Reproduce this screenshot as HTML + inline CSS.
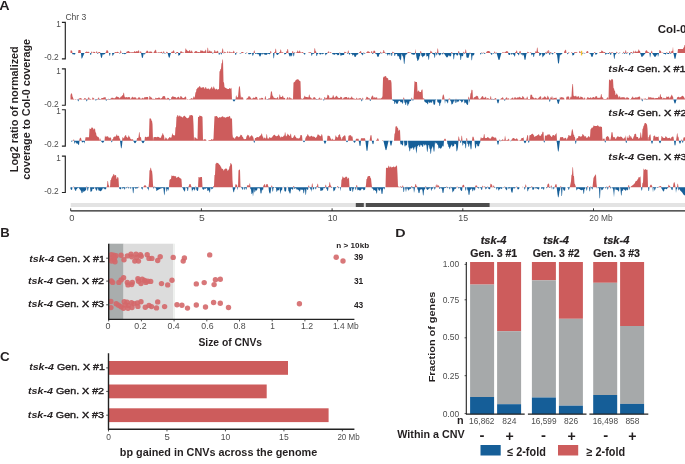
<!DOCTYPE html>
<html><head><meta charset="utf-8"><title>Figure</title>
<style>html,body{margin:0;padding:0;background:#fff;width:685px;height:464px;overflow:hidden;position:relative;font-family:"Liberation Sans",sans-serif}</style>
</head><body>
<svg width="685" height="464" viewBox="0 0 685 464" style="display:block;will-change:transform">
<g font-family='"Liberation Sans", sans-serif'>
<path d="M61.9,22.40 H65.3 V58.80 H61.9" fill="none" stroke="#222" stroke-width="1.15"/>
<path d="M70.5,53.00 L70.5,50.50 L71.0,50.50 L71.5,50.50 L72.0,50.50 L72.5,53.00 L73.0,53.00 L73.5,53.00 L74.0,53.00 L74.5,53.00 L75.0,53.00 L75.5,53.00 L76.0,53.00 L76.5,53.00 L77.0,53.00 L77.5,53.00 L78.0,53.00 L78.5,49.98 L79.0,49.97 L79.5,49.95 L80.0,49.93 L80.5,49.91 L81.0,53.00 L81.5,53.00 L82.0,53.00 L82.5,53.00 L83.0,53.00 L83.5,53.00 L84.0,53.00 L84.5,53.00 L85.0,53.00 L85.5,52.05 L86.0,52.05 L86.5,51.62 L87.0,51.62 L87.5,52.01 L88.0,52.01 L88.5,51.87 L89.0,51.87 L89.5,53.00 L90.0,53.00 L90.5,53.00 L91.0,53.00 L91.5,51.38 L92.0,51.38 L92.5,53.00 L93.0,53.00 L93.5,51.75 L94.0,51.75 L94.5,51.93 L95.0,51.93 L95.5,53.00 L96.0,53.00 L96.5,51.14 L97.0,51.14 L97.5,53.00 L98.0,53.00 L98.5,51.88 L99.0,51.88 L99.5,51.94 L100.0,51.94 L100.5,53.00 L101.0,53.00 L101.5,53.00 L102.0,53.00 L102.5,53.00 L103.0,53.00 L103.5,53.00 L104.0,53.00 L104.5,53.00 L105.0,53.00 L105.5,52.60 L106.0,52.60 L106.5,50.35 L107.0,50.35 L107.5,50.54 L108.0,50.54 L108.5,53.00 L109.0,53.00 L109.5,53.00 L110.0,53.00 L110.5,53.00 L111.0,53.00 L111.5,53.00 L112.0,53.00 L112.5,53.00 L113.0,53.00 L113.5,53.00 L114.0,53.00 L114.5,52.56 L115.0,52.56 L115.5,52.12 L116.0,52.12 L116.5,52.17 L117.0,52.17 L117.5,51.63 L118.0,51.63 L118.5,52.59 L119.0,52.59 L119.5,53.00 L120.0,53.00 L120.5,50.47 L121.0,50.47 L121.5,53.00 L122.0,53.00 L122.5,53.00 L123.0,53.00 L123.5,53.00 L124.0,53.00 L124.5,53.00 L125.0,53.00 L125.5,53.00 L126.0,53.00 L126.5,51.68 L127.0,51.68 L127.5,51.23 L128.0,51.23 L128.5,51.03 L129.0,51.03 L129.5,52.12 L130.0,52.12 L130.5,52.53 L131.0,52.53 L131.5,52.36 L132.0,52.36 L132.5,52.22 L133.0,52.22 L133.5,52.30 L134.0,52.30 L134.5,51.09 L135.0,51.09 L135.5,52.02 L136.0,52.02 L136.5,51.11 L137.0,51.11 L137.5,51.49 L138.0,51.49 L138.5,50.13 L139.0,50.13 L139.5,53.00 L140.0,53.00 L140.5,51.19 L141.0,51.19 L141.5,53.00 L142.0,53.00 L142.5,53.00 L143.0,53.00 L143.5,53.00 L144.0,53.00 L144.5,53.00 L145.0,53.00 L145.5,52.44 L146.0,52.44 L146.5,50.73 L147.0,50.73 L147.5,50.77 L148.0,50.77 L148.5,52.43 L149.0,52.43 L149.5,51.43 L150.0,51.43 L150.5,51.43 L151.0,51.43 L151.5,51.86 L152.0,51.86 L152.5,53.00 L153.0,53.00 L153.5,52.48 L154.0,52.48 L154.5,50.79 L155.0,50.79 L155.5,49.78 L156.0,49.78 L156.5,52.43 L157.0,52.43 L157.5,52.64 L158.0,52.64 L158.5,52.13 L159.0,52.13 L159.5,52.44 L160.0,52.44 L160.5,52.28 L161.0,52.28 L161.5,51.84 L162.0,51.84 L162.5,53.00 L163.0,53.00 L163.5,51.28 L164.0,51.28 L164.5,53.00 L165.0,53.00 L165.5,53.00 L166.0,53.00 L166.5,51.67 L167.0,51.67 L167.5,52.27 L168.0,53.00 L168.5,53.00 L169.0,53.00 L169.5,53.00 L170.0,53.00 L170.5,53.00 L171.0,53.00 L171.5,51.72 L172.0,51.72 L172.5,51.42 L173.0,51.42 L173.5,50.13 L174.0,50.13 L174.5,52.64 L175.0,52.64 L175.5,53.00 L176.0,53.00 L176.5,51.94 L177.0,51.94 L177.5,51.90 L178.0,51.90 L178.5,53.00 L179.0,53.00 L179.5,53.00 L180.0,53.00 L180.5,51.17 L181.0,51.17 L181.5,51.60 L182.0,51.60 L182.5,52.60 L183.0,52.60 L183.5,52.38 L184.0,52.38 L184.5,53.00 L185.0,53.00 L185.5,48.47 L186.0,48.47 L186.5,50.00 L187.0,50.00 L187.5,51.01 L188.0,51.01 L188.5,51.37 L189.0,51.37 L189.5,49.96 L190.0,49.96 L190.5,51.82 L191.0,51.82 L191.5,50.60 L192.0,50.60 L192.5,52.54 L193.0,52.54 L193.5,53.00 L194.0,53.00 L194.5,51.66 L195.0,51.66 L195.5,51.11 L196.0,51.11 L196.5,51.27 L197.0,51.27 L197.5,52.34 L198.0,52.34 L198.5,52.07 L199.0,52.07 L199.5,52.24 L200.0,52.24 L200.5,50.21 L201.0,50.21 L201.5,50.74 L202.0,50.74 L202.5,50.79 L203.0,50.79 L203.5,51.43 L204.0,51.43 L204.5,51.28 L205.0,51.28 L205.5,49.68 L206.0,49.68 L206.5,53.00 L207.0,53.00 L207.5,47.66 L208.0,47.66 L208.5,51.70 L209.0,51.70 L209.5,50.51 L210.0,50.51 L210.5,51.57 L211.0,51.57 L211.5,51.54 L212.0,51.54 L212.5,53.00 L213.0,53.00 L213.5,52.53 L214.0,52.53 L214.5,49.99 L215.0,49.99 L215.5,51.63 L216.0,51.63 L216.5,51.56 L217.0,51.56 L217.5,50.79 L218.0,50.79 L218.5,53.00 L219.0,53.00 L219.5,53.00 L220.0,52.61 L220.5,52.19 L221.0,53.00 L221.5,53.00 L222.0,51.04 L222.5,48.57 L223.0,48.57 L223.5,53.00 L224.0,53.00 L224.5,51.83 L225.0,51.83 L225.5,52.57 L226.0,52.57 L226.5,53.00 L227.0,53.00 L227.5,51.37 L228.0,51.37 L228.5,53.00 L229.0,53.00 L229.5,51.38 L230.0,51.38 L230.5,52.58 L231.0,52.58 L231.5,52.36 L232.0,52.36 L232.5,52.47 L233.0,52.47 L233.5,50.73 L234.0,50.73 L234.5,52.45 L235.0,53.00 L235.5,53.00 L236.0,53.00 L236.5,52.28 L237.0,52.28 L237.5,53.00 L238.0,53.00 L238.5,53.00 L239.0,53.00 L239.5,53.00 L240.0,53.00 L240.5,53.00 L241.0,53.00 L241.5,52.11 L242.0,52.11 L242.5,52.03 L243.0,52.03 L243.5,52.63 L244.0,52.63 L244.5,53.00 L245.0,53.00 L245.5,53.00 L246.0,53.00 L246.5,52.44 L247.0,52.44 L247.5,53.00 L248.0,53.00 L248.5,53.00 L249.0,53.00 L249.5,53.00 L250.0,53.00 L250.5,53.00 L251.0,53.00 L251.5,53.00 L252.0,53.00 L252.5,53.00 L253.0,53.00 L253.5,53.00 L254.0,50.50 L254.5,50.50 L255.0,53.00 L255.5,53.00 L256.0,53.00 L256.5,53.00 L257.0,53.00 L257.5,53.00 L258.0,53.00 L258.5,53.00 L259.0,53.00 L259.5,53.00 L260.0,53.00 L260.5,53.00 L261.0,53.00 L261.5,53.00 L262.0,53.00 L262.5,53.00 L263.0,53.00 L263.5,53.00 L264.0,53.00 L264.5,53.00 L265.0,53.00 L265.5,53.00 L266.0,53.00 L266.5,53.00 L267.0,53.00 L267.5,53.00 L268.0,53.00 L268.5,53.00 L269.0,53.00 L269.5,53.00 L270.0,53.00 L270.5,51.10 L271.0,51.10 L271.5,53.00 L272.0,53.00 L272.5,53.00 L273.0,53.00 L273.5,53.00 L274.0,53.00 L274.5,51.98 L275.0,51.98 L275.5,48.79 L276.0,48.79 L276.5,53.00 L277.0,53.00 L277.5,53.00 L278.0,53.00 L278.5,53.00 L279.0,53.00 L279.5,52.07 L280.0,52.07 L280.5,49.46 L281.0,49.46 L281.5,52.43 L282.0,52.43 L282.5,52.32 L283.0,52.32 L283.5,53.00 L284.0,53.00 L284.5,53.00 L285.0,53.00 L285.5,53.00 L286.0,53.00 L286.5,51.19 L287.0,51.19 L287.5,48.95 L288.0,48.95 L288.5,53.00 L289.0,53.00 L289.5,53.00 L290.0,53.00 L290.5,53.00 L291.0,53.00 L291.5,53.00 L292.0,53.00 L292.5,51.09 L293.0,51.09 L293.5,53.00 L294.0,53.00 L294.5,52.35 L295.0,52.35 L295.5,53.00 L296.0,53.00 L296.5,52.22 L297.0,52.22 L297.5,50.54 L298.0,50.54 L298.5,52.04 L299.0,52.04 L299.5,50.42 L300.0,50.42 L300.5,52.44 L301.0,52.44 L301.5,52.38 L302.0,52.38 L302.5,51.89 L303.0,51.89 L303.5,53.00 L304.0,53.00 L304.5,53.00 L305.0,53.00 L305.5,53.00 L306.0,53.00 L306.5,53.00 L307.0,53.00 L307.5,53.00 L308.0,53.00 L308.5,52.43 L309.0,52.43 L309.5,52.35 L310.0,52.35 L310.5,52.30 L311.0,52.30 L311.5,53.00 L312.0,53.00 L312.5,53.00 L313.0,53.00 L313.5,53.00 L314.0,53.00 L314.5,48.16 L315.0,48.16 L315.5,51.24 L316.0,51.24 L316.5,53.00 L317.0,53.00 L317.5,53.00 L318.0,53.00 L318.5,53.00 L319.0,53.00 L319.5,53.00 L320.0,53.00 L320.5,53.00 L321.0,53.00 L321.5,53.00 L322.0,53.00 L322.5,53.00 L323.0,53.00 L323.5,53.00 L324.0,53.00 L324.5,53.00 L325.0,53.00 L325.5,53.00 L326.0,53.00 L326.5,53.00 L327.0,53.00 L327.5,52.55 L328.0,52.55 L328.5,51.16 L329.0,51.16 L329.5,53.00 L330.0,53.00 L330.5,52.10 L331.0,52.10 L331.5,53.00 L332.0,53.00 L332.5,53.00 L333.0,53.00 L333.5,53.00 L334.0,53.00 L334.5,53.00 L335.0,53.00 L335.5,53.00 L336.0,53.00 L336.5,53.00 L337.0,53.00 L337.5,53.00 L338.0,53.00 L338.5,53.00 L339.0,53.00 L339.5,52.47 L340.0,52.47 L340.5,53.00 L341.0,53.00 L341.5,53.00 L342.0,53.00 L342.5,53.00 L343.0,53.00 L343.5,53.00 L344.0,53.00 L344.5,51.82 L345.0,51.82 L345.5,52.35 L346.0,52.35 L346.5,53.00 L347.0,53.00 L347.5,53.00 L348.0,50.46 L348.5,50.46 L349.0,53.00 L349.5,53.00 L350.0,53.00 L350.5,53.00 L351.0,53.00 L351.5,53.00 L352.0,53.00 L352.5,53.00 L353.0,53.00 L353.5,53.00 L354.0,53.00 L354.5,53.00 L355.0,53.00 L355.5,53.00 L356.0,53.00 L356.5,53.00 L357.0,53.00 L357.5,53.00 L358.0,53.00 L358.5,53.00 L359.0,53.00 L359.5,52.10 L360.0,52.10 L360.5,50.99 L361.0,50.99 L361.5,53.00 L362.0,53.00 L362.5,53.00 L363.0,53.00 L363.5,52.53 L364.0,52.53 L364.5,53.00 L365.0,53.00 L365.5,53.00 L366.0,53.00 L366.5,52.19 L367.0,52.19 L367.5,51.17 L368.0,51.17 L368.5,51.61 L369.0,51.61 L369.5,52.13 L370.0,52.13 L370.5,53.00 L371.0,53.00 L371.5,50.97 L372.0,50.97 L372.5,53.00 L373.0,53.00 L373.5,50.67 L374.0,50.67 L374.5,50.85 L375.0,50.85 L375.5,53.00 L376.0,53.00 L376.5,53.00 L377.0,53.00 L377.5,53.00 L378.0,53.00 L378.5,53.00 L379.0,53.00 L379.5,53.00 L380.0,53.00 L380.5,51.81 L381.0,51.81 L381.5,53.00 L382.0,53.00 L382.5,52.48 L383.0,52.48 L383.5,49.88 L384.0,49.88 L384.5,52.23 L385.0,52.23 L385.5,53.00 L386.0,53.00 L386.5,53.00 L387.0,53.00 L387.5,53.00 L388.0,53.00 L388.5,53.00 L389.0,53.00 L389.5,53.00 L390.0,53.00 L390.5,53.00 L391.0,53.00 L391.5,53.00 L392.0,53.00 L392.5,51.72 L393.0,51.72 L393.5,52.39 L394.0,52.39 L394.5,53.00 L395.0,53.00 L395.5,53.00 L396.0,53.00 L396.5,53.00 L397.0,53.00 L397.5,53.00 L398.0,53.00 L398.5,53.00 L399.0,53.00 L399.5,53.00 L400.0,53.00 L400.5,53.00 L401.0,53.00 L401.5,53.00 L402.0,53.00 L402.5,53.00 L403.0,53.00 L403.5,53.00 L404.0,53.00 L404.5,53.00 L405.0,53.00 L405.5,53.00 L406.0,53.00 L406.5,53.00 L407.0,53.00 L407.5,52.42 L408.0,52.42 L408.5,52.05 L409.0,52.05 L409.5,52.51 L410.0,52.51 L410.5,52.48 L411.0,52.48 L411.5,53.00 L412.0,53.00 L412.5,53.00 L413.0,53.00 L413.5,53.00 L414.0,53.00 L414.5,53.00 L415.0,53.00 L415.5,48.67 L416.0,53.00 L416.5,53.00 L417.0,53.00 L417.5,53.00 L418.0,53.00 L418.5,53.00 L419.0,53.00 L419.5,53.00 L420.0,53.00 L420.5,50.89 L421.0,50.89 L421.5,53.00 L422.0,53.00 L422.5,53.00 L423.0,53.00 L423.5,53.00 L424.0,53.00 L424.5,53.00 L425.0,53.00 L425.5,53.00 L426.0,53.00 L426.5,53.00 L427.0,53.00 L427.5,53.00 L428.0,53.00 L428.5,53.00 L429.0,53.00 L429.5,53.00 L430.0,53.00 L430.5,50.87 L431.0,50.87 L431.5,51.66 L432.0,51.66 L432.5,53.00 L433.0,53.00 L433.5,53.00 L434.0,53.00 L434.5,53.00 L435.0,53.00 L435.5,52.24 L436.0,52.24 L436.5,53.00 L437.0,53.00 L437.5,48.44 L438.0,48.44 L438.5,53.00 L439.0,53.00 L439.5,53.00 L440.0,53.00 L440.5,53.00 L441.0,53.00 L441.5,53.00 L442.0,53.00 L442.5,53.00 L443.0,53.00 L443.5,52.24 L444.0,53.00 L444.5,53.00 L445.0,53.00 L445.5,53.00 L446.0,53.00 L446.5,53.00 L447.0,53.00 L447.5,53.00 L448.0,53.00 L448.5,53.00 L449.0,53.00 L449.5,53.00 L450.0,53.00 L450.5,53.00 L451.0,53.00 L451.5,52.04 L452.0,52.04 L452.5,53.00 L453.0,53.00 L453.5,53.00 L454.0,53.00 L454.5,53.00 L455.0,53.00 L455.5,53.00 L456.0,53.00 L456.5,53.00 L457.0,53.00 L457.5,53.00 L458.0,53.00 L458.5,51.11 L459.0,51.11 L459.5,53.00 L460.0,53.00 L460.5,53.00 L461.0,53.00 L461.5,53.00 L462.0,53.00 L462.5,53.00 L463.0,53.00 L463.5,51.70 L464.0,51.70 L464.5,53.00 L465.0,53.00 L465.5,49.50 L466.0,49.50 L466.5,53.00 L467.0,53.00 L467.5,53.00 L468.0,53.00 L468.5,53.00 L469.0,53.00 L469.5,53.00 L470.0,52.18 L470.5,53.00 L471.0,53.00 L471.5,53.00 L472.0,53.00 L472.5,53.00 L473.0,53.00 L473.5,53.00 L474.0,53.00 L474.5,53.00 L475.0,53.00 L475.5,53.00 L476.0,53.00 L476.5,53.00 L477.0,53.00 L477.5,53.00 L478.0,53.00 L478.5,53.00 L479.0,53.00 L479.5,53.00 L480.0,53.00 L480.5,53.00 L481.0,53.00 L481.5,52.49 L482.0,52.49 L482.5,53.00 L483.0,53.00 L483.5,52.38 L484.0,52.38 L484.5,53.00 L485.0,53.00 L485.5,53.00 L486.0,53.00 L486.5,51.71 L487.0,51.71 L487.5,51.09 L488.0,51.09 L488.5,50.94 L489.0,50.94 L489.5,51.54 L490.0,51.54 L490.5,53.00 L491.0,53.00 L491.5,53.00 L492.0,53.00 L492.5,53.00 L493.0,53.00 L493.5,53.00 L494.0,53.00 L494.5,51.54 L495.0,51.54 L495.5,53.00 L496.0,53.00 L496.5,52.26 L497.0,53.00 L497.5,53.00 L498.0,53.00 L498.5,53.00 L499.0,53.00 L499.5,53.00 L500.0,53.00 L500.5,53.00 L501.0,53.00 L501.5,53.00 L502.0,53.00 L502.5,52.34 L503.0,52.34 L503.5,52.41 L504.0,52.41 L504.5,52.60 L505.0,52.60 L505.5,51.71 L506.0,51.71 L506.5,51.01 L507.0,51.01 L507.5,51.59 L508.0,51.59 L508.5,53.00 L509.0,53.00 L509.5,53.00 L510.0,53.00 L510.5,53.00 L511.0,53.00 L511.5,53.00 L512.0,53.00 L512.5,53.00 L513.0,53.00 L513.5,53.00 L514.0,53.00 L514.5,53.00 L515.0,53.00 L515.5,51.99 L516.0,51.99 L516.5,50.50 L517.0,50.50 L517.5,53.00 L518.0,53.00 L518.5,53.00 L519.0,53.00 L519.5,51.36 L520.0,51.36 L520.5,50.69 L521.0,53.00 L521.5,53.00 L522.0,53.00 L522.5,53.00 L523.0,53.00 L523.5,53.00 L524.0,53.00 L524.5,53.00 L525.0,53.00 L525.5,53.00 L526.0,53.00 L526.5,53.00 L527.0,53.00 L527.5,51.75 L528.0,51.75 L528.5,52.45 L529.0,52.45 L529.5,53.00 L530.0,53.00 L530.5,52.27 L531.0,52.27 L531.5,53.00 L532.0,53.00 L532.5,53.00 L533.0,53.00 L533.5,53.00 L534.0,53.00 L534.5,53.00 L535.0,53.00 L535.5,51.25 L536.0,51.25 L536.5,51.98 L537.0,47.70 L537.5,47.40 L538.0,51.69 L538.5,52.17 L539.0,52.17 L539.5,53.00 L540.0,53.00 L540.5,53.00 L541.0,53.00 L541.5,53.00 L542.0,53.00 L542.5,53.00 L543.0,53.00 L543.5,53.00 L544.0,53.00 L544.5,53.00 L545.0,53.00 L545.5,52.26 L546.0,52.26 L546.5,53.00 L547.0,50.84 L547.5,50.84 L548.0,53.00 L548.5,49.98 L549.0,49.98 L549.5,53.00 L550.0,53.00 L550.5,52.09 L551.0,52.09 L551.5,53.00 L552.0,53.00 L552.5,53.00 L553.0,53.00 L553.5,53.00 L554.0,53.00 L554.5,52.04 L555.0,52.04 L555.5,53.00 L556.0,53.00 L556.5,53.00 L557.0,53.00 L557.5,53.00 L558.0,53.00 L558.5,53.00 L559.0,53.00 L559.5,53.00 L560.0,53.00 L560.5,53.00 L561.0,53.00 L561.5,53.00 L562.0,53.00 L562.5,53.00 L563.0,53.00 L563.5,53.00 L564.0,53.00 L564.5,50.66 L565.0,50.66 L565.5,49.72 L566.0,49.72 L566.5,53.00 L567.0,53.00 L567.5,53.00 L568.0,53.00 L568.5,52.27 L569.0,52.27 L569.5,53.00 L570.0,53.00 L570.5,53.00 L571.0,53.00 L571.5,52.20 L572.0,52.20 L572.5,53.00 L573.0,53.00 L573.5,53.00 L574.0,53.00 L574.5,52.07 L575.0,52.07 L575.5,52.28 L576.0,52.28 L576.5,52.23 L577.0,52.23 L577.5,53.00 L578.0,53.00 L578.5,53.00 L579.0,53.00 L579.5,51.01 L580.0,51.01 L580.5,52.60 L581.0,52.60 L581.5,52.01 L582.0,52.01 L582.5,53.00 L583.0,53.00 L583.5,52.65 L584.0,52.65 L584.5,53.00 L585.0,53.00 L585.5,53.00 L586.0,53.00 L586.5,51.48 L587.0,51.48 L587.5,51.06 L588.0,51.06 L588.5,53.00 L589.0,53.00 L589.5,53.00 L590.0,53.00 L590.5,53.00 L591.0,53.00 L591.5,53.00 L592.0,53.00 L592.5,53.00 L593.0,53.00 L593.5,53.00 L594.0,53.00 L594.5,52.01 L595.0,52.01 L595.5,53.00 L596.0,53.00 L596.5,53.00 L597.0,53.00 L597.5,53.00 L598.0,53.00 L598.5,53.00 L599.0,53.00 L599.5,52.20 L600.0,52.20 L600.5,52.08 L601.0,52.08 L601.5,50.45 L602.0,50.45 L602.5,51.21 L603.0,51.21 L603.5,52.21 L604.0,52.21 L604.5,52.08 L605.0,52.08 L605.5,53.00 L606.0,53.00 L606.5,53.00 L607.0,53.00 L607.5,53.00 L608.0,53.00 L608.5,53.00 L609.0,53.00 L609.5,51.95 L610.0,51.95 L610.5,53.00 L611.0,53.00 L611.5,52.31 L612.0,52.31 L612.5,52.54 L613.0,52.54 L613.5,53.00 L614.0,53.00 L614.5,53.00 L615.0,53.00 L615.5,53.00 L616.0,53.00 L616.5,51.82 L617.0,51.82 L617.5,53.00 L618.0,53.00 L618.5,53.00 L619.0,53.00 L619.5,52.40 L620.0,52.40 L620.5,53.00 L621.0,53.00 L621.5,53.00 L622.0,53.00 L622.5,53.00 L623.0,53.00 L623.5,51.81 L624.0,51.81 L624.5,53.00 L625.0,53.00 L625.5,50.20 L626.0,50.20 L626.5,53.00 L627.0,53.00 L627.5,52.19 L628.0,52.19 L628.5,53.00 L629.0,53.00 L629.5,53.00 L630.0,53.00 L630.5,52.19 L631.0,52.19 L631.5,51.91 L632.0,51.91 L632.5,53.00 L633.0,53.00 L633.5,50.85 L634.0,50.85 L634.5,52.43 L635.0,52.43 L635.5,50.87 L636.0,50.87 L636.5,52.07 L637.0,52.07 L637.5,51.61 L638.0,51.61 L638.5,49.52 L639.0,49.52 L639.5,51.02 L640.0,51.02 L640.5,53.00 L641.0,53.00 L641.5,53.00 L642.0,53.00 L642.5,53.00 L643.0,53.00 L643.5,53.00 L644.0,53.00 L644.5,53.00 L645.0,53.00 L645.5,50.84 L646.0,50.84 L646.5,50.26 L647.0,50.26 L647.5,51.81 L648.0,51.81 L648.5,52.16 L649.0,52.16 L649.5,53.00 L650.0,53.00 L650.5,53.00 L651.0,52.39 L651.5,50.70 L652.0,50.70 L652.5,53.00 L653.0,53.00 L653.5,53.00 L654.0,53.00 L654.5,53.00 L655.0,53.00 L655.5,53.00 L656.0,53.00 L656.5,53.00 L657.0,53.00 L657.5,53.00 L658.0,53.00 L658.5,53.00 L659.0,53.00 L659.5,49.96 L660.0,49.96 L660.5,50.97 L661.0,50.97 L661.5,53.00 L662.0,53.00 L662.5,52.54 L663.0,52.54 L663.5,53.00 L664.0,53.00 L664.5,53.00 L665.0,53.00 L665.5,53.00 L666.0,53.00 L666.5,52.36 L667.0,52.36 L667.5,53.00 L668.0,53.00 L668.5,53.00 L669.0,53.00 L669.5,50.93 L670.0,50.93 L670.5,53.00 L671.0,53.00 L671.5,51.09 L672.0,51.09 L672.5,50.75 L673.0,46.53 L673.5,53.00 L674.0,53.00 L674.5,53.00 L675.0,53.00 L675.5,53.00 L676.0,53.00 L676.5,53.00 L677.0,53.00 L677.5,53.00 L678.0,49.00 L678.5,49.00 L679.0,49.00 L679.5,49.00 L680.0,49.00 L680.5,49.00 L681.0,49.00 L681.5,49.00 L682.0,49.00 L682.5,49.00 L683.0,49.00 L683.5,47.58 L684.0,47.58 L684.5,45.12 L685.0,45.12 L685.0,53.00 Z" fill="#cd5c5c"/>
<path d="M70.5,53.00 L70.5,53.00 L71.0,53.00 L71.5,53.00 L72.0,53.00 L72.5,54.23 L73.0,54.29 L73.5,54.34 L74.0,54.39 L74.5,54.45 L75.0,54.50 L75.5,53.00 L76.0,53.00 L76.5,53.00 L77.0,53.00 L77.5,53.00 L78.0,53.00 L78.5,53.00 L79.0,53.00 L79.5,53.00 L80.0,53.00 L80.5,53.00 L81.0,53.00 L81.5,58.40 L82.0,58.61 L82.5,57.50 L83.0,56.33 L83.5,55.17 L84.0,54.00 L84.5,53.00 L85.0,53.00 L85.5,53.00 L86.0,53.00 L86.5,53.00 L87.0,53.00 L87.5,53.00 L88.0,53.00 L88.5,53.00 L89.0,53.00 L89.5,53.00 L90.0,53.00 L90.5,54.93 L91.0,54.93 L91.5,53.00 L92.0,53.00 L92.5,53.00 L93.0,53.00 L93.5,53.00 L94.0,53.00 L94.5,53.00 L95.0,53.00 L95.5,53.00 L96.0,53.00 L96.5,53.00 L97.0,53.00 L97.5,53.83 L98.0,53.83 L98.5,53.00 L99.0,53.00 L99.5,53.00 L100.0,53.00 L100.5,55.00 L101.0,57.50 L101.5,58.00 L102.0,57.50 L102.5,55.00 L103.0,53.76 L103.5,54.71 L104.0,54.71 L104.5,53.90 L105.0,53.90 L105.5,53.00 L106.0,53.00 L106.5,53.00 L107.0,53.00 L107.5,53.00 L108.0,53.00 L108.5,53.00 L109.0,53.00 L109.5,55.84 L110.0,55.84 L110.5,53.00 L111.0,53.00 L111.5,53.00 L112.0,53.00 L112.5,55.75 L113.0,55.75 L113.5,54.14 L114.0,54.14 L114.5,53.00 L115.0,53.00 L115.5,53.00 L116.0,53.00 L116.5,53.00 L117.0,53.00 L117.5,53.00 L118.0,53.00 L118.5,53.00 L119.0,53.00 L119.5,53.58 L120.0,53.58 L120.5,53.00 L121.0,53.00 L121.5,53.00 L122.0,53.00 L122.5,53.92 L123.0,53.92 L123.5,53.38 L124.0,53.38 L124.5,54.21 L125.0,54.21 L125.5,53.71 L126.0,53.71 L126.5,53.00 L127.0,53.00 L127.5,53.00 L128.0,53.00 L128.5,53.00 L129.0,53.00 L129.5,53.00 L130.0,53.00 L130.5,53.00 L131.0,53.00 L131.5,53.00 L132.0,53.00 L132.5,53.00 L133.0,53.00 L133.5,53.00 L134.0,53.00 L134.5,53.00 L135.0,53.00 L135.5,53.00 L136.0,53.00 L136.5,53.00 L137.0,53.00 L137.5,53.00 L138.0,53.00 L138.5,53.00 L139.0,53.00 L139.5,53.00 L140.0,53.00 L140.5,53.00 L141.0,53.00 L141.5,55.50 L142.0,58.00 L142.5,58.00 L143.0,57.00 L143.5,54.50 L144.0,53.00 L144.5,54.39 L145.0,54.39 L145.5,53.00 L146.0,53.00 L146.5,53.00 L147.0,53.00 L147.5,53.00 L148.0,53.00 L148.5,53.00 L149.0,53.00 L149.5,53.00 L150.0,53.00 L150.5,53.00 L151.0,53.00 L151.5,53.00 L152.0,53.00 L152.5,53.00 L153.0,53.00 L153.5,53.00 L154.0,53.00 L154.5,53.00 L155.0,53.00 L155.5,53.00 L156.0,53.00 L156.5,53.00 L157.0,53.00 L157.5,53.00 L158.0,53.00 L158.5,53.00 L159.0,53.00 L159.5,53.00 L160.0,53.00 L160.5,53.00 L161.0,53.00 L161.5,53.00 L162.0,53.00 L162.5,53.41 L163.0,53.41 L163.5,53.00 L164.0,53.00 L164.5,53.38 L165.0,53.38 L165.5,53.35 L166.0,53.35 L166.5,53.00 L167.0,53.00 L167.5,53.00 L168.0,54.57 L168.5,56.53 L169.0,57.70 L169.5,57.70 L170.0,56.13 L170.5,54.17 L171.0,53.00 L171.5,53.00 L172.0,53.00 L172.5,53.00 L173.0,53.00 L173.5,53.00 L174.0,53.00 L174.5,53.00 L175.0,53.00 L175.5,53.68 L176.0,53.68 L176.5,53.00 L177.0,53.00 L177.5,53.00 L178.0,53.00 L178.5,55.69 L179.0,55.69 L179.5,54.96 L180.0,54.96 L180.5,53.00 L181.0,53.00 L181.5,53.00 L182.0,53.00 L182.5,53.00 L183.0,53.00 L183.5,53.00 L184.0,53.00 L184.5,53.00 L185.0,53.00 L185.5,53.00 L186.0,53.00 L186.5,53.00 L187.0,53.00 L187.5,53.00 L188.0,53.00 L188.5,53.00 L189.0,53.00 L189.5,53.00 L190.0,53.00 L190.5,53.00 L191.0,53.00 L191.5,53.00 L192.0,53.00 L192.5,53.00 L193.0,53.00 L193.5,53.00 L194.0,53.00 L194.5,53.00 L195.0,53.00 L195.5,53.00 L196.0,53.00 L196.5,53.00 L197.0,53.00 L197.5,53.00 L198.0,53.00 L198.5,53.00 L199.0,53.00 L199.5,53.00 L200.0,53.00 L200.5,53.00 L201.0,53.00 L201.5,53.00 L202.0,53.00 L202.5,53.00 L203.0,53.00 L203.5,53.00 L204.0,53.00 L204.5,53.00 L205.0,53.00 L205.5,53.00 L206.0,53.00 L206.5,53.00 L207.0,53.00 L207.5,53.00 L208.0,53.00 L208.5,53.00 L209.0,53.00 L209.5,53.00 L210.0,53.00 L210.5,53.00 L211.0,53.00 L211.5,53.00 L212.0,53.00 L212.5,53.50 L213.0,53.50 L213.5,53.00 L214.0,53.00 L214.5,53.00 L215.0,53.00 L215.5,53.00 L216.0,53.00 L216.5,53.00 L217.0,53.00 L217.5,53.00 L218.0,53.00 L218.5,53.00 L219.0,55.19 L219.5,54.52 L220.0,53.00 L220.5,53.00 L221.0,54.59 L221.5,54.59 L222.0,53.00 L222.5,53.00 L223.0,53.00 L223.5,53.36 L224.0,53.36 L224.5,53.00 L225.0,53.00 L225.5,53.00 L226.0,53.00 L226.5,53.00 L227.0,53.00 L227.5,53.00 L228.0,53.00 L228.5,53.00 L229.0,53.00 L229.5,53.00 L230.0,53.00 L230.5,53.00 L231.0,53.00 L231.5,53.00 L232.0,53.00 L232.5,53.00 L233.0,53.00 L233.5,53.00 L234.0,53.00 L234.5,53.00 L235.0,53.00 L235.5,55.04 L236.0,55.04 L236.5,53.00 L237.0,53.00 L237.5,53.00 L238.0,53.00 L238.5,53.00 L239.0,53.00 L239.5,53.37 L240.0,53.37 L240.5,53.41 L241.0,53.41 L241.5,53.00 L242.0,53.00 L242.5,53.00 L243.0,53.00 L243.5,53.00 L244.0,53.00 L244.5,53.00 L245.0,53.00 L245.5,53.84 L246.0,53.84 L246.5,53.00 L247.0,53.00 L247.5,53.00 L248.0,53.00 L248.5,54.14 L249.0,54.14 L249.5,54.34 L250.0,54.34 L250.5,54.06 L251.0,54.06 L251.5,53.00 L252.0,53.00 L252.5,55.74 L253.0,55.74 L253.5,54.53 L254.0,53.00 L254.5,53.00 L255.0,53.00 L255.5,54.10 L256.0,54.10 L256.5,53.41 L257.0,53.41 L257.5,54.19 L258.0,54.19 L258.5,54.00 L259.0,55.10 L259.5,56.27 L260.0,56.50 L260.5,56.27 L261.0,55.10 L261.5,53.93 L262.0,53.00 L262.5,54.49 L263.0,54.49 L263.5,53.45 L264.0,53.45 L264.5,54.82 L265.0,54.82 L265.5,54.76 L266.0,54.76 L266.5,54.66 L267.0,54.66 L267.5,53.50 L268.0,53.50 L268.5,54.01 L269.0,54.01 L269.5,54.17 L270.0,54.17 L270.5,53.00 L271.0,53.00 L271.5,53.00 L272.0,53.00 L272.5,53.00 L273.0,53.00 L273.5,58.24 L274.0,58.24 L274.5,53.00 L275.0,53.00 L275.5,53.00 L276.0,53.00 L276.5,54.58 L277.0,54.58 L277.5,55.08 L278.0,55.08 L278.5,53.68 L279.0,53.68 L279.5,53.00 L280.0,53.00 L280.5,53.00 L281.0,53.00 L281.5,53.00 L282.0,53.00 L282.5,53.00 L283.0,53.00 L283.5,53.00 L284.0,53.00 L284.5,54.45 L285.0,54.45 L285.5,54.08 L286.0,54.08 L286.5,53.00 L287.0,53.00 L287.5,53.00 L288.0,53.00 L288.5,53.29 L289.0,54.75 L289.5,56.21 L290.0,56.50 L290.5,56.21 L291.0,54.75 L291.5,56.34 L292.0,56.34 L292.5,53.00 L293.0,53.00 L293.5,56.23 L294.0,56.23 L294.5,53.00 L295.0,53.00 L295.5,53.00 L296.0,53.00 L296.5,53.00 L297.0,53.00 L297.5,53.00 L298.0,53.00 L298.5,53.00 L299.0,53.00 L299.5,53.00 L300.0,53.00 L300.5,53.00 L301.0,53.00 L301.5,53.00 L302.0,53.00 L302.5,53.00 L303.0,53.00 L303.5,53.41 L304.0,53.41 L304.5,54.68 L305.0,54.68 L305.5,53.00 L306.0,53.00 L306.5,53.00 L307.0,53.00 L307.5,53.00 L308.0,53.00 L308.5,53.00 L309.0,53.00 L309.5,53.00 L310.0,53.00 L310.5,53.00 L311.0,53.00 L311.5,55.74 L312.0,55.74 L312.5,53.77 L313.0,53.77 L313.5,53.77 L314.0,53.77 L314.5,53.00 L315.0,53.00 L315.5,53.00 L316.0,53.00 L316.5,56.12 L317.0,56.12 L317.5,54.03 L318.0,54.03 L318.5,53.00 L319.0,53.00 L319.5,54.32 L320.0,54.32 L320.5,54.57 L321.0,54.57 L321.5,53.62 L322.0,53.62 L322.5,54.37 L323.0,54.37 L323.5,53.53 L324.0,53.53 L324.5,53.00 L325.0,53.00 L325.5,55.32 L326.0,55.32 L326.5,53.92 L327.0,53.92 L327.5,53.00 L328.0,53.00 L328.5,53.00 L329.0,53.00 L329.5,53.00 L330.0,53.00 L330.5,53.00 L331.0,53.00 L331.5,53.00 L332.0,53.00 L332.5,54.29 L333.0,54.29 L333.5,54.46 L334.0,54.46 L334.5,54.73 L335.0,54.73 L335.5,53.68 L336.0,53.68 L336.5,54.31 L337.0,54.31 L337.5,55.27 L338.0,55.27 L338.5,54.99 L339.0,54.99 L339.5,53.00 L340.0,53.00 L340.5,55.65 L341.0,55.65 L341.5,55.25 L342.0,55.25 L342.5,55.04 L343.0,55.04 L343.5,54.92 L344.0,54.92 L344.5,53.00 L345.0,53.00 L345.5,53.00 L346.0,53.00 L346.5,53.00 L347.0,53.00 L347.5,54.26 L348.0,53.00 L348.5,53.00 L349.0,54.55 L349.5,54.51 L350.0,54.51 L350.5,53.00 L351.0,53.00 L351.5,54.06 L352.0,54.06 L352.5,55.56 L353.0,55.56 L353.5,54.49 L354.0,55.00 L354.5,56.67 L355.0,57.00 L355.5,56.67 L356.0,56.47 L356.5,54.63 L357.0,54.63 L357.5,54.44 L358.0,54.44 L358.5,53.00 L359.0,53.00 L359.5,53.00 L360.0,53.00 L360.5,53.00 L361.0,53.00 L361.5,54.25 L362.0,54.25 L362.5,55.18 L363.0,55.18 L363.5,53.00 L364.0,53.00 L364.5,53.66 L365.0,53.66 L365.5,53.00 L366.0,53.00 L366.5,53.00 L367.0,53.00 L367.5,53.00 L368.0,53.00 L368.5,53.00 L369.0,53.00 L369.5,53.00 L370.0,53.00 L370.5,53.00 L371.0,53.00 L371.5,53.00 L372.0,53.00 L372.5,54.05 L373.0,54.05 L373.5,53.00 L374.0,53.00 L374.5,53.00 L375.0,53.00 L375.5,53.76 L376.0,53.76 L376.5,54.07 L377.0,55.40 L377.5,56.73 L378.0,57.00 L378.5,56.73 L379.0,55.40 L379.5,54.07 L380.0,53.93 L380.5,53.00 L381.0,53.00 L381.5,53.53 L382.0,53.53 L382.5,53.00 L383.0,53.00 L383.5,53.00 L384.0,53.00 L384.5,53.00 L385.0,53.00 L385.5,53.48 L386.0,53.48 L386.5,53.40 L387.0,53.40 L387.5,55.56 L388.0,55.56 L388.5,53.94 L389.0,53.94 L389.5,54.16 L390.0,56.04 L390.5,53.00 L391.0,53.00 L391.5,55.92 L392.0,55.92 L392.5,53.00 L393.0,53.00 L393.5,53.00 L394.0,53.00 L394.5,56.00 L395.0,56.00 L395.5,53.95 L396.0,53.95 L396.5,53.97 L397.0,53.97 L397.5,56.25 L398.0,56.25 L398.5,56.16 L399.0,56.16 L399.5,58.89 L400.0,58.89 L400.5,60.19 L401.0,60.19 L401.5,54.20 L402.0,54.20 L402.5,56.20 L403.0,56.20 L403.5,59.06 L404.0,64.22 L404.5,63.41 L405.0,58.26 L405.5,54.87 L406.0,54.87 L406.5,54.18 L407.0,54.18 L407.5,53.00 L408.0,53.00 L408.5,53.00 L409.0,53.00 L409.5,53.00 L410.0,53.00 L410.5,53.00 L411.0,53.00 L411.5,54.24 L412.0,54.24 L412.5,54.52 L413.0,54.52 L413.5,54.68 L414.0,54.68 L414.5,54.51 L415.0,54.51 L415.5,53.00 L416.0,53.53 L416.5,57.47 L417.0,58.87 L417.5,61.00 L418.0,61.00 L418.5,59.48 L419.0,59.48 L419.5,56.30 L420.0,56.30 L420.5,53.00 L421.0,53.00 L421.5,56.01 L422.0,56.01 L422.5,57.20 L423.0,57.20 L423.5,55.93 L424.0,55.93 L424.5,55.50 L425.0,55.50 L425.5,53.00 L426.0,53.00 L426.5,56.47 L427.0,56.47 L427.5,56.00 L428.0,56.00 L428.5,59.70 L429.0,59.70 L429.5,54.20 L430.0,54.20 L430.5,53.00 L431.0,53.00 L431.5,53.00 L432.0,53.00 L432.5,53.91 L433.0,53.91 L433.5,54.39 L434.0,54.39 L434.5,57.86 L435.0,57.86 L435.5,53.00 L436.0,53.00 L436.5,55.21 L437.0,55.21 L437.5,53.00 L438.0,53.00 L438.5,54.46 L439.0,54.46 L439.5,55.49 L440.0,55.49 L440.5,54.47 L441.0,54.47 L441.5,53.00 L442.0,53.00 L442.5,54.55 L443.0,54.55 L443.5,53.00 L444.0,53.60 L444.5,54.35 L445.0,55.10 L445.5,55.85 L446.0,56.60 L446.5,57.35 L447.0,57.50 L447.5,57.35 L448.0,56.60 L448.5,55.85 L449.0,55.10 L449.5,56.33 L450.0,56.33 L450.5,56.28 L451.0,56.28 L451.5,53.00 L452.0,53.00 L452.5,53.84 L453.0,53.84 L453.5,59.13 L454.0,59.13 L454.5,54.64 L455.0,54.64 L455.5,53.71 L456.0,53.71 L456.5,55.35 L457.0,55.35 L457.5,55.43 L458.0,55.43 L458.5,53.00 L459.0,53.00 L459.5,55.24 L460.0,55.24 L460.5,60.01 L461.0,60.01 L461.5,55.83 L462.0,55.83 L462.5,56.25 L463.0,56.25 L463.5,53.00 L464.0,53.00 L464.5,53.82 L465.0,53.82 L465.5,53.00 L466.0,53.00 L466.5,57.57 L467.0,57.57 L467.5,57.67 L468.0,58.00 L468.5,57.67 L469.0,56.00 L469.5,54.33 L470.0,53.00 L470.5,53.71 L471.0,53.71 L471.5,60.28 L472.0,60.28 L472.5,55.52 L473.0,55.52 L473.5,55.35 L474.0,55.35 L474.5,53.00 L475.0,53.00 L475.5,53.00 L476.0,53.00 L476.5,53.00 L477.0,53.00 L477.5,53.00 L478.0,53.00 L478.5,53.00 L479.0,53.00 L479.5,53.00 L480.0,53.00 L480.5,54.52 L481.0,54.52 L481.5,53.00 L482.0,53.00 L482.5,53.61 L483.0,53.61 L483.5,53.00 L484.0,53.00 L484.5,53.96 L485.0,53.96 L485.5,53.00 L486.0,53.00 L486.5,53.00 L487.0,53.00 L487.5,53.00 L488.0,53.00 L488.5,53.00 L489.0,53.00 L489.5,53.00 L490.0,53.00 L490.5,53.52 L491.0,53.52 L491.5,54.96 L492.0,54.96 L492.5,53.00 L493.0,53.00 L493.5,53.87 L494.0,53.87 L494.5,53.00 L495.0,53.00 L495.5,53.62 L496.0,53.62 L496.5,53.00 L497.0,54.40 L497.5,56.15 L498.0,57.90 L498.5,59.65 L499.0,60.00 L499.5,59.65 L500.0,57.90 L500.5,56.15 L501.0,54.40 L501.5,53.00 L502.0,53.00 L502.5,53.00 L503.0,53.00 L503.5,53.00 L504.0,53.00 L504.5,53.00 L505.0,53.00 L505.5,53.00 L506.0,53.00 L506.5,53.00 L507.0,53.00 L507.5,53.00 L508.0,53.00 L508.5,54.80 L509.0,54.80 L509.5,55.05 L510.0,55.05 L510.5,53.00 L511.0,53.00 L511.5,54.73 L512.0,54.73 L512.5,53.57 L513.0,53.57 L513.5,55.06 L514.0,55.06 L514.5,56.61 L515.0,56.61 L515.5,53.00 L516.0,53.00 L516.5,53.00 L517.0,53.00 L517.5,54.02 L518.0,54.02 L518.5,55.24 L519.0,55.24 L519.5,53.00 L520.0,53.00 L520.5,53.00 L521.0,54.75 L521.5,54.75 L522.0,53.00 L522.5,55.51 L523.0,55.51 L523.5,54.59 L524.0,56.50 L524.5,59.42 L525.0,60.00 L525.5,59.42 L526.0,56.50 L526.5,53.58 L527.0,53.43 L527.5,53.00 L528.0,53.00 L528.5,53.00 L529.0,53.00 L529.5,53.00 L530.0,53.00 L530.5,53.00 L531.0,53.00 L531.5,55.22 L532.0,55.22 L532.5,54.15 L533.0,54.15 L533.5,57.01 L534.0,57.01 L534.5,53.69 L535.0,53.69 L535.5,53.00 L536.0,53.00 L536.5,53.00 L537.0,53.00 L537.5,53.00 L538.0,53.00 L538.5,53.00 L539.0,53.00 L539.5,56.11 L540.0,56.11 L540.5,54.74 L541.0,54.74 L541.5,53.36 L542.0,53.36 L542.5,57.18 L543.0,57.18 L543.5,55.84 L544.0,55.84 L544.5,54.65 L545.0,54.65 L545.5,53.00 L546.0,53.00 L546.5,54.17 L547.0,53.00 L547.5,53.00 L548.0,53.59 L548.5,53.00 L549.0,53.00 L549.5,54.96 L550.0,54.96 L550.5,53.00 L551.0,53.00 L551.5,53.56 L552.0,53.56 L552.5,54.40 L553.0,54.40 L553.5,53.00 L554.0,53.00 L554.5,53.00 L555.0,53.00 L555.5,53.00 L556.0,53.00 L556.5,54.60 L557.0,54.60 L557.5,58.40 L558.0,62.90 L558.5,63.80 L559.0,62.90 L559.5,58.40 L560.0,53.90 L560.5,55.26 L561.0,55.26 L561.5,54.04 L562.0,54.04 L562.5,53.00 L563.0,53.00 L563.5,53.00 L564.0,53.00 L564.5,53.00 L565.0,53.00 L565.5,53.00 L566.0,53.00 L566.5,53.00 L567.0,53.00 L567.5,54.30 L568.0,54.30 L568.5,53.00 L569.0,53.00 L569.5,53.00 L570.0,53.00 L570.5,53.00 L571.0,53.00 L571.5,53.00 L572.0,53.00 L572.5,55.56 L573.0,55.56 L573.5,54.96 L574.0,54.96 L574.5,53.00 L575.0,53.00 L575.5,53.00 L576.0,53.00 L576.5,53.00 L577.0,53.00 L577.5,53.00 L578.0,53.00 L578.5,53.00 L579.0,53.00 L579.5,53.00 L580.0,53.00 L580.5,53.00 L581.0,53.00 L581.5,53.00 L582.0,53.00 L582.5,53.64 L583.0,53.64 L583.5,53.00 L584.0,53.00 L584.5,53.51 L585.0,53.51 L585.5,53.00 L586.0,53.00 L586.5,53.00 L587.0,53.00 L587.5,53.00 L588.0,53.00 L588.5,53.00 L589.0,53.00 L589.5,53.40 L590.0,53.40 L590.5,54.07 L591.0,55.40 L591.5,56.73 L592.0,57.00 L592.5,56.73 L593.0,55.40 L593.5,54.07 L594.0,53.00 L594.5,53.00 L595.0,53.00 L595.5,54.67 L596.0,54.67 L596.5,54.27 L597.0,54.27 L597.5,53.00 L598.0,53.00 L598.5,53.00 L599.0,53.00 L599.5,53.00 L600.0,53.00 L600.5,53.00 L601.0,53.00 L601.5,53.00 L602.0,53.00 L602.5,53.00 L603.0,53.00 L603.5,53.00 L604.0,53.00 L604.5,53.00 L605.0,53.00 L605.5,54.69 L606.0,54.69 L606.5,53.55 L607.0,53.55 L607.5,53.62 L608.0,53.62 L608.5,54.01 L609.0,54.01 L609.5,53.00 L610.0,53.00 L610.5,55.02 L611.0,55.02 L611.5,53.00 L612.0,53.00 L612.5,53.00 L613.0,53.00 L613.5,54.24 L614.0,58.35 L614.5,59.20 L615.0,55.10 L615.5,54.28 L616.0,54.28 L616.5,53.00 L617.0,53.00 L617.5,53.00 L618.0,53.00 L618.5,53.52 L619.0,53.52 L619.5,53.00 L620.0,53.00 L620.5,53.00 L621.0,53.00 L621.5,53.00 L622.0,53.00 L622.5,53.44 L623.0,53.44 L623.5,53.00 L624.0,53.00 L624.5,53.95 L625.0,53.95 L625.5,53.00 L626.0,53.00 L626.5,53.85 L627.0,53.85 L627.5,53.00 L628.0,53.00 L628.5,53.00 L629.0,53.00 L629.5,55.29 L630.0,55.29 L630.5,53.00 L631.0,53.00 L631.5,53.00 L632.0,53.00 L632.5,53.52 L633.0,53.52 L633.5,53.00 L634.0,53.00 L634.5,53.00 L635.0,53.00 L635.5,53.00 L636.0,53.00 L636.5,53.00 L637.0,53.00 L637.5,53.00 L638.0,53.00 L638.5,53.00 L639.0,53.00 L639.5,53.00 L640.0,53.00 L640.5,54.07 L641.0,55.40 L641.5,56.73 L642.0,57.00 L642.5,56.73 L643.0,55.40 L643.5,55.54 L644.0,55.54 L644.5,53.92 L645.0,53.92 L645.5,53.00 L646.0,53.00 L646.5,53.00 L647.0,53.00 L647.5,53.00 L648.0,53.00 L648.5,53.00 L649.0,53.00 L649.5,53.53 L650.0,57.83 L650.5,56.01 L651.0,53.00 L651.5,53.00 L652.0,53.00 L652.5,53.64 L653.0,54.44 L653.5,55.24 L654.0,56.04 L654.5,56.84 L655.0,57.00 L655.5,56.84 L656.0,56.04 L656.5,55.24 L657.0,54.44 L657.5,53.73 L658.0,56.90 L658.5,55.22 L659.0,53.00 L659.5,53.00 L660.0,53.00 L660.5,53.00 L661.0,53.00 L661.5,53.00 L662.0,53.00 L662.5,53.00 L663.0,53.00 L663.5,53.84 L664.0,53.84 L664.5,54.03 L665.0,54.03 L665.5,54.41 L666.0,54.41 L666.5,53.00 L667.0,53.00 L667.5,53.90 L668.0,53.90 L668.5,53.89 L669.0,53.89 L669.5,53.00 L670.0,53.00 L670.5,53.64 L671.0,53.64 L671.5,53.00 L672.0,53.00 L672.5,53.00 L673.0,53.00 L673.5,53.50 L674.0,56.00 L674.5,58.50 L675.0,59.00 L675.5,58.50 L676.0,56.00 L676.5,53.50 L677.0,53.00 L677.5,53.00 L678.0,53.00 L678.5,53.00 L679.0,53.00 L679.5,53.00 L680.0,53.00 L680.5,53.00 L681.0,53.00 L681.5,53.00 L682.0,53.00 L682.5,53.00 L683.0,53.00 L683.5,53.00 L684.0,53.00 L684.5,53.00 L685.0,53.00 L685.0,53.00 Z" fill="#155e98"/>
<path d="M61.9,68.80 H65.3 V105.20 H61.9" fill="none" stroke="#222" stroke-width="1.15"/>
<path d="M70.5,99.50 L70.5,95.50 L71.0,93.50 L71.5,93.50 L72.0,93.50 L72.5,96.50 L73.0,97.60 L73.5,98.91 L74.0,98.91 L74.5,99.50 L75.0,99.50 L75.5,99.00 L76.0,99.00 L76.5,99.50 L77.0,99.50 L77.5,99.09 L78.0,99.50 L78.5,99.50 L79.0,97.91 L79.5,98.61 L80.0,98.61 L80.5,97.90 L81.0,97.90 L81.5,98.67 L82.0,98.67 L82.5,99.50 L83.0,99.50 L83.5,98.93 L84.0,98.93 L84.5,97.97 L85.0,97.97 L85.5,98.58 L86.0,98.58 L86.5,99.50 L87.0,99.50 L87.5,98.78 L88.0,98.78 L88.5,97.37 L89.0,97.37 L89.5,98.85 L90.0,98.85 L90.5,98.99 L91.0,98.99 L91.5,99.50 L92.0,99.50 L92.5,97.42 L93.0,97.42 L93.5,98.19 L94.0,98.19 L94.5,99.50 L95.0,99.50 L95.5,99.50 L96.0,99.50 L96.5,99.50 L97.0,99.50 L97.5,98.81 L98.0,98.81 L98.5,97.49 L99.0,97.49 L99.5,99.50 L100.0,99.50 L100.5,98.89 L101.0,98.89 L101.5,98.02 L102.0,98.02 L102.5,97.99 L103.0,97.99 L103.5,97.44 L104.0,97.44 L104.5,97.20 L105.0,97.20 L105.5,96.90 L106.0,99.50 L106.5,99.50 L107.0,99.09 L107.5,99.09 L108.0,99.09 L108.5,98.78 L109.0,98.78 L109.5,99.50 L110.0,99.50 L110.5,98.61 L111.0,98.61 L111.5,97.73 L112.0,97.73 L112.5,97.81 L113.0,97.81 L113.5,98.25 L114.0,98.25 L114.5,98.37 L115.0,98.37 L115.5,97.18 L116.0,97.18 L116.5,96.34 L117.0,96.34 L117.5,96.88 L118.0,96.88 L118.5,97.13 L119.0,97.13 L119.5,98.25 L120.0,98.25 L120.5,96.68 L121.0,96.68 L121.5,96.22 L122.0,96.22 L122.5,94.93 L123.0,94.93 L123.5,92.78 L124.0,92.78 L124.5,96.77 L125.0,96.77 L125.5,97.44 L126.0,97.44 L126.5,97.11 L127.0,97.11 L127.5,97.54 L128.0,97.54 L128.5,97.11 L129.0,97.11 L129.5,97.25 L130.0,97.25 L130.5,98.90 L131.0,98.90 L131.5,97.41 L132.0,97.41 L132.5,96.84 L133.0,96.84 L133.5,97.73 L134.0,97.73 L134.5,97.23 L135.0,97.23 L135.5,97.56 L136.0,97.56 L136.5,98.84 L137.0,98.84 L137.5,98.48 L138.0,98.48 L138.5,97.19 L139.0,97.19 L139.5,97.60 L140.0,97.60 L140.5,98.86 L141.0,98.86 L141.5,98.60 L142.0,98.60 L142.5,97.63 L143.0,97.63 L143.5,98.49 L144.0,98.49 L144.5,97.00 L145.0,97.00 L145.5,97.34 L146.0,97.34 L146.5,96.98 L147.0,96.98 L147.5,97.00 L148.0,97.00 L148.5,99.50 L149.0,99.50 L149.5,95.95 L150.0,95.95 L150.5,97.26 L151.0,97.26 L151.5,97.71 L152.0,97.71 L152.5,99.02 L153.0,99.02 L153.5,98.81 L154.0,98.81 L154.5,98.99 L155.0,98.99 L155.5,97.81 L156.0,97.81 L156.5,98.18 L157.0,98.18 L157.5,98.08 L158.0,98.08 L158.5,97.46 L159.0,97.46 L159.5,97.73 L160.0,97.73 L160.5,98.67 L161.0,98.67 L161.5,97.93 L162.0,97.93 L162.5,96.45 L163.0,96.45 L163.5,96.02 L164.0,96.02 L164.5,96.37 L165.0,96.37 L165.5,98.41 L166.0,98.41 L166.5,98.67 L167.0,98.67 L167.5,97.70 L168.0,97.70 L168.5,98.07 L169.0,98.07 L169.5,99.50 L170.0,99.50 L170.5,98.96 L171.0,98.96 L171.5,97.07 L172.0,97.07 L172.5,96.27 L173.0,96.27 L173.5,96.84 L174.0,96.84 L174.5,97.05 L175.0,97.05 L175.5,97.16 L176.0,97.16 L176.5,98.34 L177.0,98.34 L177.5,97.12 L178.0,97.12 L178.5,96.86 L179.0,96.86 L179.5,98.29 L180.0,98.29 L180.5,96.03 L181.0,96.03 L181.5,96.69 L182.0,96.69 L182.5,98.12 L183.0,98.12 L183.5,97.91 L184.0,97.91 L184.5,97.31 L185.0,97.31 L185.5,96.52 L186.0,96.52 L186.5,99.50 L187.0,99.50 L187.5,98.98 L188.0,98.98 L188.5,99.50 L189.0,99.50 L189.5,98.95 L190.0,98.95 L190.5,98.76 L191.0,98.76 L191.5,98.08 L192.0,98.08 L192.5,98.77 L193.0,98.77 L193.5,96.57 L194.0,96.57 L194.5,98.07 L195.0,95.69 L195.5,92.23 L196.0,92.23 L196.5,89.05 L197.0,89.05 L197.5,87.87 L198.0,87.87 L198.5,87.23 L199.0,87.23 L199.5,85.92 L200.0,85.92 L200.5,87.62 L201.0,87.62 L201.5,87.64 L202.0,87.64 L202.5,87.27 L203.0,87.27 L203.5,87.37 L204.0,87.37 L204.5,88.80 L205.0,88.80 L205.5,86.92 L206.0,86.92 L206.5,88.66 L207.0,88.66 L207.5,88.70 L208.0,88.70 L208.5,88.42 L209.0,88.42 L209.5,89.49 L210.0,89.49 L210.5,88.29 L211.0,88.29 L211.5,86.84 L212.0,86.84 L212.5,88.66 L213.0,88.66 L213.5,86.53 L214.0,86.53 L214.5,88.49 L215.0,88.49 L215.5,89.40 L216.0,89.40 L216.5,88.79 L217.0,88.79 L217.5,89.75 L218.0,89.75 L218.5,88.93 L219.0,88.93 L219.5,71.15 L220.0,71.15 L220.5,69.02 L221.0,69.02 L221.5,63.13 L222.0,63.13 L222.5,59.57 L223.0,59.57 L223.5,82.34 L224.0,82.34 L224.5,87.30 L225.0,87.30 L225.5,88.09 L226.0,88.09 L226.5,88.52 L227.0,88.52 L227.5,88.96 L228.0,88.96 L228.5,89.11 L229.0,89.11 L229.5,88.07 L230.0,88.07 L230.5,88.70 L231.0,88.70 L231.5,87.61 L232.0,99.50 L232.5,99.50 L233.0,99.50 L233.5,99.50 L234.0,99.50 L234.5,99.50 L235.0,99.50 L235.5,99.50 L236.0,95.37 L236.5,95.76 L237.0,98.09 L237.5,97.06 L238.0,97.06 L238.5,91.52 L239.0,86.20 L239.5,86.20 L240.0,87.53 L240.5,94.18 L241.0,98.54 L241.5,96.87 L242.0,96.87 L242.5,97.42 L243.0,97.42 L243.5,99.50 L244.0,99.50 L244.5,99.50 L245.0,99.50 L245.5,99.50 L246.0,99.50 L246.5,98.46 L247.0,98.46 L247.5,97.68 L248.0,97.68 L248.5,96.13 L249.0,96.13 L249.5,96.45 L250.0,96.45 L250.5,97.65 L251.0,97.65 L251.5,99.07 L252.0,99.07 L252.5,98.14 L253.0,98.14 L253.5,97.53 L254.0,97.53 L254.5,98.09 L255.0,98.09 L255.5,96.63 L256.0,96.63 L256.5,97.05 L257.0,97.05 L257.5,98.95 L258.0,98.95 L258.5,99.50 L259.0,99.50 L259.5,98.37 L260.0,98.37 L260.5,98.61 L261.0,98.61 L261.5,97.71 L262.0,97.71 L262.5,98.03 L263.0,98.03 L263.5,99.50 L264.0,99.50 L264.5,99.50 L265.0,96.68 L265.5,95.85 L266.0,98.38 L266.5,99.15 L267.0,99.15 L267.5,99.50 L268.0,99.50 L268.5,98.33 L269.0,98.33 L269.5,98.36 L270.0,98.36 L270.5,95.35 L271.0,91.20 L271.5,91.20 L272.0,92.24 L272.5,95.85 L273.0,95.85 L273.5,97.60 L274.0,97.60 L274.5,97.89 L275.0,97.89 L275.5,98.36 L276.0,98.36 L276.5,98.36 L277.0,98.36 L277.5,96.90 L278.0,96.90 L278.5,98.88 L279.0,98.88 L279.5,94.51 L280.0,94.51 L280.5,96.97 L281.0,96.97 L281.5,96.93 L282.0,96.93 L282.5,95.64 L283.0,95.64 L283.5,97.75 L284.0,97.75 L284.5,98.03 L285.0,98.03 L285.5,99.50 L286.0,99.50 L286.5,98.42 L287.0,98.42 L287.5,97.10 L288.0,97.10 L288.5,99.50 L289.0,97.30 L289.5,97.10 L290.0,99.03 L290.5,97.76 L291.0,97.76 L291.5,98.79 L292.0,98.79 L292.5,98.86 L293.0,99.50 L293.5,82.50 L294.0,82.50 L294.5,81.77 L295.0,81.77 L295.5,80.33 L296.0,80.33 L296.5,79.50 L297.0,79.50 L297.5,79.26 L298.0,79.26 L298.5,79.76 L299.0,79.76 L299.5,80.93 L300.0,80.93 L300.5,81.60 L301.0,99.50 L301.5,98.13 L302.0,98.13 L302.5,98.91 L303.0,98.91 L303.5,97.87 L304.0,97.87 L304.5,95.63 L305.0,95.63 L305.5,96.99 L306.0,96.99 L306.5,97.10 L307.0,97.10 L307.5,97.23 L308.0,97.23 L308.5,97.38 L309.0,94.69 L309.5,94.61 L310.0,97.30 L310.5,97.55 L311.0,97.55 L311.5,98.49 L312.0,98.49 L312.5,98.74 L313.0,98.74 L313.5,97.30 L314.0,97.30 L314.5,97.35 L315.0,97.35 L315.5,98.38 L316.0,98.38 L316.5,99.50 L317.0,99.50 L317.5,98.95 L318.0,98.95 L318.5,98.39 L319.0,98.39 L319.5,97.40 L320.0,97.40 L320.5,98.93 L321.0,98.93 L321.5,98.57 L322.0,98.57 L322.5,99.50 L323.0,99.50 L323.5,99.50 L324.0,99.50 L324.5,97.09 L325.0,97.09 L325.5,98.53 L326.0,98.53 L326.5,97.69 L327.0,97.69 L327.5,94.76 L328.0,94.76 L328.5,95.42 L329.0,95.42 L329.5,98.21 L330.0,98.21 L330.5,97.66 L331.0,97.66 L331.5,97.67 L332.0,97.67 L332.5,97.02 L333.0,95.12 L333.5,95.46 L334.0,97.35 L334.5,97.75 L335.0,97.75 L335.5,96.40 L336.0,96.40 L336.5,95.68 L337.0,95.68 L337.5,97.18 L338.0,97.18 L338.5,98.11 L339.0,98.11 L339.5,97.96 L340.0,97.96 L340.5,96.83 L341.0,96.83 L341.5,97.35 L342.0,97.35 L342.5,98.92 L343.0,98.92 L343.5,97.63 L344.0,97.63 L344.5,97.19 L345.0,97.19 L345.5,96.96 L346.0,96.96 L346.5,97.12 L347.0,97.12 L347.5,98.26 L348.0,98.26 L348.5,97.16 L349.0,97.16 L349.5,98.46 L350.0,98.46 L350.5,97.65 L351.0,97.65 L351.5,96.53 L352.0,96.53 L352.5,98.00 L353.0,98.00 L353.5,98.52 L354.0,98.52 L354.5,98.78 L355.0,98.78 L355.5,98.92 L356.0,98.92 L356.5,97.83 L357.0,97.83 L357.5,98.91 L358.0,98.91 L358.5,98.42 L359.0,98.42 L359.5,98.20 L360.0,98.20 L360.5,98.25 L361.0,98.25 L361.5,99.50 L362.0,99.50 L362.5,97.69 L363.0,97.69 L363.5,99.50 L364.0,99.50 L364.5,99.50 L365.0,99.50 L365.5,98.70 L366.0,98.70 L366.5,96.75 L367.0,96.75 L367.5,97.32 L368.0,97.32 L368.5,98.32 L369.0,98.32 L369.5,98.08 L370.0,99.50 L370.5,99.50 L371.0,98.38 L371.5,96.47 L372.0,96.47 L372.5,95.55 L373.0,95.55 L373.5,97.86 L374.0,97.86 L374.5,97.24 L375.0,97.24 L375.5,97.65 L376.0,97.65 L376.5,97.33 L377.0,97.33 L377.5,98.75 L378.0,98.75 L378.5,98.51 L379.0,98.51 L379.5,98.62 L380.0,98.62 L380.5,98.48 L381.0,98.48 L381.5,97.75 L382.0,97.75 L382.5,96.00 L383.0,78.50 L383.5,76.76 L384.0,76.76 L384.5,76.38 L385.0,76.38 L385.5,76.05 L386.0,76.05 L386.5,77.80 L387.0,77.80 L387.5,78.33 L388.0,78.33 L388.5,80.16 L389.0,80.16 L389.5,80.10 L390.0,80.10 L390.5,80.33 L391.0,80.33 L391.5,83.11 L392.0,99.50 L392.5,99.50 L393.0,99.50 L393.5,99.50 L394.0,99.50 L394.5,99.50 L395.0,99.50 L395.5,99.50 L396.0,99.50 L396.5,99.50 L397.0,99.50 L397.5,99.50 L398.0,99.50 L398.5,99.50 L399.0,99.50 L399.5,99.50 L400.0,99.50 L400.5,99.50 L401.0,99.50 L401.5,99.50 L402.0,99.50 L402.5,99.50 L403.0,99.50 L403.5,97.38 L404.0,97.38 L404.5,99.50 L405.0,99.50 L405.5,99.50 L406.0,99.50 L406.5,99.50 L407.0,99.50 L407.5,99.50 L408.0,99.50 L408.5,99.50 L409.0,99.50 L409.5,99.50 L410.0,99.50 L410.5,99.50 L411.0,99.50 L411.5,97.68 L412.0,97.68 L412.5,99.50 L413.0,99.50 L413.5,99.50 L414.0,90.75 L414.5,81.14 L415.0,81.14 L415.5,81.99 L416.0,81.99 L416.5,81.92 L417.0,81.92 L417.5,91.62 L418.0,91.62 L418.5,90.40 L419.0,90.40 L419.5,91.91 L420.0,91.91 L420.5,91.95 L421.0,91.95 L421.5,89.80 L422.0,89.80 L422.5,89.15 L423.0,99.50 L423.5,98.10 L424.0,98.10 L424.5,99.50 L425.0,99.50 L425.5,99.50 L426.0,99.50 L426.5,99.50 L427.0,99.50 L427.5,99.50 L428.0,99.50 L428.5,99.50 L429.0,99.50 L429.5,99.50 L430.0,99.50 L430.5,99.50 L431.0,99.50 L431.5,99.50 L432.0,99.50 L432.5,99.50 L433.0,99.50 L433.5,99.50 L434.0,99.50 L434.5,99.50 L435.0,99.50 L435.5,99.50 L436.0,99.50 L436.5,99.50 L437.0,99.50 L437.5,99.50 L438.0,99.50 L438.5,99.50 L439.0,99.50 L439.5,99.50 L440.0,99.50 L440.5,99.50 L441.0,99.50 L441.5,99.50 L442.0,99.50 L442.5,96.38 L443.0,94.50 L443.5,94.50 L444.0,95.75 L444.5,98.87 L445.0,99.50 L445.5,99.50 L446.0,99.50 L446.5,99.50 L447.0,99.50 L447.5,99.50 L448.0,99.50 L448.5,98.68 L449.0,98.68 L449.5,98.57 L450.0,98.57 L450.5,99.50 L451.0,99.50 L451.5,99.50 L452.0,99.50 L452.5,99.50 L453.0,99.50 L453.5,99.50 L454.0,99.50 L454.5,99.50 L455.0,99.50 L455.5,99.50 L456.0,98.40 L456.5,99.50 L457.0,99.50 L457.5,99.50 L458.0,99.50 L458.5,99.50 L459.0,99.50 L459.5,99.50 L460.0,99.50 L460.5,99.50 L461.0,99.50 L461.5,99.50 L462.0,99.50 L462.5,99.50 L463.0,99.50 L463.5,99.50 L464.0,99.50 L464.5,99.50 L465.0,99.50 L465.5,99.50 L466.0,99.50 L466.5,99.50 L467.0,99.50 L467.5,99.50 L468.0,99.50 L468.5,96.71 L469.0,96.71 L469.5,99.50 L470.0,97.95 L470.5,93.25 L471.0,93.25 L471.5,89.84 L472.0,89.84 L472.5,90.21 L473.0,99.50 L473.5,97.70 L474.0,97.70 L474.5,96.92 L475.0,96.92 L475.5,96.49 L476.0,96.49 L476.5,95.78 L477.0,95.78 L477.5,96.37 L478.0,96.37 L478.5,98.43 L479.0,98.43 L479.5,98.92 L480.0,98.92 L480.5,98.24 L481.0,98.24 L481.5,96.85 L482.0,96.85 L482.5,95.92 L483.0,95.92 L483.5,97.65 L484.0,97.65 L484.5,97.82 L485.0,97.82 L485.5,96.70 L486.0,96.70 L486.5,98.74 L487.0,98.74 L487.5,97.88 L488.0,97.88 L488.5,98.43 L489.0,98.43 L489.5,98.93 L490.0,98.93 L490.5,96.18 L491.0,96.18 L491.5,99.50 L492.0,99.50 L492.5,98.68 L493.0,98.68 L493.5,99.50 L494.0,99.50 L494.5,98.58 L495.0,98.58 L495.5,98.04 L496.0,98.04 L496.5,99.50 L497.0,99.50 L497.5,99.50 L498.0,99.50 L498.5,99.50 L499.0,99.50 L499.5,99.50 L500.0,99.50 L500.5,98.85 L501.0,98.85 L501.5,97.90 L502.0,97.90 L502.5,97.14 L503.0,97.14 L503.5,98.67 L504.0,98.67 L504.5,99.50 L505.0,99.50 L505.5,98.15 L506.0,98.15 L506.5,97.30 L507.0,97.30 L507.5,98.82 L508.0,98.82 L508.5,98.21 L509.0,98.21 L509.5,99.50 L510.0,99.50 L510.5,98.65 L511.0,98.65 L511.5,98.17 L512.0,98.17 L512.5,97.43 L513.0,97.43 L513.5,98.83 L514.0,98.83 L514.5,97.14 L515.0,97.14 L515.5,97.58 L516.0,97.58 L516.5,98.36 L517.0,98.36 L517.5,97.31 L518.0,97.31 L518.5,97.44 L519.0,97.44 L519.5,96.76 L520.0,96.76 L520.5,97.70 L521.0,97.70 L521.5,97.88 L522.0,97.88 L522.5,96.10 L523.0,96.10 L523.5,97.25 L524.0,97.25 L524.5,98.77 L525.0,98.77 L525.5,98.53 L526.0,98.53 L526.5,98.40 L527.0,96.28 L527.5,96.95 L528.0,99.07 L528.5,98.94 L529.0,98.94 L529.5,98.93 L530.0,98.93 L530.5,94.85 L531.0,94.85 L531.5,94.81 L532.0,94.81 L532.5,97.09 L533.0,97.09 L533.5,97.76 L534.0,97.76 L534.5,98.44 L535.0,98.44 L535.5,97.65 L536.0,97.65 L536.5,98.58 L537.0,98.58 L537.5,98.69 L538.0,98.69 L538.5,97.83 L539.0,97.83 L539.5,96.67 L540.0,96.67 L540.5,96.33 L541.0,96.33 L541.5,98.96 L542.0,98.96 L542.5,97.86 L543.0,97.86 L543.5,97.39 L544.0,97.39 L544.5,96.14 L545.0,96.14 L545.5,97.15 L546.0,97.15 L546.5,98.23 L547.0,98.23 L547.5,95.84 L548.0,95.84 L548.5,97.48 L549.0,97.48 L549.5,99.50 L550.0,99.50 L550.5,97.31 L551.0,97.31 L551.5,97.95 L552.0,95.43 L552.5,97.74 L553.0,99.50 L553.5,97.73 L554.0,97.73 L554.5,97.96 L555.0,97.96 L555.5,97.76 L556.0,97.76 L556.5,97.61 L557.0,99.50 L557.5,99.50 L558.0,99.50 L558.5,99.50 L559.0,99.50 L559.5,99.50 L560.0,96.50 L560.5,97.69 L561.0,97.69 L561.5,96.98 L562.0,96.98 L562.5,97.47 L563.0,97.47 L563.5,97.70 L564.0,97.70 L564.5,99.50 L565.0,99.50 L565.5,99.50 L566.0,99.50 L566.5,96.82 L567.0,96.82 L567.5,96.47 L568.0,96.47 L568.5,96.44 L569.0,96.44 L569.5,98.94 L570.0,98.94 L570.5,96.22 L571.0,97.50 L571.5,96.25 L572.0,87.83 L572.5,84.00 L573.0,84.00 L573.5,95.56 L574.0,95.88 L574.5,96.19 L575.0,96.50 L575.5,96.00 L576.0,95.50 L576.5,96.50 L577.0,97.50 L577.5,96.55 L578.0,96.55 L578.5,96.27 L579.0,96.27 L579.5,97.94 L580.0,97.94 L580.5,96.58 L581.0,96.58 L581.5,97.05 L582.0,97.05 L582.5,97.44 L583.0,97.44 L583.5,98.64 L584.0,98.64 L584.5,97.56 L585.0,97.56 L585.5,99.50 L586.0,99.50 L586.5,98.51 L587.0,98.51 L587.5,97.10 L588.0,97.10 L588.5,97.82 L589.0,97.82 L589.5,97.95 L590.0,97.95 L590.5,97.33 L591.0,97.33 L591.5,98.34 L592.0,98.34 L592.5,97.36 L593.0,97.36 L593.5,96.89 L594.0,96.89 L594.5,97.80 L595.0,97.80 L595.5,96.36 L596.0,96.36 L596.5,96.29 L597.0,96.29 L597.5,98.02 L598.0,98.02 L598.5,97.75 L599.0,97.75 L599.5,97.68 L600.0,97.68 L600.5,97.30 L601.0,94.20 L601.5,94.01 L602.0,97.11 L602.5,97.41 L603.0,97.41 L603.5,98.91 L604.0,98.91 L604.5,99.07 L605.0,99.07 L605.5,98.88 L606.0,98.88 L606.5,98.61 L607.0,98.61 L607.5,97.30 L608.0,97.30 L608.5,99.50 L609.0,79.50 L609.5,79.73 L610.0,79.73 L610.5,80.62 L611.0,80.62 L611.5,79.04 L612.0,79.04 L612.5,79.54 L613.0,79.54 L613.5,88.27 L614.0,88.27 L614.5,90.84 L615.0,90.84 L615.5,95.08 L616.0,95.08 L616.5,93.50 L617.0,93.50 L617.5,95.06 L618.0,95.50 L618.5,97.39 L619.0,97.39 L619.5,96.30 L620.0,96.30 L620.5,97.83 L621.0,97.83 L621.5,97.15 L622.0,97.15 L622.5,97.27 L623.0,97.27 L623.5,97.16 L624.0,97.16 L624.5,97.44 L625.0,97.44 L625.5,98.54 L626.0,98.54 L626.5,97.32 L627.0,97.32 L627.5,97.44 L628.0,97.44 L628.5,98.00 L629.0,98.00 L629.5,99.50 L630.0,99.50 L630.5,98.96 L631.0,98.96 L631.5,97.73 L632.0,97.73 L632.5,96.44 L633.0,96.44 L633.5,98.04 L634.0,98.04 L634.5,97.84 L635.0,97.84 L635.5,97.16 L636.0,97.16 L636.5,97.58 L637.0,97.58 L637.5,97.20 L638.0,97.20 L638.5,96.79 L639.0,96.79 L639.5,96.40 L640.0,96.40 L640.5,99.50 L641.0,99.50 L641.5,97.96 L642.0,99.50 L642.5,99.50 L643.0,97.91 L643.5,99.50 L644.0,99.50 L644.5,98.60 L645.0,98.60 L645.5,98.43 L646.0,98.43 L646.5,99.50 L647.0,99.50 L647.5,98.87 L648.0,98.87 L648.5,96.73 L649.0,96.73 L649.5,97.43 L650.0,97.43 L650.5,97.30 L651.0,97.30 L651.5,97.63 L652.0,97.63 L652.5,97.82 L653.0,97.82 L653.5,97.83 L654.0,97.83 L654.5,98.47 L655.0,98.47 L655.5,97.91 L656.0,97.91 L656.5,97.90 L657.0,97.90 L657.5,97.90 L658.0,97.90 L658.5,96.69 L659.0,96.69 L659.5,97.94 L660.0,94.83 L660.5,93.74 L661.0,96.86 L661.5,96.97 L662.0,96.97 L662.5,98.76 L663.0,98.76 L663.5,97.70 L664.0,97.70 L664.5,98.31 L665.0,98.31 L665.5,98.26 L666.0,98.26 L666.5,96.46 L667.0,96.46 L667.5,97.01 L668.0,97.01 L668.5,96.51 L669.0,96.51 L669.5,98.19 L670.0,98.19 L670.5,96.47 L671.0,96.47 L671.5,94.68 L672.0,94.68 L672.5,96.50 L673.0,96.50 L673.5,99.50 L674.0,99.50 L674.5,99.50 L675.0,99.50 L675.5,99.50 L676.0,99.50 L676.5,99.50 L677.0,97.95 L677.5,97.01 L678.0,97.01 L678.5,96.80 L679.0,96.80 L679.5,97.60 L680.0,97.60 L680.5,96.99 L681.0,96.99 L681.5,96.20 L682.0,96.20 L682.5,95.78 L683.0,95.78 L683.5,96.66 L684.0,96.66 L684.5,98.44 L685.0,98.44 L685.0,99.50 Z" fill="#cd5c5c"/>
<path d="M70.5,99.50 L70.5,99.50 L71.0,99.50 L71.5,99.50 L72.0,99.50 L72.5,99.50 L73.0,99.50 L73.5,99.50 L74.0,99.50 L74.5,99.50 L75.0,99.50 L75.5,99.50 L76.0,99.50 L76.5,99.50 L77.0,99.50 L77.5,99.50 L78.0,101.33 L78.5,101.33 L79.0,99.50 L79.5,99.50 L80.0,99.50 L80.5,99.50 L81.0,99.50 L81.5,99.50 L82.0,99.50 L82.5,99.50 L83.0,99.50 L83.5,99.50 L84.0,99.50 L84.5,99.50 L85.0,99.50 L85.5,99.50 L86.0,99.50 L86.5,101.17 L87.0,101.17 L87.5,99.50 L88.0,99.50 L88.5,99.50 L89.0,99.50 L89.5,99.50 L90.0,99.50 L90.5,99.50 L91.0,99.50 L91.5,99.50 L92.0,99.50 L92.5,99.50 L93.0,99.50 L93.5,99.50 L94.0,99.50 L94.5,99.50 L95.0,99.50 L95.5,100.45 L96.0,100.45 L96.5,99.97 L97.0,99.97 L97.5,99.50 L98.0,99.50 L98.5,99.50 L99.0,99.50 L99.5,99.95 L100.0,99.95 L100.5,99.50 L101.0,99.50 L101.5,99.50 L102.0,99.50 L102.5,99.50 L103.0,99.50 L103.5,99.50 L104.0,99.50 L104.5,99.50 L105.0,99.50 L105.5,99.50 L106.0,100.71 L106.5,100.71 L107.0,99.50 L107.5,99.50 L108.0,99.50 L108.5,99.50 L109.0,99.50 L109.5,100.05 L110.0,100.05 L110.5,99.50 L111.0,99.50 L111.5,99.50 L112.0,99.50 L112.5,99.50 L113.0,99.50 L113.5,99.50 L114.0,99.50 L114.5,99.50 L115.0,99.50 L115.5,99.50 L116.0,99.50 L116.5,99.50 L117.0,99.50 L117.5,99.50 L118.0,99.50 L118.5,99.50 L119.0,99.50 L119.5,99.50 L120.0,99.50 L120.5,99.50 L121.0,99.50 L121.5,99.50 L122.0,99.50 L122.5,99.50 L123.0,99.50 L123.5,99.50 L124.0,99.50 L124.5,99.50 L125.0,99.50 L125.5,99.50 L126.0,99.50 L126.5,99.50 L127.0,99.50 L127.5,99.50 L128.0,99.50 L128.5,99.50 L129.0,99.50 L129.5,99.50 L130.0,99.50 L130.5,99.50 L131.0,99.50 L131.5,99.50 L132.0,99.50 L132.5,99.50 L133.0,99.50 L133.5,99.50 L134.0,99.50 L134.5,99.50 L135.0,99.50 L135.5,99.50 L136.0,99.50 L136.5,99.50 L137.0,99.50 L137.5,99.50 L138.0,99.50 L138.5,99.50 L139.0,99.50 L139.5,99.50 L140.0,99.50 L140.5,99.50 L141.0,99.50 L141.5,99.50 L142.0,99.50 L142.5,99.50 L143.0,99.50 L143.5,99.50 L144.0,99.50 L144.5,99.50 L145.0,99.50 L145.5,99.50 L146.0,99.50 L146.5,99.50 L147.0,99.50 L147.5,99.50 L148.0,99.50 L148.5,99.50 L149.0,99.50 L149.5,99.50 L150.0,99.50 L150.5,99.50 L151.0,99.50 L151.5,99.50 L152.0,99.50 L152.5,99.50 L153.0,99.50 L153.5,99.50 L154.0,99.50 L154.5,99.50 L155.0,99.50 L155.5,99.50 L156.0,99.50 L156.5,99.50 L157.0,99.50 L157.5,99.50 L158.0,99.50 L158.5,99.50 L159.0,99.50 L159.5,99.50 L160.0,99.50 L160.5,99.50 L161.0,99.50 L161.5,99.50 L162.0,99.50 L162.5,99.50 L163.0,99.50 L163.5,99.50 L164.0,99.50 L164.5,99.50 L165.0,99.50 L165.5,99.50 L166.0,99.50 L166.5,99.50 L167.0,99.50 L167.5,99.50 L168.0,99.50 L168.5,99.50 L169.0,99.50 L169.5,100.24 L170.0,100.24 L170.5,99.50 L171.0,99.50 L171.5,99.50 L172.0,99.50 L172.5,99.50 L173.0,99.50 L173.5,99.50 L174.0,99.50 L174.5,99.50 L175.0,99.50 L175.5,99.50 L176.0,99.50 L176.5,99.50 L177.0,99.50 L177.5,99.50 L178.0,99.50 L178.5,99.50 L179.0,99.50 L179.5,99.50 L180.0,99.50 L180.5,99.50 L181.0,99.50 L181.5,99.50 L182.0,99.50 L182.5,99.50 L183.0,99.50 L183.5,99.50 L184.0,99.50 L184.5,99.50 L185.0,99.50 L185.5,99.50 L186.0,99.50 L186.5,99.50 L187.0,99.50 L187.5,99.50 L188.0,99.50 L188.5,99.50 L189.0,99.50 L189.5,99.50 L190.0,99.50 L190.5,99.50 L191.0,99.50 L191.5,99.50 L192.0,99.50 L192.5,99.50 L193.0,99.50 L193.5,99.50 L194.0,99.50 L194.5,99.50 L195.0,99.50 L195.5,99.50 L196.0,99.50 L196.5,99.50 L197.0,99.50 L197.5,99.50 L198.0,99.50 L198.5,99.50 L199.0,99.50 L199.5,99.50 L200.0,99.50 L200.5,99.50 L201.0,99.50 L201.5,99.50 L202.0,99.50 L202.5,99.50 L203.0,99.50 L203.5,99.50 L204.0,99.50 L204.5,99.50 L205.0,99.50 L205.5,99.50 L206.0,99.50 L206.5,99.50 L207.0,99.50 L207.5,99.50 L208.0,99.50 L208.5,99.50 L209.0,99.50 L209.5,99.50 L210.0,99.50 L210.5,99.50 L211.0,99.50 L211.5,99.50 L212.0,99.50 L212.5,99.50 L213.0,99.50 L213.5,99.50 L214.0,99.50 L214.5,99.50 L215.0,99.50 L215.5,99.50 L216.0,99.50 L216.5,99.50 L217.0,99.50 L217.5,99.50 L218.0,99.50 L218.5,99.50 L219.0,99.50 L219.5,99.50 L220.0,99.50 L220.5,99.50 L221.0,99.50 L221.5,99.50 L222.0,99.50 L222.5,99.50 L223.0,99.50 L223.5,99.50 L224.0,99.50 L224.5,99.50 L225.0,99.50 L225.5,99.50 L226.0,99.50 L226.5,99.50 L227.0,99.50 L227.5,99.50 L228.0,99.50 L228.5,99.50 L229.0,99.50 L229.5,99.50 L230.0,99.50 L230.5,99.50 L231.0,99.50 L231.5,99.50 L232.0,99.50 L232.5,99.67 L233.0,100.50 L233.5,101.33 L234.0,101.50 L234.5,101.33 L235.0,100.50 L235.5,99.67 L236.0,99.50 L236.5,99.50 L237.0,99.50 L237.5,99.50 L238.0,99.50 L238.5,99.50 L239.0,99.50 L239.5,99.50 L240.0,99.50 L240.5,99.50 L241.0,99.50 L241.5,99.50 L242.0,99.50 L242.5,99.50 L243.0,99.50 L243.5,99.50 L244.0,99.50 L244.5,99.50 L245.0,99.50 L245.5,99.50 L246.0,99.50 L246.5,99.50 L247.0,99.50 L247.5,99.50 L248.0,99.50 L248.5,99.50 L249.0,99.50 L249.5,99.50 L250.0,99.50 L250.5,99.50 L251.0,99.50 L251.5,99.50 L252.0,99.50 L252.5,99.50 L253.0,99.50 L253.5,99.50 L254.0,99.50 L254.5,99.50 L255.0,99.50 L255.5,99.50 L256.0,99.50 L256.5,99.50 L257.0,99.50 L257.5,99.50 L258.0,99.50 L258.5,99.50 L259.0,99.50 L259.5,99.50 L260.0,99.50 L260.5,99.50 L261.0,99.50 L261.5,99.50 L262.0,99.50 L262.5,99.50 L263.0,99.50 L263.5,99.50 L264.0,99.50 L264.5,99.50 L265.0,99.50 L265.5,99.50 L266.0,99.50 L266.5,99.50 L267.0,99.50 L267.5,100.06 L268.0,100.06 L268.5,99.50 L269.0,99.50 L269.5,99.50 L270.0,99.50 L270.5,99.50 L271.0,99.50 L271.5,99.50 L272.0,99.50 L272.5,99.50 L273.0,99.50 L273.5,99.50 L274.0,99.50 L274.5,99.50 L275.0,99.50 L275.5,99.50 L276.0,99.50 L276.5,99.50 L277.0,99.50 L277.5,99.50 L278.0,99.50 L278.5,99.50 L279.0,99.50 L279.5,99.50 L280.0,99.50 L280.5,99.50 L281.0,99.50 L281.5,99.50 L282.0,99.50 L282.5,99.50 L283.0,99.50 L283.5,99.50 L284.0,99.50 L284.5,99.50 L285.0,99.50 L285.5,99.50 L286.0,99.50 L286.5,99.50 L287.0,99.50 L287.5,99.50 L288.0,99.50 L288.5,99.50 L289.0,99.50 L289.5,99.50 L290.0,99.50 L290.5,99.50 L291.0,99.50 L291.5,99.50 L292.0,99.50 L292.5,99.50 L293.0,99.50 L293.5,99.50 L294.0,99.50 L294.5,99.50 L295.0,99.50 L295.5,99.50 L296.0,99.50 L296.5,99.50 L297.0,99.50 L297.5,99.50 L298.0,99.50 L298.5,99.50 L299.0,99.50 L299.5,99.50 L300.0,99.50 L300.5,99.50 L301.0,99.50 L301.5,99.50 L302.0,99.50 L302.5,99.50 L303.0,99.50 L303.5,99.50 L304.0,99.50 L304.5,99.50 L305.0,99.50 L305.5,99.50 L306.0,99.50 L306.5,99.50 L307.0,99.50 L307.5,99.50 L308.0,99.50 L308.5,99.50 L309.0,99.50 L309.5,99.50 L310.0,99.50 L310.5,99.50 L311.0,99.50 L311.5,99.50 L312.0,99.50 L312.5,99.50 L313.0,99.50 L313.5,99.50 L314.0,99.50 L314.5,99.50 L315.0,99.50 L315.5,99.50 L316.0,99.50 L316.5,99.88 L317.0,99.88 L317.5,99.50 L318.0,99.50 L318.5,99.50 L319.0,99.50 L319.5,99.50 L320.0,99.50 L320.5,99.50 L321.0,99.50 L321.5,99.50 L322.0,99.50 L322.5,99.50 L323.0,99.50 L323.5,100.48 L324.0,100.48 L324.5,99.50 L325.0,99.50 L325.5,99.50 L326.0,99.50 L326.5,99.50 L327.0,99.50 L327.5,99.50 L328.0,99.50 L328.5,99.50 L329.0,99.50 L329.5,99.50 L330.0,99.50 L330.5,99.50 L331.0,99.50 L331.5,99.50 L332.0,99.50 L332.5,99.50 L333.0,99.50 L333.5,99.50 L334.0,99.50 L334.5,99.50 L335.0,99.50 L335.5,99.50 L336.0,99.50 L336.5,99.50 L337.0,99.50 L337.5,99.50 L338.0,99.50 L338.5,99.50 L339.0,99.50 L339.5,99.50 L340.0,99.50 L340.5,99.50 L341.0,99.50 L341.5,99.50 L342.0,99.50 L342.5,99.50 L343.0,99.50 L343.5,99.50 L344.0,99.50 L344.5,99.50 L345.0,99.50 L345.5,99.50 L346.0,99.50 L346.5,99.50 L347.0,99.50 L347.5,99.50 L348.0,99.50 L348.5,99.50 L349.0,99.50 L349.5,99.50 L350.0,99.50 L350.5,99.50 L351.0,99.50 L351.5,99.50 L352.0,99.50 L352.5,99.50 L353.0,99.50 L353.5,99.50 L354.0,99.50 L354.5,99.50 L355.0,99.50 L355.5,99.50 L356.0,99.50 L356.5,99.50 L357.0,99.50 L357.5,99.50 L358.0,99.50 L358.5,99.50 L359.0,99.50 L359.5,99.50 L360.0,99.50 L360.5,99.50 L361.0,99.50 L361.5,101.14 L362.0,101.14 L362.5,99.50 L363.0,99.50 L363.5,99.50 L364.0,99.50 L364.5,99.50 L365.0,99.50 L365.5,99.50 L366.0,99.50 L366.5,99.50 L367.0,99.50 L367.5,99.50 L368.0,99.50 L368.5,99.50 L369.0,99.50 L369.5,99.50 L370.0,100.99 L370.5,100.99 L371.0,99.50 L371.5,99.50 L372.0,99.50 L372.5,99.50 L373.0,99.50 L373.5,99.50 L374.0,99.50 L374.5,99.50 L375.0,99.50 L375.5,99.50 L376.0,99.50 L376.5,99.50 L377.0,99.50 L377.5,99.50 L378.0,99.50 L378.5,99.50 L379.0,99.50 L379.5,99.50 L380.0,99.50 L380.5,99.50 L381.0,99.50 L381.5,99.50 L382.0,99.50 L382.5,99.50 L383.0,99.50 L383.5,99.50 L384.0,99.50 L384.5,99.50 L385.0,99.50 L385.5,99.50 L386.0,99.50 L386.5,99.50 L387.0,99.50 L387.5,99.50 L388.0,99.50 L388.5,99.50 L389.0,99.50 L389.5,99.50 L390.0,99.50 L390.5,99.50 L391.0,99.50 L391.5,99.50 L392.0,99.50 L392.5,100.55 L393.0,100.55 L393.5,101.08 L394.0,101.08 L394.5,103.99 L395.0,103.99 L395.5,101.53 L396.0,102.65 L396.5,103.78 L397.0,104.00 L397.5,103.78 L398.0,102.65 L398.5,101.53 L399.0,100.40 L399.5,101.00 L400.0,101.00 L400.5,102.25 L401.0,102.25 L401.5,102.30 L402.0,102.30 L402.5,103.76 L403.0,103.76 L403.5,99.50 L404.0,99.50 L404.5,102.64 L405.0,102.64 L405.5,104.99 L406.0,104.99 L406.5,102.35 L407.0,102.35 L407.5,105.65 L408.0,105.65 L408.5,103.86 L409.0,103.86 L409.5,101.22 L410.0,101.22 L410.5,100.99 L411.0,100.99 L411.5,99.50 L412.0,99.50 L412.5,100.51 L413.0,100.51 L413.5,100.15 L414.0,99.50 L414.5,99.50 L415.0,99.50 L415.5,99.50 L416.0,99.50 L416.5,99.50 L417.0,99.50 L417.5,99.50 L418.0,99.50 L418.5,99.50 L419.0,99.50 L419.5,99.50 L420.0,99.50 L420.5,99.50 L421.0,99.50 L421.5,99.50 L422.0,99.50 L422.5,99.50 L423.0,99.50 L423.5,99.50 L424.0,99.50 L424.5,101.76 L425.0,101.76 L425.5,102.53 L426.0,102.53 L426.5,103.04 L427.0,103.04 L427.5,104.21 L428.0,104.21 L428.5,101.86 L429.0,101.86 L429.5,103.12 L430.0,103.12 L430.5,102.16 L431.0,102.16 L431.5,102.69 L432.0,102.69 L432.5,100.87 L433.0,100.87 L433.5,104.43 L434.0,104.43 L434.5,104.83 L435.0,104.83 L435.5,100.11 L436.0,100.11 L436.5,99.50 L437.0,99.50 L437.5,102.34 L438.0,102.34 L438.5,102.80 L439.0,102.80 L439.5,105.92 L440.0,105.92 L440.5,102.72 L441.0,102.72 L441.5,99.50 L442.0,99.50 L442.5,99.50 L443.0,99.50 L443.5,99.50 L444.0,99.50 L444.5,99.50 L445.0,103.96 L445.5,100.44 L446.0,100.44 L446.5,101.52 L447.0,101.52 L447.5,103.24 L448.0,103.24 L448.5,99.50 L449.0,99.50 L449.5,99.50 L450.0,99.50 L450.5,101.36 L451.0,101.36 L451.5,104.43 L452.0,104.43 L452.5,103.75 L453.0,103.75 L453.5,101.51 L454.0,101.51 L454.5,99.50 L455.0,102.98 L455.5,102.98 L456.0,99.50 L456.5,102.46 L457.0,102.46 L457.5,101.49 L458.0,101.49 L458.5,101.40 L459.0,101.40 L459.5,100.09 L460.0,100.09 L460.5,101.06 L461.0,101.06 L461.5,102.39 L462.0,102.39 L462.5,101.52 L463.0,101.52 L463.5,99.90 L464.0,99.90 L464.5,103.17 L465.0,103.17 L465.5,102.45 L466.0,102.45 L466.5,104.29 L467.0,104.29 L467.5,104.98 L468.0,104.98 L468.5,99.50 L469.0,99.50 L469.5,103.03 L470.0,99.50 L470.5,99.50 L471.0,99.50 L471.5,99.50 L472.0,99.50 L472.5,99.50 L473.0,99.50 L473.5,99.50 L474.0,99.50 L474.5,99.50 L475.0,99.50 L475.5,99.50 L476.0,99.50 L476.5,99.50 L477.0,99.50 L477.5,99.50 L478.0,99.50 L478.5,99.50 L479.0,99.50 L479.5,99.50 L480.0,99.50 L480.5,99.50 L481.0,99.50 L481.5,99.50 L482.0,99.50 L482.5,99.50 L483.0,99.50 L483.5,99.50 L484.0,99.50 L484.5,99.50 L485.0,99.50 L485.5,99.50 L486.0,99.50 L486.5,99.50 L487.0,99.50 L487.5,99.50 L488.0,99.50 L488.5,99.50 L489.0,99.50 L489.5,99.50 L490.0,99.50 L490.5,99.50 L491.0,99.50 L491.5,100.12 L492.0,100.12 L492.5,99.50 L493.0,99.50 L493.5,100.04 L494.0,100.04 L494.5,99.50 L495.0,99.50 L495.5,99.50 L496.0,99.50 L496.5,99.50 L497.0,101.10 L497.5,103.10 L498.0,103.50 L498.5,103.10 L499.0,101.10 L499.5,99.50 L500.0,99.50 L500.5,99.50 L501.0,99.50 L501.5,99.50 L502.0,99.50 L502.5,99.50 L503.0,99.50 L503.5,99.50 L504.0,99.50 L504.5,100.65 L505.0,100.65 L505.5,99.50 L506.0,99.50 L506.5,99.50 L507.0,99.50 L507.5,99.50 L508.0,99.50 L508.5,99.50 L509.0,99.50 L509.5,99.50 L510.0,99.50 L510.5,99.50 L511.0,99.50 L511.5,99.50 L512.0,99.50 L512.5,99.50 L513.0,99.50 L513.5,99.50 L514.0,99.50 L514.5,99.50 L515.0,99.50 L515.5,99.50 L516.0,99.50 L516.5,99.50 L517.0,99.50 L517.5,99.50 L518.0,99.50 L518.5,99.50 L519.0,99.50 L519.5,99.50 L520.0,99.50 L520.5,99.50 L521.0,99.50 L521.5,99.50 L522.0,99.50 L522.5,99.50 L523.0,99.50 L523.5,99.50 L524.0,99.50 L524.5,99.50 L525.0,99.50 L525.5,99.50 L526.0,99.50 L526.5,99.50 L527.0,99.50 L527.5,99.50 L528.0,99.50 L528.5,99.50 L529.0,99.50 L529.5,99.50 L530.0,99.50 L530.5,99.50 L531.0,99.50 L531.5,99.50 L532.0,99.50 L532.5,99.50 L533.0,99.50 L533.5,99.50 L534.0,99.50 L534.5,99.50 L535.0,99.50 L535.5,99.50 L536.0,99.50 L536.5,99.50 L537.0,99.50 L537.5,99.50 L538.0,99.50 L538.5,99.50 L539.0,99.50 L539.5,99.50 L540.0,99.50 L540.5,99.50 L541.0,99.50 L541.5,99.50 L542.0,99.50 L542.5,99.50 L543.0,99.50 L543.5,99.50 L544.0,99.50 L544.5,99.50 L545.0,99.50 L545.5,99.50 L546.0,99.50 L546.5,99.50 L547.0,99.50 L547.5,99.50 L548.0,99.50 L548.5,99.50 L549.0,99.50 L549.5,101.77 L550.0,101.77 L550.5,99.50 L551.0,99.50 L551.5,99.50 L552.0,99.50 L552.5,99.50 L553.0,100.05 L553.5,99.50 L554.0,99.50 L554.5,99.50 L555.0,99.50 L555.5,99.50 L556.0,99.50 L556.5,99.50 L557.0,100.60 L557.5,102.43 L558.0,103.90 L558.5,103.90 L559.0,102.80 L559.5,100.97 L560.0,99.50 L560.5,99.50 L561.0,99.50 L561.5,99.50 L562.0,99.50 L562.5,99.50 L563.0,99.50 L563.5,99.50 L564.0,99.50 L564.5,99.50 L565.0,99.50 L565.5,99.50 L566.0,99.50 L566.5,99.50 L567.0,99.50 L567.5,99.50 L568.0,99.50 L568.5,99.50 L569.0,99.50 L569.5,99.50 L570.0,99.50 L570.5,99.50 L571.0,99.50 L571.5,99.50 L572.0,99.50 L572.5,99.50 L573.0,99.50 L573.5,99.50 L574.0,99.50 L574.5,99.50 L575.0,99.50 L575.5,99.50 L576.0,99.50 L576.5,99.50 L577.0,99.50 L577.5,99.50 L578.0,99.50 L578.5,99.50 L579.0,99.50 L579.5,99.50 L580.0,99.50 L580.5,99.50 L581.0,99.50 L581.5,99.50 L582.0,99.50 L582.5,99.50 L583.0,99.50 L583.5,99.50 L584.0,99.50 L584.5,99.50 L585.0,99.50 L585.5,99.50 L586.0,99.50 L586.5,99.50 L587.0,99.50 L587.5,99.50 L588.0,99.50 L588.5,99.50 L589.0,99.50 L589.5,99.50 L590.0,99.50 L590.5,99.50 L591.0,99.50 L591.5,99.50 L592.0,99.50 L592.5,99.50 L593.0,99.50 L593.5,99.50 L594.0,99.50 L594.5,99.50 L595.0,99.50 L595.5,99.50 L596.0,99.50 L596.5,99.50 L597.0,99.50 L597.5,99.50 L598.0,99.50 L598.5,99.50 L599.0,99.50 L599.5,99.50 L600.0,99.50 L600.5,99.50 L601.0,99.50 L601.5,99.50 L602.0,99.50 L602.5,99.50 L603.0,99.50 L603.5,99.50 L604.0,99.50 L604.5,99.50 L605.0,99.50 L605.5,99.50 L606.0,99.50 L606.5,99.50 L607.0,99.50 L607.5,99.50 L608.0,99.50 L608.5,99.50 L609.0,99.50 L609.5,99.50 L610.0,99.50 L610.5,99.50 L611.0,99.50 L611.5,99.50 L612.0,99.50 L612.5,99.50 L613.0,99.50 L613.5,99.50 L614.0,99.50 L614.5,99.50 L615.0,99.50 L615.5,99.50 L616.0,99.50 L616.5,99.50 L617.0,99.50 L617.5,99.50 L618.0,99.50 L618.5,99.50 L619.0,99.50 L619.5,99.50 L620.0,99.50 L620.5,99.50 L621.0,99.50 L621.5,99.50 L622.0,99.50 L622.5,99.50 L623.0,99.50 L623.5,99.50 L624.0,99.50 L624.5,99.50 L625.0,99.50 L625.5,99.50 L626.0,99.50 L626.5,99.50 L627.0,99.50 L627.5,99.50 L628.0,99.50 L628.5,99.50 L629.0,99.50 L629.5,99.50 L630.0,99.50 L630.5,99.50 L631.0,99.50 L631.5,99.50 L632.0,99.50 L632.5,99.50 L633.0,99.50 L633.5,99.50 L634.0,99.50 L634.5,99.50 L635.0,99.50 L635.5,99.50 L636.0,99.50 L636.5,99.50 L637.0,99.50 L637.5,99.50 L638.0,99.50 L638.5,99.50 L639.0,99.50 L639.5,99.50 L640.0,99.50 L640.5,99.50 L641.0,99.50 L641.5,99.50 L642.0,101.33 L642.5,101.33 L643.0,99.50 L643.5,99.50 L644.0,99.50 L644.5,99.50 L645.0,99.50 L645.5,99.50 L646.0,99.50 L646.5,100.02 L647.0,100.02 L647.5,99.50 L648.0,99.50 L648.5,99.50 L649.0,99.50 L649.5,99.50 L650.0,99.50 L650.5,99.50 L651.0,99.50 L651.5,99.50 L652.0,99.50 L652.5,99.50 L653.0,99.50 L653.5,99.50 L654.0,99.50 L654.5,99.50 L655.0,99.50 L655.5,99.50 L656.0,99.50 L656.5,99.50 L657.0,99.50 L657.5,99.50 L658.0,99.50 L658.5,99.50 L659.0,99.50 L659.5,99.50 L660.0,99.50 L660.5,99.50 L661.0,99.50 L661.5,99.50 L662.0,99.50 L662.5,99.50 L663.0,99.50 L663.5,99.50 L664.0,99.50 L664.5,99.50 L665.0,99.50 L665.5,99.50 L666.0,99.50 L666.5,99.50 L667.0,99.50 L667.5,99.50 L668.0,99.50 L668.5,99.50 L669.0,99.50 L669.5,99.50 L670.0,99.50 L670.5,99.50 L671.0,99.50 L671.5,99.50 L672.0,99.50 L672.5,99.50 L673.0,99.50 L673.5,99.83 L674.0,101.50 L674.5,103.17 L675.0,103.50 L675.5,103.17 L676.0,101.50 L676.5,99.83 L677.0,99.50 L677.5,99.50 L678.0,99.50 L678.5,99.50 L679.0,99.50 L679.5,99.50 L680.0,99.50 L680.5,99.50 L681.0,99.50 L681.5,99.50 L682.0,99.50 L682.5,99.50 L683.0,99.50 L683.5,99.50 L684.0,99.50 L684.5,99.50 L685.0,99.50 L685.0,99.50 Z" fill="#155e98"/>
<path d="M61.9,109.70 H65.3 V146.10 H61.9" fill="none" stroke="#222" stroke-width="1.15"/>
<path d="M70.5,140.70 L70.5,140.70 L71.0,140.70 L71.5,140.70 L72.0,140.70 L72.5,140.70 L73.0,140.70 L73.5,139.50 L74.0,139.50 L74.5,140.70 L75.0,140.70 L75.5,140.70 L76.0,140.70 L76.5,140.70 L77.0,140.70 L77.5,140.70 L78.0,140.70 L78.5,140.70 L79.0,140.70 L79.5,139.20 L80.0,137.70 L80.5,137.70 L81.0,138.07 L81.5,139.95 L82.0,140.70 L82.5,140.70 L83.0,140.70 L83.5,140.70 L84.0,140.70 L84.5,140.70 L85.0,140.70 L85.5,137.20 L86.0,137.20 L86.5,137.20 L87.0,137.20 L87.5,137.20 L88.0,137.20 L88.5,137.20 L89.0,137.20 L89.5,128.43 L90.0,128.43 L90.5,128.97 L91.0,128.97 L91.5,127.44 L92.0,127.44 L92.5,127.66 L93.0,127.66 L93.5,129.51 L94.0,129.51 L94.5,128.43 L95.0,128.43 L95.5,132.55 L96.0,132.55 L96.5,135.72 L97.0,135.72 L97.5,137.00 L98.0,136.70 L98.5,137.20 L99.0,137.70 L99.5,139.20 L100.0,140.70 L100.5,138.06 L101.0,140.70 L101.5,140.70 L102.0,140.70 L102.5,140.70 L103.0,140.70 L103.5,140.70 L104.0,140.70 L104.5,140.70 L105.0,135.29 L105.5,136.75 L106.0,136.75 L106.5,136.55 L107.0,136.55 L107.5,136.25 L108.0,136.25 L108.5,137.48 L109.0,137.48 L109.5,137.66 L110.0,137.66 L110.5,137.53 L111.0,137.53 L111.5,140.70 L112.0,140.70 L112.5,139.01 L113.0,139.01 L113.5,137.00 L114.0,137.00 L114.5,136.44 L115.0,136.44 L115.5,136.39 L116.0,136.39 L116.5,134.39 L117.0,134.39 L117.5,135.88 L118.0,135.88 L118.5,135.75 L119.0,135.75 L119.5,138.58 L120.0,138.58 L120.5,140.70 L121.0,140.70 L121.5,140.70 L122.0,140.70 L122.5,137.32 L123.0,137.32 L123.5,138.35 L124.0,138.35 L124.5,136.35 L125.0,136.35 L125.5,135.05 L126.0,135.05 L126.5,137.10 L127.0,137.10 L127.5,137.75 L128.0,137.75 L128.5,135.40 L129.0,135.40 L129.5,137.26 L130.0,137.26 L130.5,139.11 L131.0,139.11 L131.5,139.40 L132.0,139.40 L132.5,139.23 L133.0,139.23 L133.5,140.70 L134.0,140.70 L134.5,140.70 L135.0,140.70 L135.5,140.70 L136.0,140.70 L136.5,140.70 L137.0,138.24 L137.5,137.98 L138.0,137.98 L138.5,137.60 L139.0,132.78 L139.5,131.83 L140.0,136.65 L140.5,137.29 L141.0,137.29 L141.5,140.70 L142.0,140.70 L142.5,140.70 L143.0,140.70 L143.5,140.70 L144.0,140.70 L144.5,140.70 L145.0,136.32 L145.5,136.95 L146.0,136.95 L146.5,137.24 L147.0,137.24 L147.5,136.65 L148.0,136.65 L148.5,137.11 L149.0,135.45 L149.5,118.58 L150.0,118.58 L150.5,118.50 L151.0,118.50 L151.5,120.66 L152.0,120.66 L152.5,124.15 L153.0,140.70 L153.5,137.21 L154.0,137.21 L154.5,137.11 L155.0,137.11 L155.5,137.05 L156.0,137.05 L156.5,137.28 L157.0,137.28 L157.5,136.70 L158.0,136.70 L158.5,136.92 L159.0,136.92 L159.5,137.87 L160.0,137.87 L160.5,137.73 L161.0,137.73 L161.5,135.55 L162.0,135.55 L162.5,133.35 L163.0,133.35 L163.5,135.22 L164.0,135.22 L164.5,139.61 L165.0,139.61 L165.5,137.52 L166.0,137.52 L166.5,138.46 L167.0,138.46 L167.5,139.62 L168.0,139.62 L168.5,137.99 L169.0,137.99 L169.5,136.94 L170.0,136.94 L170.5,137.87 L171.0,137.87 L171.5,137.25 L172.0,134.53 L172.5,132.90 L173.0,135.61 L173.5,135.00 L174.0,135.00 L174.5,135.50 L175.0,135.50 L175.5,127.33 L176.0,127.33 L176.5,116.66 L177.0,116.66 L177.5,115.08 L178.0,115.08 L178.5,116.39 L179.0,116.39 L179.5,115.45 L180.0,115.45 L180.5,116.51 L181.0,116.51 L181.5,116.69 L182.0,116.69 L182.5,117.43 L183.0,117.43 L183.5,115.89 L184.0,115.89 L184.5,115.80 L185.0,115.80 L185.5,117.12 L186.0,117.12 L186.5,118.01 L187.0,118.01 L187.5,118.14 L188.0,118.14 L188.5,117.58 L189.0,117.58 L189.5,115.16 L190.0,115.16 L190.5,115.32 L191.0,115.32 L191.5,114.89 L192.0,114.89 L192.5,115.70 L193.0,115.70 L193.5,124.51 L194.0,140.70 L194.5,137.35 L195.0,137.35 L195.5,137.81 L196.0,137.81 L196.5,138.78 L197.0,138.78 L197.5,139.33 L198.0,116.70 L198.5,117.00 L199.0,117.00 L199.5,115.53 L200.0,115.53 L200.5,116.09 L201.0,116.09 L201.5,116.32 L202.0,116.32 L202.5,117.37 L203.0,140.70 L203.5,139.43 L204.0,139.43 L204.5,139.17 L205.0,139.17 L205.5,139.51 L206.0,139.51 L206.5,140.70 L207.0,140.70 L207.5,140.70 L208.0,140.70 L208.5,140.26 L209.0,140.26 L209.5,139.98 L210.0,139.98 L210.5,140.07 L211.0,140.07 L211.5,138.97 L212.0,138.97 L212.5,139.68 L213.0,139.68 L213.5,138.43 L214.0,126.99 L214.5,116.19 L215.0,116.19 L215.5,116.24 L216.0,116.24 L216.5,116.03 L217.0,116.03 L217.5,117.26 L218.0,117.26 L218.5,118.04 L219.0,118.04 L219.5,117.06 L220.0,117.06 L220.5,117.59 L221.0,117.59 L221.5,116.87 L222.0,116.87 L222.5,116.22 L223.0,116.22 L223.5,117.20 L224.0,117.20 L224.5,117.35 L225.0,117.35 L225.5,117.75 L226.0,117.75 L226.5,117.07 L227.0,117.07 L227.5,116.74 L228.0,116.74 L228.5,116.71 L229.0,116.71 L229.5,115.96 L230.0,115.96 L230.5,118.58 L231.0,118.58 L231.5,118.62 L232.0,118.62 L232.5,134.37 L233.0,137.89 L233.5,137.46 L234.0,137.46 L234.5,138.64 L235.0,138.64 L235.5,136.98 L236.0,136.98 L236.5,136.04 L237.0,136.04 L237.5,136.50 L238.0,136.50 L238.5,137.35 L239.0,137.35 L239.5,136.57 L240.0,136.57 L240.5,134.81 L241.0,134.81 L241.5,135.14 L242.0,135.14 L242.5,137.08 L243.0,137.08 L243.5,138.65 L244.0,138.65 L244.5,139.13 L245.0,139.13 L245.5,138.89 L246.0,138.89 L246.5,136.36 L247.0,136.36 L247.5,134.66 L248.0,134.66 L248.5,135.49 L249.0,135.49 L249.5,137.59 L250.0,137.59 L250.5,136.03 L251.0,136.03 L251.5,135.19 L252.0,135.19 L252.5,136.51 L253.0,136.51 L253.5,138.16 L254.0,140.70 L254.5,140.70 L255.0,138.03 L255.5,138.02 L256.0,138.02 L256.5,137.35 L257.0,137.35 L257.5,137.06 L258.0,137.06 L258.5,137.33 L259.0,137.33 L259.5,136.07 L260.0,136.07 L260.5,135.31 L261.0,135.31 L261.5,133.45 L262.0,133.45 L262.5,136.60 L263.0,136.60 L263.5,138.39 L264.0,138.39 L264.5,137.46 L265.0,137.46 L265.5,138.46 L266.0,138.46 L266.5,134.33 L267.0,134.33 L267.5,138.43 L268.0,138.43 L268.5,138.40 L269.0,138.40 L269.5,137.04 L270.0,137.04 L270.5,138.05 L271.0,138.05 L271.5,137.43 L272.0,137.43 L272.5,136.16 L273.0,136.16 L273.5,134.96 L274.0,134.96 L274.5,134.85 L275.0,134.85 L275.5,135.97 L276.0,135.97 L276.5,136.13 L277.0,136.13 L277.5,135.70 L278.0,135.70 L278.5,134.62 L279.0,134.62 L279.5,136.16 L280.0,136.16 L280.5,137.60 L281.0,137.60 L281.5,136.60 L282.0,136.60 L282.5,137.11 L283.0,137.11 L283.5,135.65 L284.0,135.65 L284.5,135.27 L285.0,131.67 L285.5,133.15 L286.0,136.75 L286.5,135.85 L287.0,135.85 L287.5,133.83 L288.0,133.83 L288.5,134.90 L289.0,134.90 L289.5,135.91 L290.0,135.91 L290.5,133.82 L291.0,133.82 L291.5,137.75 L292.0,137.75 L292.5,137.95 L293.0,137.95 L293.5,136.50 L294.0,136.50 L294.5,135.07 L295.0,135.07 L295.5,136.99 L296.0,136.99 L296.5,138.19 L297.0,138.19 L297.5,138.16 L298.0,138.16 L298.5,138.58 L299.0,138.58 L299.5,138.03 L300.0,137.33 L300.5,135.02 L301.0,135.02 L301.5,135.27 L302.0,135.27 L302.5,140.70 L303.0,140.70 L303.5,140.70 L304.0,140.70 L304.5,140.70 L305.0,140.70 L305.5,137.50 L306.0,137.50 L306.5,136.07 L307.0,136.07 L307.5,134.14 L308.0,134.14 L308.5,135.76 L309.0,135.76 L309.5,136.78 L310.0,136.78 L310.5,136.18 L311.0,136.18 L311.5,135.74 L312.0,135.74 L312.5,136.73 L313.0,136.73 L313.5,136.53 L314.0,136.53 L314.5,137.05 L315.0,137.05 L315.5,137.94 L316.0,137.94 L316.5,136.76 L317.0,136.76 L317.5,134.52 L318.0,134.52 L318.5,134.80 L319.0,134.80 L319.5,135.82 L320.0,135.82 L320.5,136.28 L321.0,136.28 L321.5,134.28 L322.0,134.28 L322.5,136.07 L323.0,140.70 L323.5,140.70 L324.0,140.70 L324.5,140.70 L325.0,140.70 L325.5,140.70 L326.0,140.70 L326.5,140.70 L327.0,140.70 L327.5,135.68 L328.0,135.68 L328.5,135.84 L329.0,135.84 L329.5,136.27 L330.0,136.27 L330.5,138.56 L331.0,138.56 L331.5,139.77 L332.0,139.77 L332.5,138.18 L333.0,139.70 L333.5,139.70 L334.0,139.70 L334.5,139.70 L335.0,139.70 L335.5,135.39 L336.0,135.39 L336.5,137.01 L337.0,137.01 L337.5,137.53 L338.0,137.53 L338.5,135.06 L339.0,135.06 L339.5,134.20 L340.0,134.20 L340.5,137.26 L341.0,137.26 L341.5,139.42 L342.0,139.42 L342.5,137.07 L343.0,137.07 L343.5,136.00 L344.0,136.00 L344.5,135.29 L345.0,135.29 L345.5,136.25 L346.0,140.70 L346.5,140.70 L347.0,140.70 L347.5,140.70 L348.0,140.70 L348.5,135.74 L349.0,135.74 L349.5,135.14 L350.0,135.14 L350.5,135.17 L351.0,135.17 L351.5,136.55 L352.0,136.55 L352.5,136.55 L353.0,140.70 L353.5,140.70 L354.0,140.70 L354.5,140.70 L355.0,140.70 L355.5,140.70 L356.0,138.70 L356.5,138.70 L357.0,138.70 L357.5,138.70 L358.0,138.70 L358.5,138.70 L359.0,140.70 L359.5,140.70 L360.0,140.70 L360.5,140.70 L361.0,138.20 L361.5,138.20 L362.0,138.20 L362.5,138.20 L363.0,138.20 L363.5,138.20 L364.0,138.20 L364.5,138.20 L365.0,138.20 L365.5,140.70 L366.0,140.70 L366.5,140.70 L367.0,140.70 L367.5,140.70 L368.0,140.70 L368.5,140.70 L369.0,140.70 L369.5,140.70 L370.0,138.26 L370.5,135.20 L371.0,135.20 L371.5,135.20 L372.0,140.70 L372.5,140.70 L373.0,140.70 L373.5,140.70 L374.0,140.70 L374.5,140.70 L375.0,140.70 L375.5,140.70 L376.0,140.70 L376.5,139.74 L377.0,139.74 L377.5,138.37 L378.0,138.37 L378.5,139.22 L379.0,140.70 L379.5,140.70 L380.0,140.70 L380.5,140.70 L381.0,140.70 L381.5,140.70 L382.0,140.70 L382.5,140.04 L383.0,140.70 L383.5,140.70 L384.0,140.70 L384.5,140.70 L385.0,140.70 L385.5,140.70 L386.0,140.70 L386.5,140.70 L387.0,140.70 L387.5,140.70 L388.0,140.70 L388.5,140.70 L389.0,140.70 L389.5,140.70 L390.0,140.70 L390.5,140.70 L391.0,140.70 L391.5,140.70 L392.0,140.70 L392.5,140.70 L393.0,140.70 L393.5,140.70 L394.0,140.70 L394.5,133.58 L395.0,133.58 L395.5,126.51 L396.0,126.51 L396.5,126.29 L397.0,126.29 L397.5,127.88 L398.0,127.88 L398.5,130.66 L399.0,130.66 L399.5,129.65 L400.0,129.65 L400.5,140.70 L401.0,140.70 L401.5,140.70 L402.0,140.70 L402.5,140.70 L403.0,140.70 L403.5,140.70 L404.0,140.70 L404.5,140.70 L405.0,140.70 L405.5,140.70 L406.0,140.70 L406.5,140.70 L407.0,140.70 L407.5,140.70 L408.0,140.70 L408.5,140.70 L409.0,140.70 L409.5,140.70 L410.0,140.70 L410.5,140.70 L411.0,140.70 L411.5,140.70 L412.0,140.70 L412.5,140.70 L413.0,140.70 L413.5,140.70 L414.0,140.70 L414.5,140.70 L415.0,140.70 L415.5,140.70 L416.0,140.70 L416.5,140.70 L417.0,140.70 L417.5,140.70 L418.0,140.70 L418.5,140.70 L419.0,140.70 L419.5,140.70 L420.0,140.70 L420.5,140.70 L421.0,140.70 L421.5,140.70 L422.0,140.70 L422.5,140.70 L423.0,140.70 L423.5,140.70 L424.0,140.70 L424.5,140.70 L425.0,140.70 L425.5,140.70 L426.0,140.70 L426.5,140.70 L427.0,140.70 L427.5,140.70 L428.0,140.70 L428.5,140.70 L429.0,140.70 L429.5,140.70 L430.0,140.70 L430.5,140.70 L431.0,140.70 L431.5,140.70 L432.0,140.70 L432.5,140.70 L433.0,140.70 L433.5,140.70 L434.0,140.70 L434.5,140.70 L435.0,140.70 L435.5,140.70 L436.0,140.70 L436.5,140.70 L437.0,140.70 L437.5,140.70 L438.0,140.70 L438.5,140.70 L439.0,140.70 L439.5,140.70 L440.0,140.70 L440.5,140.70 L441.0,140.70 L441.5,140.70 L442.0,140.70 L442.5,140.70 L443.0,140.70 L443.5,140.70 L444.0,139.95 L444.5,138.70 L445.0,138.70 L445.5,138.70 L446.0,139.95 L446.5,140.70 L447.0,140.70 L447.5,140.70 L448.0,140.70 L448.5,140.70 L449.0,140.70 L449.5,140.70 L450.0,140.70 L450.5,140.70 L451.0,140.70 L451.5,140.70 L452.0,140.70 L452.5,140.70 L453.0,140.70 L453.5,140.70 L454.0,140.70 L454.5,140.70 L455.0,140.70 L455.5,140.70 L456.0,140.70 L456.5,140.70 L457.0,140.70 L457.5,140.70 L458.0,140.70 L458.5,136.54 L459.0,136.54 L459.5,139.78 L460.0,139.78 L460.5,140.70 L461.0,140.70 L461.5,135.85 L462.0,135.85 L462.5,140.70 L463.0,140.70 L463.5,140.70 L464.0,140.70 L464.5,140.70 L465.0,140.70 L465.5,140.70 L466.0,140.70 L466.5,138.06 L467.0,138.06 L467.5,140.70 L468.0,140.70 L468.5,140.70 L469.0,140.70 L469.5,140.70 L470.0,140.70 L470.5,140.70 L471.0,140.70 L471.5,140.70 L472.0,140.70 L472.5,136.70 L473.0,136.70 L473.5,136.70 L474.0,138.70 L474.5,140.70 L475.0,140.70 L475.5,140.70 L476.0,140.70 L476.5,140.70 L477.0,140.70 L477.5,140.70 L478.0,140.70 L478.5,140.70 L479.0,140.70 L479.5,140.70 L480.0,140.70 L480.5,138.85 L481.0,136.85 L481.5,138.27 L482.0,138.27 L482.5,137.95 L483.0,137.95 L483.5,137.28 L484.0,133.69 L484.5,134.61 L485.0,138.20 L485.5,137.88 L486.0,137.88 L486.5,138.00 L487.0,138.00 L487.5,137.08 L488.0,137.08 L488.5,137.85 L489.0,137.85 L489.5,138.43 L490.0,138.43 L490.5,138.58 L491.0,138.58 L491.5,136.78 L492.0,136.78 L492.5,136.58 L493.0,136.58 L493.5,137.21 L494.0,137.21 L494.5,137.68 L495.0,137.68 L495.5,137.47 L496.0,137.47 L496.5,139.13 L497.0,140.70 L497.5,140.70 L498.0,140.70 L498.5,140.70 L499.0,140.70 L499.5,139.57 L500.0,139.57 L500.5,140.70 L501.0,140.70 L501.5,140.12 L502.0,140.12 L502.5,139.24 L503.0,139.24 L503.5,140.25 L504.0,140.25 L504.5,139.50 L505.0,135.35 L505.5,137.80 L506.0,140.70 L506.5,139.97 L507.0,139.97 L507.5,139.70 L508.0,139.70 L508.5,138.86 L509.0,138.86 L509.5,140.70 L510.0,140.70 L510.5,140.70 L511.0,140.70 L511.5,139.58 L512.0,139.58 L512.5,138.20 L513.0,138.20 L513.5,138.10 L514.0,138.10 L514.5,138.79 L515.0,138.79 L515.5,139.28 L516.0,139.28 L516.5,138.16 L517.0,138.16 L517.5,139.53 L518.0,139.53 L518.5,140.70 L519.0,140.70 L519.5,140.30 L520.0,140.30 L520.5,139.73 L521.0,139.73 L521.5,138.02 L522.0,138.02 L522.5,138.05 L523.0,138.05 L523.5,136.97 L524.0,140.70 L524.5,140.70 L525.0,140.70 L525.5,140.70 L526.0,140.70 L526.5,139.29 L527.0,136.53 L527.5,135.08 L528.0,135.08 L528.5,140.70 L529.0,140.70 L529.5,135.24 L530.0,135.24 L530.5,135.03 L531.0,135.03 L531.5,134.00 L532.0,134.00 L532.5,133.63 L533.0,133.63 L533.5,135.20 L534.0,135.20 L534.5,137.07 L535.0,137.07 L535.5,136.01 L536.0,136.01 L536.5,135.83 L537.0,135.83 L537.5,135.09 L538.0,135.09 L538.5,134.20 L539.0,134.20 L539.5,135.82 L540.0,135.82 L540.5,135.75 L541.0,135.75 L541.5,133.94 L542.0,133.94 L542.5,131.85 L543.0,131.85 L543.5,132.15 L544.0,140.70 L544.5,140.70 L545.0,134.97 L545.5,135.79 L546.0,135.79 L546.5,135.50 L547.0,135.50 L547.5,134.51 L548.0,134.51 L548.5,134.46 L549.0,134.46 L549.5,134.54 L550.0,134.54 L550.5,136.09 L551.0,136.09 L551.5,137.03 L552.0,137.03 L552.5,135.23 L553.0,135.23 L553.5,134.90 L554.0,134.90 L554.5,135.68 L555.0,135.68 L555.5,133.90 L556.0,133.90 L556.5,132.51 L557.0,140.70 L557.5,140.70 L558.0,140.70 L558.5,140.70 L559.0,140.70 L559.5,140.70 L560.0,137.98 L560.5,136.99 L561.0,136.99 L561.5,137.19 L562.0,137.19 L562.5,137.08 L563.0,137.08 L563.5,138.60 L564.0,138.60 L564.5,138.30 L565.0,138.30 L565.5,137.66 L566.0,137.66 L566.5,139.60 L567.0,139.60 L567.5,137.46 L568.0,137.46 L568.5,135.08 L569.0,135.08 L569.5,135.66 L570.0,135.66 L570.5,135.85 L571.0,135.85 L571.5,132.15 L572.0,129.30 L572.5,129.30 L573.0,131.20 L573.5,134.81 L574.0,134.81 L574.5,136.97 L575.0,136.97 L575.5,140.70 L576.0,140.70 L576.5,138.51 L577.0,138.51 L577.5,138.01 L578.0,138.01 L578.5,135.92 L579.0,135.92 L579.5,136.22 L580.0,136.22 L580.5,136.76 L581.0,136.76 L581.5,136.25 L582.0,136.25 L582.5,133.90 L583.0,133.90 L583.5,135.15 L584.0,135.15 L584.5,136.49 L585.0,136.49 L585.5,136.30 L586.0,136.30 L586.5,137.98 L587.0,137.98 L587.5,137.27 L588.0,137.27 L588.5,136.11 L589.0,136.11 L589.5,137.28 L590.0,137.27 L590.5,129.14 L591.0,129.14 L591.5,127.70 L592.0,127.70 L592.5,127.45 L593.0,127.45 L593.5,125.56 L594.0,125.56 L594.5,126.09 L595.0,126.09 L595.5,125.90 L596.0,125.90 L596.5,126.10 L597.0,126.10 L597.5,125.37 L598.0,125.37 L598.5,126.19 L599.0,126.19 L599.5,126.72 L600.0,126.72 L600.5,126.58 L601.0,126.58 L601.5,127.02 L602.0,127.02 L602.5,140.70 L603.0,137.74 L603.5,138.88 L604.0,138.88 L604.5,138.34 L605.0,140.70 L605.5,140.70 L606.0,136.90 L606.5,136.64 L607.0,136.64 L607.5,135.89 L608.0,135.89 L608.5,137.13 L609.0,137.13 L609.5,139.85 L610.0,139.85 L610.5,139.62 L611.0,136.45 L611.5,132.20 L612.0,132.20 L612.5,132.20 L613.0,136.45 L613.5,137.37 L614.0,137.37 L614.5,137.34 L615.0,137.34 L615.5,139.03 L616.0,139.03 L616.5,137.28 L617.0,137.28 L617.5,136.33 L618.0,136.33 L618.5,136.81 L619.0,136.81 L619.5,136.89 L620.0,136.89 L620.5,136.57 L621.0,136.57 L621.5,136.99 L622.0,136.99 L622.5,138.16 L623.0,138.16 L623.5,138.74 L624.0,138.74 L624.5,137.56 L625.0,137.56 L625.5,135.07 L626.0,140.70 L626.5,140.70 L627.0,135.58 L627.5,137.64 L628.0,137.64 L628.5,138.33 L629.0,135.09 L629.5,134.77 L630.0,138.01 L630.5,136.02 L631.0,136.02 L631.5,137.72 L632.0,137.72 L632.5,138.93 L633.0,138.93 L633.5,136.44 L634.0,136.44 L634.5,133.92 L635.0,133.92 L635.5,133.63 L636.0,133.63 L636.5,137.00 L637.0,137.00 L637.5,136.94 L638.0,136.94 L638.5,138.67 L639.0,138.67 L639.5,137.70 L640.0,137.70 L640.5,132.60 L641.0,132.60 L641.5,137.10 L642.0,138.30 L642.5,128.78 L643.0,128.78 L643.5,125.71 L644.0,125.71 L644.5,123.37 L645.0,123.37 L645.5,123.04 L646.0,123.04 L646.5,124.15 L647.0,124.15 L647.5,128.71 L648.0,140.70 L648.5,136.97 L649.0,136.97 L649.5,134.73 L650.0,134.73 L650.5,134.18 L651.0,140.70 L651.5,140.70 L652.0,140.70 L652.5,140.70 L653.0,140.70 L653.5,135.93 L654.0,135.93 L654.5,135.41 L655.0,135.41 L655.5,137.16 L656.0,137.16 L656.5,136.72 L657.0,136.72 L657.5,137.07 L658.0,137.07 L658.5,135.93 L659.0,140.70 L659.5,140.70 L660.0,140.70 L660.5,140.70 L661.0,140.70 L661.5,135.98 L662.0,135.98 L662.5,137.23 L663.0,137.23 L663.5,137.95 L664.0,137.95 L664.5,138.05 L665.0,138.05 L665.5,136.35 L666.0,136.35 L666.5,137.24 L667.0,137.24 L667.5,138.23 L668.0,138.23 L668.5,137.89 L669.0,137.89 L669.5,137.82 L670.0,137.82 L670.5,138.70 L671.0,138.70 L671.5,136.93 L672.0,136.93 L672.5,136.50 L673.0,136.50 L673.5,137.00 L674.0,140.70 L674.5,140.70 L675.0,140.70 L675.5,140.70 L676.0,140.70 L676.5,137.43 L677.0,133.32 L677.5,133.53 L678.0,137.64 L678.5,136.14 L679.0,140.70 L679.5,140.70 L680.0,140.70 L680.5,140.70 L681.0,140.70 L681.5,139.49 L682.0,139.49 L682.5,140.70 L683.0,140.70 L683.5,137.53 L684.0,137.53 L684.5,137.32 L685.0,137.32 L685.0,140.70 Z" fill="#cd5c5c"/>
<path d="M70.5,140.70 L70.5,140.70 L71.0,140.70 L71.5,141.71 L72.0,141.71 L72.5,141.09 L73.0,141.09 L73.5,140.70 L74.0,140.70 L74.5,143.43 L75.0,143.43 L75.5,141.50 L76.0,142.50 L76.5,143.50 L77.0,143.70 L77.5,143.50 L78.0,143.78 L78.5,144.93 L79.0,144.93 L79.5,140.70 L80.0,140.70 L80.5,140.70 L81.0,140.70 L81.5,140.70 L82.0,142.50 L82.5,142.24 L83.0,142.24 L83.5,141.86 L84.0,141.86 L84.5,143.75 L85.0,140.70 L85.5,140.70 L86.0,140.70 L86.5,140.70 L87.0,140.70 L87.5,140.70 L88.0,140.70 L88.5,140.70 L89.0,140.70 L89.5,140.70 L90.0,140.70 L90.5,140.70 L91.0,140.70 L91.5,140.70 L92.0,140.70 L92.5,140.70 L93.0,140.70 L93.5,140.70 L94.0,140.70 L94.5,140.70 L95.0,140.70 L95.5,140.70 L96.0,140.70 L96.5,140.70 L97.0,140.70 L97.5,140.70 L98.0,140.70 L98.5,140.70 L99.0,140.70 L99.5,140.70 L100.0,140.70 L100.5,140.70 L101.0,140.97 L101.5,141.63 L102.0,142.30 L102.5,142.70 L103.0,142.70 L103.5,142.17 L104.0,141.50 L104.5,140.83 L105.0,140.70 L105.5,140.70 L106.0,140.70 L106.5,140.70 L107.0,140.70 L107.5,140.70 L108.0,140.70 L108.5,140.70 L109.0,140.70 L109.5,140.70 L110.0,140.70 L110.5,140.70 L111.0,140.70 L111.5,142.36 L112.0,142.36 L112.5,140.70 L113.0,140.70 L113.5,140.70 L114.0,140.70 L114.5,140.70 L115.0,140.70 L115.5,140.70 L116.0,140.70 L116.5,140.70 L117.0,140.70 L117.5,140.70 L118.0,140.70 L118.5,140.70 L119.0,140.70 L119.5,140.70 L120.0,140.70 L120.5,144.50 L121.0,148.30 L121.5,148.30 L122.0,145.45 L122.5,140.70 L123.0,140.70 L123.5,140.70 L124.0,140.70 L124.5,140.70 L125.0,140.70 L125.5,140.70 L126.0,140.70 L126.5,140.70 L127.0,140.70 L127.5,140.70 L128.0,140.70 L128.5,140.70 L129.0,140.70 L129.5,140.70 L130.0,140.70 L130.5,140.70 L131.0,140.70 L131.5,140.70 L132.0,140.70 L132.5,140.70 L133.0,140.70 L133.5,141.37 L134.0,142.20 L134.5,143.03 L135.0,143.20 L135.5,143.03 L136.0,142.20 L136.5,141.37 L137.0,140.70 L137.5,140.70 L138.0,140.70 L138.5,140.70 L139.0,140.70 L139.5,140.70 L140.0,140.70 L140.5,140.70 L141.0,140.70 L141.5,141.37 L142.0,142.20 L142.5,143.03 L143.0,143.20 L143.5,143.03 L144.0,142.20 L144.5,141.37 L145.0,140.70 L145.5,140.70 L146.0,140.70 L146.5,140.70 L147.0,140.70 L147.5,140.70 L148.0,140.70 L148.5,140.70 L149.0,140.70 L149.5,140.70 L150.0,140.70 L150.5,140.70 L151.0,140.70 L151.5,140.70 L152.0,140.70 L152.5,140.70 L153.0,140.70 L153.5,140.70 L154.0,140.70 L154.5,140.70 L155.0,140.70 L155.5,140.70 L156.0,140.70 L156.5,140.70 L157.0,140.70 L157.5,140.70 L158.0,140.70 L158.5,140.70 L159.0,140.70 L159.5,140.70 L160.0,140.70 L160.5,140.70 L161.0,140.70 L161.5,140.70 L162.0,140.70 L162.5,140.70 L163.0,140.70 L163.5,140.70 L164.0,140.70 L164.5,140.70 L165.0,140.70 L165.5,140.70 L166.0,140.70 L166.5,140.70 L167.0,140.70 L167.5,140.70 L168.0,140.70 L168.5,140.70 L169.0,140.70 L169.5,140.70 L170.0,140.70 L170.5,140.70 L171.0,140.70 L171.5,140.70 L172.0,140.70 L172.5,140.70 L173.0,140.70 L173.5,140.70 L174.0,140.70 L174.5,140.70 L175.0,140.70 L175.5,140.70 L176.0,140.70 L176.5,140.70 L177.0,140.70 L177.5,140.70 L178.0,140.70 L178.5,140.70 L179.0,140.70 L179.5,140.70 L180.0,140.70 L180.5,140.70 L181.0,140.70 L181.5,140.70 L182.0,140.70 L182.5,140.70 L183.0,140.70 L183.5,140.70 L184.0,140.70 L184.5,140.70 L185.0,140.70 L185.5,140.70 L186.0,140.70 L186.5,140.70 L187.0,140.70 L187.5,140.70 L188.0,140.70 L188.5,140.70 L189.0,140.70 L189.5,140.70 L190.0,140.70 L190.5,140.70 L191.0,140.70 L191.5,140.70 L192.0,140.70 L192.5,140.70 L193.0,140.70 L193.5,140.70 L194.0,140.70 L194.5,140.70 L195.0,140.70 L195.5,140.70 L196.0,140.70 L196.5,140.70 L197.0,140.70 L197.5,140.70 L198.0,140.70 L198.5,140.70 L199.0,140.70 L199.5,140.70 L200.0,140.70 L200.5,140.70 L201.0,140.70 L201.5,140.70 L202.0,140.70 L202.5,140.70 L203.0,140.70 L203.5,140.70 L204.0,140.70 L204.5,140.70 L205.0,140.70 L205.5,140.70 L206.0,140.70 L206.5,140.70 L207.0,140.70 L207.5,140.70 L208.0,140.70 L208.5,140.70 L209.0,140.70 L209.5,140.70 L210.0,140.70 L210.5,140.70 L211.0,140.70 L211.5,140.70 L212.0,140.70 L212.5,140.70 L213.0,140.70 L213.5,140.70 L214.0,140.70 L214.5,140.70 L215.0,140.70 L215.5,140.70 L216.0,140.70 L216.5,140.70 L217.0,140.70 L217.5,140.70 L218.0,140.70 L218.5,140.70 L219.0,140.70 L219.5,140.70 L220.0,140.70 L220.5,140.70 L221.0,140.70 L221.5,140.70 L222.0,140.70 L222.5,140.70 L223.0,140.70 L223.5,140.70 L224.0,140.70 L224.5,140.70 L225.0,140.70 L225.5,140.70 L226.0,140.70 L226.5,140.70 L227.0,140.70 L227.5,140.70 L228.0,140.70 L228.5,140.70 L229.0,140.70 L229.5,140.70 L230.0,140.70 L230.5,140.70 L231.0,140.70 L231.5,140.70 L232.0,140.70 L232.5,140.70 L233.0,140.70 L233.5,140.70 L234.0,140.70 L234.5,140.70 L235.0,140.70 L235.5,140.70 L236.0,140.70 L236.5,140.70 L237.0,140.70 L237.5,140.70 L238.0,140.70 L238.5,140.70 L239.0,140.70 L239.5,140.70 L240.0,140.70 L240.5,140.70 L241.0,140.70 L241.5,140.70 L242.0,140.70 L242.5,140.70 L243.0,140.70 L243.5,140.70 L244.0,140.70 L244.5,140.70 L245.0,140.70 L245.5,140.70 L246.0,140.70 L246.5,140.70 L247.0,140.70 L247.5,140.70 L248.0,140.70 L248.5,140.70 L249.0,140.70 L249.5,140.70 L250.0,140.70 L250.5,140.70 L251.0,140.70 L251.5,140.70 L252.0,140.70 L252.5,140.70 L253.0,140.70 L253.5,140.70 L254.0,142.68 L254.5,142.68 L255.0,140.70 L255.5,140.70 L256.0,140.70 L256.5,140.70 L257.0,140.70 L257.5,140.70 L258.0,140.70 L258.5,140.70 L259.0,140.70 L259.5,140.70 L260.0,140.70 L260.5,140.70 L261.0,140.70 L261.5,140.70 L262.0,140.70 L262.5,140.70 L263.0,140.70 L263.5,140.70 L264.0,140.70 L264.5,140.70 L265.0,140.70 L265.5,140.70 L266.0,140.70 L266.5,140.70 L267.0,140.70 L267.5,140.70 L268.0,140.70 L268.5,140.70 L269.0,140.70 L269.5,140.70 L270.0,140.70 L270.5,140.70 L271.0,140.70 L271.5,140.70 L272.0,140.70 L272.5,140.70 L273.0,140.70 L273.5,140.70 L274.0,140.70 L274.5,140.70 L275.0,140.70 L275.5,140.70 L276.0,140.70 L276.5,140.70 L277.0,140.70 L277.5,140.70 L278.0,140.70 L278.5,140.70 L279.0,140.70 L279.5,140.70 L280.0,140.70 L280.5,140.70 L281.0,140.70 L281.5,140.70 L282.0,140.70 L282.5,140.70 L283.0,140.70 L283.5,140.70 L284.0,140.70 L284.5,140.70 L285.0,140.70 L285.5,140.70 L286.0,140.70 L286.5,140.70 L287.0,140.70 L287.5,140.70 L288.0,140.70 L288.5,140.70 L289.0,140.70 L289.5,140.70 L290.0,140.70 L290.5,140.70 L291.0,140.70 L291.5,140.70 L292.0,140.70 L292.5,140.70 L293.0,140.70 L293.5,140.70 L294.0,140.70 L294.5,140.70 L295.0,140.70 L295.5,140.70 L296.0,140.70 L296.5,140.70 L297.0,140.70 L297.5,140.70 L298.0,140.70 L298.5,140.70 L299.0,140.70 L299.5,140.70 L300.0,140.70 L300.5,140.70 L301.0,140.70 L301.5,140.70 L302.0,140.70 L302.5,140.70 L303.0,141.07 L303.5,142.01 L304.0,142.20 L304.5,142.01 L305.0,141.07 L305.5,140.70 L306.0,140.70 L306.5,140.70 L307.0,140.70 L307.5,140.70 L308.0,140.70 L308.5,140.70 L309.0,140.70 L309.5,140.70 L310.0,140.70 L310.5,140.70 L311.0,140.70 L311.5,140.70 L312.0,140.70 L312.5,140.70 L313.0,140.70 L313.5,140.70 L314.0,140.70 L314.5,140.70 L315.0,140.70 L315.5,140.70 L316.0,140.70 L316.5,140.70 L317.0,140.70 L317.5,140.70 L318.0,140.70 L318.5,140.70 L319.0,140.70 L319.5,140.70 L320.0,140.70 L320.5,140.70 L321.0,140.70 L321.5,140.70 L322.0,140.70 L322.5,140.70 L323.0,140.70 L323.5,140.70 L324.0,141.90 L324.5,143.40 L325.0,143.70 L325.5,143.40 L326.0,141.90 L326.5,140.70 L327.0,140.70 L327.5,140.70 L328.0,140.70 L328.5,140.70 L329.0,140.70 L329.5,140.70 L330.0,140.70 L330.5,140.70 L331.0,140.70 L331.5,140.70 L332.0,140.70 L332.5,140.70 L333.0,140.70 L333.5,140.70 L334.0,140.70 L334.5,140.70 L335.0,140.70 L335.5,140.70 L336.0,140.70 L336.5,140.70 L337.0,140.70 L337.5,140.70 L338.0,140.70 L338.5,140.70 L339.0,140.70 L339.5,140.70 L340.0,140.70 L340.5,140.70 L341.0,140.70 L341.5,140.70 L342.0,140.70 L342.5,140.70 L343.0,140.70 L343.5,140.70 L344.0,140.70 L344.5,140.70 L345.0,140.70 L345.5,140.70 L346.0,141.07 L346.5,142.01 L347.0,142.20 L347.5,142.01 L348.0,141.07 L348.5,140.70 L349.0,140.70 L349.5,140.70 L350.0,140.70 L350.5,140.70 L351.0,140.70 L351.5,140.70 L352.0,140.70 L352.5,140.70 L353.0,140.70 L353.5,141.50 L354.0,142.50 L354.5,142.70 L355.0,142.50 L355.5,141.50 L356.0,140.70 L356.5,140.70 L357.0,140.70 L357.5,140.70 L358.0,140.70 L358.5,140.70 L359.0,142.07 L359.5,145.51 L360.0,146.20 L360.5,145.51 L361.0,140.70 L361.5,140.70 L362.0,140.70 L362.5,140.70 L363.0,140.70 L363.5,140.70 L364.0,140.70 L364.5,140.70 L365.0,140.70 L365.5,141.57 L366.0,145.95 L366.5,150.32 L367.0,151.20 L367.5,150.32 L368.0,145.95 L368.5,141.57 L369.0,140.70 L369.5,140.70 L370.0,140.70 L370.5,140.70 L371.0,140.70 L371.5,140.70 L372.0,141.57 L372.5,143.76 L373.0,144.20 L373.5,143.76 L374.0,140.70 L374.5,140.70 L375.0,140.70 L375.5,140.70 L376.0,140.70 L376.5,140.70 L377.0,140.70 L377.5,140.70 L378.0,140.70 L378.5,140.70 L379.0,140.70 L379.5,140.70 L380.0,140.70 L380.5,140.70 L381.0,140.70 L381.5,140.70 L382.0,140.70 L382.5,140.70 L383.0,140.70 L383.5,141.13 L384.0,143.29 L384.5,145.45 L385.0,147.61 L385.5,149.77 L386.0,150.20 L386.5,149.77 L387.0,147.61 L387.5,145.45 L388.0,143.29 L388.5,141.13 L389.0,140.70 L389.5,140.70 L390.0,142.70 L390.5,145.20 L391.0,145.70 L391.5,145.20 L392.0,142.70 L392.5,140.70 L393.0,140.70 L393.5,140.70 L394.0,140.70 L394.5,140.70 L395.0,140.70 L395.5,140.70 L396.0,140.70 L396.5,140.70 L397.0,140.70 L397.5,140.70 L398.0,140.70 L398.5,140.70 L399.0,140.70 L399.5,140.70 L400.0,140.70 L400.5,143.90 L401.0,144.70 L401.5,143.90 L402.0,144.70 L402.5,145.70 L403.0,144.70 L403.5,140.70 L404.0,140.70 L404.5,145.70 L405.0,146.70 L405.5,145.70 L406.0,144.87 L406.5,145.70 L407.0,144.87 L407.5,140.70 L408.0,140.70 L408.5,147.19 L409.0,147.70 L409.5,151.20 L410.0,151.20 L410.5,148.21 L411.0,148.21 L411.5,148.43 L412.0,148.43 L412.5,147.54 L413.0,147.54 L413.5,149.82 L414.0,149.82 L414.5,147.27 L415.0,147.27 L415.5,146.37 L416.0,151.28 L416.5,153.78 L417.0,148.87 L417.5,146.12 L418.0,146.12 L418.5,145.03 L419.0,145.03 L419.5,147.11 L420.0,147.11 L420.5,144.66 L421.0,144.66 L421.5,145.52 L422.0,145.52 L422.5,147.03 L423.0,147.03 L423.5,144.24 L424.0,144.24 L424.5,145.56 L425.0,145.56 L425.5,144.51 L426.0,144.51 L426.5,145.80 L427.0,151.70 L427.5,151.70 L428.0,148.03 L428.5,144.92 L429.0,144.92 L429.5,148.79 L430.0,148.79 L430.5,153.86 L431.0,153.86 L431.5,148.53 L432.0,148.53 L432.5,146.59 L433.0,146.59 L433.5,150.28 L434.0,152.20 L434.5,150.28 L435.0,141.38 L435.5,143.53 L436.0,143.53 L436.5,143.31 L437.0,143.31 L437.5,145.01 L438.0,145.01 L438.5,148.40 L439.0,148.40 L439.5,147.73 L440.0,147.73 L440.5,148.69 L441.0,148.69 L441.5,147.48 L442.0,147.48 L442.5,145.81 L443.0,145.81 L443.5,147.04 L444.0,140.70 L444.5,140.70 L445.0,140.70 L445.5,140.70 L446.0,140.70 L446.5,140.70 L447.0,140.70 L447.5,144.37 L448.0,144.37 L448.5,147.01 L449.0,147.01 L449.5,148.85 L450.0,148.85 L450.5,146.51 L451.0,146.51 L451.5,144.84 L452.0,144.84 L452.5,146.87 L453.0,146.87 L453.5,145.97 L454.0,145.97 L454.5,143.69 L455.0,143.69 L455.5,144.17 L456.0,144.17 L456.5,151.26 L457.0,151.26 L457.5,149.58 L458.0,146.95 L458.5,140.70 L459.0,140.70 L459.5,140.70 L460.0,140.70 L460.5,142.99 L461.0,142.99 L461.5,140.70 L462.0,140.70 L462.5,145.57 L463.0,145.57 L463.5,142.89 L464.0,142.89 L464.5,143.99 L465.0,143.99 L465.5,148.32 L466.0,148.32 L466.5,140.70 L467.0,140.70 L467.5,144.09 L468.0,144.09 L468.5,146.64 L469.0,146.64 L469.5,143.56 L470.0,143.56 L470.5,148.20 L471.0,149.70 L471.5,148.20 L472.0,140.70 L472.5,140.70 L473.0,140.70 L473.5,140.70 L474.0,140.70 L474.5,140.70 L475.0,147.37 L475.5,148.70 L476.0,147.37 L476.5,143.88 L477.0,143.88 L477.5,146.15 L478.0,146.15 L478.5,146.19 L479.0,146.19 L479.5,143.38 L480.0,143.38 L480.5,140.70 L481.0,140.70 L481.5,140.70 L482.0,140.70 L482.5,140.70 L483.0,140.70 L483.5,140.70 L484.0,140.70 L484.5,140.70 L485.0,140.70 L485.5,140.70 L486.0,140.70 L486.5,140.70 L487.0,140.70 L487.5,140.70 L488.0,140.70 L488.5,140.70 L489.0,140.70 L489.5,140.70 L490.0,140.70 L490.5,140.70 L491.0,140.70 L491.5,140.70 L492.0,140.70 L492.5,140.70 L493.0,140.70 L493.5,140.70 L494.0,140.70 L494.5,140.70 L495.0,140.70 L495.5,140.70 L496.0,140.70 L496.5,140.70 L497.0,141.27 L497.5,144.13 L498.0,144.70 L498.5,144.13 L499.0,141.27 L499.5,140.70 L500.0,140.70 L500.5,141.32 L501.0,141.32 L501.5,140.70 L502.0,140.70 L502.5,140.70 L503.0,140.70 L503.5,140.70 L504.0,140.70 L504.5,140.70 L505.0,140.70 L505.5,140.70 L506.0,140.70 L506.5,140.70 L507.0,140.70 L507.5,140.70 L508.0,140.70 L508.5,140.70 L509.0,140.70 L509.5,140.70 L510.0,140.70 L510.5,141.17 L511.0,141.17 L511.5,140.70 L512.0,140.70 L512.5,140.70 L513.0,140.70 L513.5,140.70 L514.0,140.70 L514.5,140.70 L515.0,140.70 L515.5,140.70 L516.0,140.70 L516.5,140.70 L517.0,140.70 L517.5,140.70 L518.0,140.70 L518.5,140.70 L519.0,140.70 L519.5,140.70 L520.0,140.70 L520.5,140.70 L521.0,140.70 L521.5,140.70 L522.0,140.70 L522.5,140.70 L523.0,140.70 L523.5,140.70 L524.0,141.70 L524.5,142.95 L525.0,143.20 L525.5,142.95 L526.0,141.70 L526.5,140.70 L527.0,140.70 L527.5,140.70 L528.0,140.70 L528.5,142.63 L529.0,142.63 L529.5,140.70 L530.0,140.70 L530.5,140.70 L531.0,140.70 L531.5,140.70 L532.0,140.70 L532.5,140.70 L533.0,140.70 L533.5,140.70 L534.0,140.70 L534.5,140.70 L535.0,140.70 L535.5,140.70 L536.0,140.70 L536.5,140.70 L537.0,140.70 L537.5,140.70 L538.0,140.70 L538.5,140.70 L539.0,140.70 L539.5,140.70 L540.0,140.70 L540.5,140.70 L541.0,140.70 L541.5,140.70 L542.0,140.70 L542.5,140.70 L543.0,140.70 L543.5,140.70 L544.0,142.48 L544.5,142.48 L545.0,140.70 L545.5,140.70 L546.0,140.70 L546.5,140.70 L547.0,140.70 L547.5,140.70 L548.0,140.70 L548.5,140.70 L549.0,140.70 L549.5,140.70 L550.0,140.70 L550.5,140.70 L551.0,140.70 L551.5,140.70 L552.0,140.70 L552.5,140.70 L553.0,140.70 L553.5,140.70 L554.0,140.70 L554.5,140.70 L555.0,140.70 L555.5,140.70 L556.0,140.70 L556.5,140.70 L557.0,143.38 L557.5,147.83 L558.0,151.40 L558.5,151.40 L559.0,148.72 L559.5,144.27 L560.0,140.70 L560.5,140.70 L561.0,140.70 L561.5,140.70 L562.0,140.70 L562.5,140.70 L563.0,140.70 L563.5,140.70 L564.0,140.70 L564.5,140.70 L565.0,140.70 L565.5,140.70 L566.0,140.70 L566.5,140.70 L567.0,140.70 L567.5,140.70 L568.0,140.70 L568.5,140.70 L569.0,140.70 L569.5,140.70 L570.0,140.70 L570.5,140.70 L571.0,140.70 L571.5,140.70 L572.0,140.70 L572.5,140.70 L573.0,140.70 L573.5,140.70 L574.0,140.70 L574.5,140.70 L575.0,140.70 L575.5,143.74 L576.0,143.74 L576.5,140.70 L577.0,140.70 L577.5,140.70 L578.0,140.70 L578.5,140.70 L579.0,140.70 L579.5,140.70 L580.0,140.70 L580.5,140.70 L581.0,140.70 L581.5,140.70 L582.0,140.70 L582.5,140.70 L583.0,140.70 L583.5,140.70 L584.0,140.70 L584.5,140.70 L585.0,140.70 L585.5,140.70 L586.0,140.70 L586.5,140.70 L587.0,140.70 L587.5,140.70 L588.0,140.70 L588.5,140.70 L589.0,140.70 L589.5,140.70 L590.0,140.70 L590.5,140.70 L591.0,140.70 L591.5,140.70 L592.0,140.70 L592.5,140.70 L593.0,140.70 L593.5,140.70 L594.0,140.70 L594.5,140.70 L595.0,140.70 L595.5,140.70 L596.0,140.70 L596.5,140.70 L597.0,140.70 L597.5,140.70 L598.0,140.70 L598.5,140.70 L599.0,140.70 L599.5,140.70 L600.0,140.70 L600.5,140.70 L601.0,140.70 L601.5,140.70 L602.0,140.70 L602.5,140.70 L603.0,140.70 L603.5,140.70 L604.0,140.70 L604.5,140.70 L605.0,142.41 L605.5,142.41 L606.0,140.70 L606.5,140.70 L607.0,140.70 L607.5,140.70 L608.0,140.70 L608.5,140.70 L609.0,140.70 L609.5,140.70 L610.0,140.70 L610.5,140.70 L611.0,140.70 L611.5,140.70 L612.0,140.70 L612.5,140.70 L613.0,140.70 L613.5,140.70 L614.0,140.70 L614.5,140.70 L615.0,140.70 L615.5,140.70 L616.0,140.70 L616.5,140.70 L617.0,140.70 L617.5,140.70 L618.0,140.70 L618.5,140.70 L619.0,140.70 L619.5,140.70 L620.0,140.70 L620.5,140.70 L621.0,140.70 L621.5,140.70 L622.0,140.70 L622.5,140.70 L623.0,140.70 L623.5,140.70 L624.0,140.70 L624.5,140.70 L625.0,140.70 L625.5,140.70 L626.0,143.00 L626.5,143.00 L627.0,140.70 L627.5,140.70 L628.0,140.70 L628.5,140.70 L629.0,140.70 L629.5,140.70 L630.0,140.70 L630.5,140.70 L631.0,140.70 L631.5,140.70 L632.0,140.70 L632.5,140.70 L633.0,140.70 L633.5,140.70 L634.0,140.70 L634.5,140.70 L635.0,140.70 L635.5,140.70 L636.0,140.70 L636.5,140.70 L637.0,140.70 L637.5,140.70 L638.0,140.70 L638.5,140.70 L639.0,140.70 L639.5,140.70 L640.0,140.70 L640.5,140.70 L641.0,140.70 L641.5,140.70 L642.0,140.70 L642.5,140.70 L643.0,140.70 L643.5,140.70 L644.0,140.70 L644.5,140.70 L645.0,140.70 L645.5,140.70 L646.0,140.70 L646.5,140.70 L647.0,140.70 L647.5,140.70 L648.0,140.70 L648.5,140.70 L649.0,140.70 L649.5,140.70 L650.0,140.70 L650.5,140.70 L651.0,140.70 L651.5,143.20 L652.0,143.70 L652.5,143.20 L653.0,140.70 L653.5,140.70 L654.0,140.70 L654.5,140.70 L655.0,140.70 L655.5,140.70 L656.0,140.70 L656.5,140.70 L657.0,140.70 L657.5,140.70 L658.0,140.70 L658.5,140.70 L659.0,141.32 L659.5,142.89 L660.0,143.20 L660.5,142.89 L661.0,141.32 L661.5,140.70 L662.0,140.70 L662.5,140.70 L663.0,140.70 L663.5,140.70 L664.0,140.70 L664.5,140.70 L665.0,140.70 L665.5,140.70 L666.0,140.70 L666.5,140.70 L667.0,140.70 L667.5,140.70 L668.0,140.70 L668.5,140.70 L669.0,140.70 L669.5,140.70 L670.0,140.70 L670.5,140.70 L671.0,140.70 L671.5,140.70 L672.0,140.70 L672.5,140.70 L673.0,140.70 L673.5,140.70 L674.0,140.70 L674.5,144.87 L675.0,145.70 L675.5,144.87 L676.0,140.70 L676.5,140.70 L677.0,140.70 L677.5,140.70 L678.0,140.70 L678.5,140.70 L679.0,141.45 L679.5,143.32 L680.0,143.70 L680.5,143.32 L681.0,141.45 L681.5,140.70 L682.0,140.70 L682.5,142.76 L683.0,142.76 L683.5,140.70 L684.0,140.70 L684.5,140.70 L685.0,140.70 L685.0,140.70 Z" fill="#155e98"/>
<path d="M61.9,156.10 H65.3 V192.50 H61.9" fill="none" stroke="#222" stroke-width="1.15"/>
<path d="M70.5,187.30 L70.5,187.30 L71.0,187.30 L71.5,187.30 L72.0,187.30 L72.5,187.30 L73.0,187.30 L73.5,186.62 L74.0,186.62 L74.5,187.30 L75.0,187.30 L75.5,187.30 L76.0,187.30 L76.5,187.30 L77.0,187.30 L77.5,187.30 L78.0,187.30 L78.5,187.30 L79.0,187.30 L79.5,187.30 L80.0,187.30 L80.5,187.30 L81.0,187.30 L81.5,187.30 L82.0,187.30 L82.5,187.30 L83.0,187.30 L83.5,187.30 L84.0,187.30 L84.5,187.30 L85.0,187.30 L85.5,187.30 L86.0,187.30 L86.5,186.42 L87.0,186.42 L87.5,187.30 L88.0,187.30 L88.5,187.30 L89.0,187.30 L89.5,187.30 L90.0,187.30 L90.5,187.30 L91.0,187.30 L91.5,187.30 L92.0,187.30 L92.5,187.30 L93.0,187.30 L93.5,187.30 L94.0,187.30 L94.5,186.91 L95.0,186.91 L95.5,187.30 L96.0,187.30 L96.5,187.30 L97.0,187.30 L97.5,187.30 L98.0,187.30 L98.5,187.30 L99.0,187.30 L99.5,187.30 L100.0,187.30 L100.5,187.30 L101.0,187.30 L101.5,187.30 L102.0,187.30 L102.5,187.30 L103.0,187.30 L103.5,187.30 L104.0,187.30 L104.5,187.30 L105.0,187.30 L105.5,187.30 L106.0,187.30 L106.5,187.30 L107.0,186.05 L107.5,181.05 L108.0,181.05 L108.5,184.80 L109.0,185.71 L109.5,187.30 L110.0,187.30 L110.5,179.89 L111.0,179.89 L111.5,177.54 L112.0,177.54 L112.5,175.84 L113.0,175.84 L113.5,174.10 L114.0,174.10 L114.5,175.50 L115.0,175.50 L115.5,175.03 L116.0,175.03 L116.5,178.86 L117.0,178.86 L117.5,176.94 L118.0,176.94 L118.5,178.57 L119.0,187.30 L119.5,187.30 L120.0,187.30 L120.5,187.30 L121.0,187.30 L121.5,187.30 L122.0,187.30 L122.5,187.30 L123.0,187.30 L123.5,187.30 L124.0,187.30 L124.5,187.30 L125.0,187.30 L125.5,187.30 L126.0,187.30 L126.5,187.30 L127.0,187.30 L127.5,186.83 L128.0,186.83 L128.5,187.30 L129.0,187.30 L129.5,187.30 L130.0,187.30 L130.5,187.30 L131.0,187.30 L131.5,187.30 L132.0,187.30 L132.5,187.30 L133.0,187.30 L133.5,187.30 L134.0,187.30 L134.5,187.30 L135.0,187.30 L135.5,187.30 L136.0,187.30 L136.5,187.30 L137.0,187.30 L137.5,187.30 L138.0,187.30 L138.5,186.86 L139.0,186.86 L139.5,187.30 L140.0,187.30 L140.5,187.30 L141.0,187.30 L141.5,187.30 L142.0,187.30 L142.5,187.30 L143.0,187.30 L143.5,186.63 L144.0,185.97 L144.5,185.30 L145.0,185.30 L145.5,185.30 L146.0,185.97 L146.5,186.63 L147.0,187.30 L147.5,187.30 L148.0,187.30 L148.5,187.30 L149.0,183.05 L149.5,170.27 L150.0,170.27 L150.5,167.71 L151.0,167.71 L151.5,170.75 L152.0,170.75 L152.5,175.13 L153.0,185.00 L153.5,187.30 L154.0,187.30 L154.5,186.52 L155.0,186.52 L155.5,187.30 L156.0,187.30 L156.5,187.30 L157.0,187.30 L157.5,187.30 L158.0,187.30 L158.5,187.30 L159.0,187.30 L159.5,187.30 L160.0,187.30 L160.5,187.30 L161.0,187.30 L161.5,187.30 L162.0,187.30 L162.5,187.30 L163.0,187.30 L163.5,187.30 L164.0,187.30 L164.5,187.30 L165.0,187.30 L165.5,187.30 L166.0,187.30 L166.5,187.30 L167.0,187.30 L167.5,187.30 L168.0,187.30 L168.5,187.30 L169.0,187.30 L169.5,179.87 L170.0,179.87 L170.5,179.04 L171.0,179.04 L171.5,175.46 L172.0,175.46 L172.5,175.93 L173.0,175.93 L173.5,175.79 L174.0,175.79 L174.5,176.36 L175.0,176.36 L175.5,176.31 L176.0,176.31 L176.5,178.09 L177.0,178.09 L177.5,177.01 L178.0,177.01 L178.5,176.81 L179.0,176.81 L179.5,178.07 L180.0,178.07 L180.5,178.43 L181.0,178.43 L181.5,179.48 L182.0,187.30 L182.5,187.30 L183.0,187.30 L183.5,187.30 L184.0,187.30 L184.5,187.30 L185.0,187.30 L185.5,186.90 L186.0,186.90 L186.5,187.30 L187.0,187.30 L187.5,187.30 L188.0,187.30 L188.5,186.77 L189.0,185.43 L189.5,184.10 L190.0,184.10 L190.5,184.10 L191.0,185.43 L191.5,186.77 L192.0,187.30 L192.5,187.30 L193.0,187.30 L193.5,187.30 L194.0,187.30 L194.5,187.30 L195.0,187.30 L195.5,186.57 L196.0,186.57 L196.5,187.30 L197.0,187.30 L197.5,187.30 L198.0,187.30 L198.5,176.94 L199.0,176.94 L199.5,177.58 L200.0,177.58 L200.5,177.00 L201.0,177.00 L201.5,177.07 L202.0,177.07 L202.5,187.30 L203.0,187.30 L203.5,187.30 L204.0,187.30 L204.5,187.30 L205.0,187.30 L205.5,187.30 L206.0,187.30 L206.5,187.30 L207.0,187.30 L207.5,187.30 L208.0,187.30 L208.5,187.30 L209.0,187.30 L209.5,187.30 L210.0,187.30 L210.5,187.30 L211.0,187.30 L211.5,187.30 L212.0,187.30 L212.5,187.30 L213.0,187.30 L213.5,185.98 L214.0,185.98 L214.5,174.92 L215.0,174.92 L215.5,163.69 L216.0,163.69 L216.5,162.81 L217.0,162.81 L217.5,162.93 L218.0,162.93 L218.5,163.82 L219.0,163.82 L219.5,165.07 L220.0,165.07 L220.5,166.59 L221.0,166.59 L221.5,168.50 L222.0,168.50 L222.5,168.98 L223.0,168.98 L223.5,170.39 L224.0,170.39 L224.5,168.95 L225.0,168.95 L225.5,168.40 L226.0,168.40 L226.5,168.81 L227.0,168.81 L227.5,170.63 L228.0,170.63 L228.5,169.45 L229.0,169.45 L229.5,166.18 L230.0,166.18 L230.5,162.92 L231.0,162.92 L231.5,164.44 L232.0,164.44 L232.5,180.44 L233.0,187.30 L233.5,187.30 L234.0,187.30 L234.5,187.30 L235.0,187.30 L235.5,184.24 L236.0,184.24 L236.5,184.76 L237.0,184.76 L237.5,187.30 L238.0,187.30 L238.5,170.17 L239.0,170.17 L239.5,169.46 L240.0,169.46 L240.5,187.30 L241.0,186.34 L241.5,187.30 L242.0,187.30 L242.5,187.30 L243.0,187.30 L243.5,187.30 L244.0,187.30 L244.5,187.30 L245.0,187.30 L245.5,187.30 L246.0,187.30 L246.5,187.30 L247.0,186.48 L247.5,185.10 L248.0,185.10 L248.5,185.10 L249.0,186.48 L249.5,183.54 L250.0,183.54 L250.5,187.30 L251.0,187.30 L251.5,187.30 L252.0,187.30 L252.5,187.30 L253.0,187.30 L253.5,187.30 L254.0,187.30 L254.5,187.30 L255.0,187.30 L255.5,187.30 L256.0,187.30 L256.5,187.30 L257.0,187.30 L257.5,187.30 L258.0,187.30 L258.5,187.30 L259.0,187.30 L259.5,187.30 L260.0,187.30 L260.5,187.30 L261.0,187.30 L261.5,187.30 L262.0,187.30 L262.5,187.30 L263.0,187.30 L263.5,185.13 L264.0,185.13 L264.5,184.11 L265.0,184.11 L265.5,186.77 L266.0,185.43 L266.5,184.10 L267.0,184.10 L267.5,184.10 L268.0,185.43 L268.5,186.77 L269.0,187.30 L269.5,187.30 L270.0,187.30 L270.5,187.30 L271.0,187.30 L271.5,185.40 L272.0,185.40 L272.5,187.30 L273.0,187.30 L273.5,187.30 L274.0,187.30 L274.5,187.30 L275.0,187.30 L275.5,187.30 L276.0,187.30 L276.5,187.30 L277.0,187.30 L277.5,187.30 L278.0,187.30 L278.5,187.30 L279.0,187.30 L279.5,187.30 L280.0,187.30 L280.5,187.30 L281.0,187.30 L281.5,187.30 L282.0,187.30 L282.5,187.30 L283.0,187.30 L283.5,186.86 L284.0,186.86 L284.5,187.30 L285.0,187.30 L285.5,187.30 L286.0,187.30 L286.5,187.30 L287.0,187.30 L287.5,186.63 L288.0,186.63 L288.5,187.30 L289.0,187.30 L289.5,187.30 L290.0,187.30 L290.5,187.30 L291.0,187.30 L291.5,187.30 L292.0,187.30 L292.5,187.30 L293.0,187.30 L293.5,186.07 L294.0,186.07 L294.5,187.30 L295.0,187.30 L295.5,187.30 L296.0,187.30 L296.5,187.30 L297.0,187.30 L297.5,187.30 L298.0,187.30 L298.5,187.30 L299.0,187.30 L299.5,187.30 L300.0,187.30 L300.5,187.30 L301.0,187.30 L301.5,187.30 L302.0,187.30 L302.5,187.30 L303.0,187.30 L303.5,187.30 L304.0,187.30 L304.5,187.30 L305.0,187.30 L305.5,187.30 L306.0,187.30 L306.5,187.30 L307.0,187.30 L307.5,187.30 L308.0,187.30 L308.5,185.40 L309.0,185.40 L309.5,187.30 L310.0,187.30 L310.5,187.30 L311.0,187.30 L311.5,187.30 L312.0,183.53 L312.5,183.53 L313.0,187.30 L313.5,187.30 L314.0,187.30 L314.5,187.30 L315.0,187.30 L315.5,187.30 L316.0,187.30 L316.5,186.18 L317.0,186.18 L317.5,183.80 L318.0,183.80 L318.5,187.30 L319.0,187.30 L319.5,187.30 L320.0,187.30 L320.5,187.30 L321.0,187.30 L321.5,187.30 L322.0,187.30 L322.5,187.30 L323.0,187.30 L323.5,187.30 L324.0,187.30 L324.5,187.30 L325.0,187.30 L325.5,184.82 L326.0,184.82 L326.5,187.30 L327.0,187.30 L327.5,187.30 L328.0,187.30 L328.5,186.11 L329.0,186.11 L329.5,182.22 L330.0,182.22 L330.5,185.60 L331.0,185.60 L331.5,187.30 L332.0,187.30 L332.5,187.30 L333.0,187.30 L333.5,187.30 L334.0,187.30 L334.5,187.30 L335.0,187.30 L335.5,187.30 L336.0,187.30 L336.5,187.30 L337.0,187.30 L337.5,186.09 L338.0,186.09 L338.5,187.30 L339.0,187.30 L339.5,187.30 L340.0,187.30 L340.5,187.30 L341.0,187.30 L341.5,179.39 L342.0,179.39 L342.5,176.53 L343.0,176.53 L343.5,177.83 L344.0,177.83 L344.5,177.83 L345.0,177.83 L345.5,176.63 L346.0,176.63 L346.5,176.84 L347.0,176.84 L347.5,178.86 L348.0,178.86 L348.5,177.70 L349.0,177.70 L349.5,187.30 L350.0,187.30 L350.5,187.30 L351.0,187.30 L351.5,187.30 L352.0,187.30 L352.5,187.30 L353.0,187.30 L353.5,187.30 L354.0,187.30 L354.5,187.30 L355.0,187.30 L355.5,187.30 L356.0,187.30 L356.5,185.09 L357.0,185.09 L357.5,187.30 L358.0,187.30 L358.5,187.30 L359.0,187.30 L359.5,187.30 L360.0,187.30 L360.5,187.30 L361.0,187.30 L361.5,187.30 L362.0,187.30 L362.5,187.30 L363.0,187.30 L363.5,187.30 L364.0,187.30 L364.5,187.30 L365.0,187.30 L365.5,187.30 L366.0,185.01 L366.5,178.95 L367.0,178.95 L367.5,176.49 L368.0,176.49 L368.5,176.09 L369.0,176.09 L369.5,175.92 L370.0,175.92 L370.5,178.24 L371.0,178.24 L371.5,183.14 L372.0,187.30 L372.5,187.30 L373.0,187.30 L373.5,187.30 L374.0,187.30 L374.5,187.30 L375.0,187.30 L375.5,187.30 L376.0,187.30 L376.5,187.30 L377.0,187.30 L377.5,187.30 L378.0,187.30 L378.5,187.30 L379.0,187.30 L379.5,187.30 L380.0,187.30 L380.5,187.30 L381.0,187.30 L381.5,187.30 L382.0,187.30 L382.5,187.30 L383.0,187.30 L383.5,187.30 L384.0,187.30 L384.5,187.30 L385.0,187.30 L385.5,187.30 L386.0,167.30 L386.5,168.12 L387.0,168.12 L387.5,167.73 L388.0,167.73 L388.5,165.71 L389.0,165.71 L389.5,167.39 L390.0,167.39 L390.5,166.61 L391.0,166.61 L391.5,167.43 L392.0,167.43 L392.5,167.01 L393.0,167.01 L393.5,166.62 L394.0,166.62 L394.5,167.30 L395.0,167.30 L395.5,166.62 L396.0,166.62 L396.5,165.39 L397.0,165.39 L397.5,174.14 L398.0,186.63 L398.5,186.55 L399.0,186.55 L399.5,186.94 L400.0,186.94 L400.5,186.28 L401.0,186.28 L401.5,187.30 L402.0,187.30 L402.5,185.44 L403.0,185.44 L403.5,187.30 L404.0,187.30 L404.5,187.30 L405.0,187.30 L405.5,187.30 L406.0,187.30 L406.5,187.30 L407.0,186.47 L407.5,187.30 L408.0,187.30 L408.5,187.30 L409.0,187.30 L409.5,187.30 L410.0,187.30 L410.5,187.30 L411.0,187.30 L411.5,185.98 L412.0,185.98 L412.5,187.30 L413.0,187.30 L413.5,187.30 L414.0,187.30 L414.5,187.30 L415.0,185.91 L415.5,184.04 L416.0,184.04 L416.5,186.19 L417.0,186.19 L417.5,187.30 L418.0,187.30 L418.5,187.30 L419.0,187.30 L419.5,187.30 L420.0,187.30 L420.5,187.30 L421.0,187.30 L421.5,187.30 L422.0,187.30 L422.5,187.30 L423.0,187.30 L423.5,187.30 L424.0,187.30 L424.5,187.30 L425.0,187.30 L425.5,186.26 L426.0,186.26 L426.5,187.30 L427.0,187.30 L427.5,187.30 L428.0,187.30 L428.5,187.30 L429.0,187.30 L429.5,187.30 L430.0,187.30 L430.5,187.30 L431.0,187.30 L431.5,187.30 L432.0,187.30 L432.5,187.30 L433.0,187.30 L433.5,186.70 L434.0,186.70 L434.5,187.30 L435.0,187.30 L435.5,187.30 L436.0,184.56 L436.5,184.56 L437.0,187.30 L437.5,184.86 L438.0,184.86 L438.5,185.79 L439.0,185.79 L439.5,187.30 L440.0,187.30 L440.5,187.30 L441.0,187.30 L441.5,187.30 L442.0,187.30 L442.5,187.30 L443.0,187.30 L443.5,187.30 L444.0,187.30 L444.5,187.30 L445.0,187.30 L445.5,187.30 L446.0,187.30 L446.5,186.62 L447.0,186.62 L447.5,187.30 L448.0,187.30 L448.5,187.30 L449.0,187.30 L449.5,187.30 L450.0,187.30 L450.5,186.68 L451.0,186.68 L451.5,187.30 L452.0,187.30 L452.5,187.30 L453.0,187.30 L453.5,187.30 L454.0,187.30 L454.5,187.30 L455.0,187.30 L455.5,187.30 L456.0,187.30 L456.5,186.77 L457.0,186.77 L457.5,186.84 L458.0,186.84 L458.5,187.30 L459.0,187.30 L459.5,187.30 L460.0,187.30 L460.5,187.30 L461.0,187.30 L461.5,187.30 L462.0,187.30 L462.5,185.14 L463.0,185.14 L463.5,184.82 L464.0,184.82 L464.5,187.30 L465.0,187.30 L465.5,187.30 L466.0,187.30 L466.5,187.30 L467.0,187.30 L467.5,187.30 L468.0,187.30 L468.5,187.30 L469.0,187.30 L469.5,187.30 L470.0,187.30 L470.5,187.30 L471.0,187.30 L471.5,187.30 L472.0,187.30 L472.5,187.30 L473.0,187.30 L473.5,187.30 L474.0,187.30 L474.5,187.30 L475.0,187.30 L475.5,185.58 L476.0,185.58 L476.5,185.41 L477.0,185.41 L477.5,187.30 L478.0,187.30 L478.5,187.30 L479.0,187.30 L479.5,187.30 L480.0,187.30 L480.5,187.30 L481.0,187.30 L481.5,187.30 L482.0,187.30 L482.5,185.78 L483.0,185.78 L483.5,187.30 L484.0,187.30 L484.5,186.34 L485.0,186.34 L485.5,187.30 L486.0,187.30 L486.5,187.30 L487.0,187.30 L487.5,186.55 L488.0,186.55 L488.5,187.30 L489.0,187.30 L489.5,187.30 L490.0,187.30 L490.5,183.85 L491.0,183.85 L491.5,184.40 L492.0,184.40 L492.5,186.91 L493.0,186.91 L493.5,185.39 L494.0,185.39 L494.5,187.30 L495.0,187.30 L495.5,187.30 L496.0,187.30 L496.5,187.30 L497.0,187.30 L497.5,187.30 L498.0,187.30 L498.5,187.30 L499.0,187.30 L499.5,187.30 L500.0,187.30 L500.5,187.30 L501.0,187.30 L501.5,187.30 L502.0,187.30 L502.5,187.30 L503.0,187.30 L503.5,187.30 L504.0,187.30 L504.5,186.50 L505.0,186.50 L505.5,187.30 L506.0,187.30 L506.5,187.30 L507.0,187.30 L507.5,187.30 L508.0,187.30 L508.5,187.30 L509.0,187.30 L509.5,187.30 L510.0,187.30 L510.5,187.30 L511.0,187.30 L511.5,187.30 L512.0,187.30 L512.5,187.30 L513.0,187.30 L513.5,187.30 L514.0,187.30 L514.5,187.30 L515.0,187.30 L515.5,186.93 L516.0,186.93 L516.5,186.51 L517.0,186.51 L517.5,187.30 L518.0,187.30 L518.5,187.30 L519.0,187.30 L519.5,187.30 L520.0,187.30 L520.5,187.30 L521.0,187.30 L521.5,187.30 L522.0,187.30 L522.5,186.84 L523.0,186.84 L523.5,187.30 L524.0,187.30 L524.5,187.30 L525.0,187.30 L525.5,184.59 L526.0,184.59 L526.5,187.30 L527.0,187.30 L527.5,187.30 L528.0,187.30 L528.5,187.30 L529.0,187.30 L529.5,187.30 L530.0,187.30 L530.5,187.30 L531.0,187.30 L531.5,186.32 L532.0,186.32 L532.5,187.30 L533.0,187.30 L533.5,187.30 L534.0,187.30 L534.5,186.95 L535.0,186.95 L535.5,187.30 L536.0,187.30 L536.5,187.30 L537.0,187.30 L537.5,187.30 L538.0,187.30 L538.5,187.30 L539.0,187.30 L539.5,187.30 L540.0,187.30 L540.5,187.30 L541.0,187.30 L541.5,187.30 L542.0,187.30 L542.5,187.30 L543.0,187.30 L543.5,187.30 L544.0,187.30 L544.5,187.30 L545.0,187.30 L545.5,187.30 L546.0,187.30 L546.5,187.30 L547.0,187.30 L547.5,184.26 L548.0,184.26 L548.5,183.58 L549.0,183.58 L549.5,187.30 L550.0,187.30 L550.5,187.30 L551.0,185.47 L551.5,185.47 L552.0,187.30 L552.5,187.30 L553.0,187.30 L553.5,187.30 L554.0,187.30 L554.5,187.30 L555.0,185.80 L555.5,184.30 L556.0,184.30 L556.5,184.30 L557.0,187.30 L557.5,187.30 L558.0,187.30 L558.5,187.30 L559.0,187.30 L559.5,187.30 L560.0,187.30 L560.5,186.26 L561.0,186.26 L561.5,187.30 L562.0,187.30 L562.5,187.30 L563.0,187.30 L563.5,187.30 L564.0,187.30 L564.5,187.30 L565.0,187.30 L565.5,187.30 L566.0,187.30 L566.5,187.30 L567.0,187.30 L567.5,187.30 L568.0,187.30 L568.5,187.30 L569.0,187.30 L569.5,187.30 L570.0,186.30 L570.5,183.80 L571.0,181.30 L571.5,174.84 L572.0,174.84 L572.5,167.19 L573.0,167.19 L573.5,176.10 L574.0,176.10 L574.5,183.44 L575.0,184.30 L575.5,185.80 L576.0,187.30 L576.5,187.30 L577.0,187.30 L577.5,187.30 L578.0,187.30 L578.5,187.30 L579.0,187.30 L579.5,187.30 L580.0,187.30 L580.5,187.30 L581.0,187.30 L581.5,187.30 L582.0,187.30 L582.5,187.30 L583.0,187.30 L583.5,187.30 L584.0,187.30 L584.5,187.30 L585.0,187.30 L585.5,187.30 L586.0,187.30 L586.5,187.30 L587.0,187.30 L587.5,186.02 L588.0,186.02 L588.5,187.30 L589.0,187.30 L589.5,187.30 L590.0,187.30 L590.5,186.45 L591.0,186.45 L591.5,187.30 L592.0,187.30 L592.5,187.30 L593.0,182.80 L593.5,177.49 L594.0,177.49 L594.5,175.77 L595.0,175.77 L595.5,174.51 L596.0,174.51 L596.5,183.43 L597.0,187.30 L597.5,187.30 L598.0,187.30 L598.5,187.30 L599.0,187.30 L599.5,187.30 L600.0,187.30 L600.5,187.30 L601.0,187.30 L601.5,187.30 L602.0,187.30 L602.5,187.30 L603.0,187.30 L603.5,187.30 L604.0,187.30 L604.5,187.30 L605.0,187.30 L605.5,187.30 L606.0,187.30 L606.5,186.38 L607.0,186.38 L607.5,187.30 L608.0,187.30 L608.5,186.58 L609.0,186.58 L609.5,185.45 L610.0,185.45 L610.5,187.30 L611.0,187.30 L611.5,187.30 L612.0,187.30 L612.5,187.30 L613.0,187.30 L613.5,187.30 L614.0,187.30 L614.5,187.30 L615.0,187.30 L615.5,187.30 L616.0,187.30 L616.5,187.30 L617.0,187.30 L617.5,187.30 L618.0,187.30 L618.5,187.30 L619.0,187.30 L619.5,187.30 L620.0,187.30 L620.5,187.30 L621.0,187.30 L621.5,187.30 L622.0,187.30 L622.5,187.30 L623.0,187.30 L623.5,187.30 L624.0,187.30 L624.5,187.30 L625.0,187.30 L625.5,187.30 L626.0,187.30 L626.5,187.30 L627.0,187.30 L627.5,187.30 L628.0,187.30 L628.5,184.97 L629.0,184.97 L629.5,187.30 L630.0,187.30 L630.5,186.91 L631.0,186.51 L631.5,186.12 L632.0,185.72 L632.5,185.33 L633.0,184.93 L633.5,184.54 L634.0,184.05 L634.5,183.42 L635.0,182.80 L635.5,181.18 L636.0,181.18 L636.5,180.63 L637.0,180.63 L637.5,179.31 L638.0,179.31 L638.5,177.19 L639.0,177.19 L639.5,177.19 L640.0,177.19 L640.5,175.98 L641.0,187.30 L641.5,187.30 L642.0,187.30 L642.5,182.82 L643.0,182.82 L643.5,168.73 L644.0,168.73 L644.5,170.07 L645.0,170.07 L645.5,168.91 L646.0,168.91 L646.5,169.91 L647.0,169.91 L647.5,169.48 L648.0,187.30 L648.5,187.30 L649.0,187.30 L649.5,187.30 L650.0,186.05 L650.5,184.80 L651.0,184.80 L651.5,184.80 L652.0,186.05 L652.5,187.30 L653.0,187.30 L653.5,187.30 L654.0,187.30 L654.5,187.30 L655.0,187.30 L655.5,187.30 L656.0,187.30 L656.5,187.30 L657.0,187.30 L657.5,187.30 L658.0,187.30 L658.5,186.69 L659.0,186.69 L659.5,186.25 L660.0,186.25 L660.5,186.01 L661.0,186.01 L661.5,187.30 L662.0,187.30 L662.5,187.30 L663.0,187.30 L663.5,187.30 L664.0,187.30 L664.5,187.30 L665.0,187.30 L665.5,187.30 L666.0,187.30 L666.5,187.30 L667.0,187.30 L667.5,187.30 L668.0,187.30 L668.5,184.81 L669.0,184.81 L669.5,185.99 L670.0,185.99 L670.5,187.30 L671.0,187.30 L671.5,187.30 L672.0,187.30 L672.5,187.30 L673.0,186.68 L673.5,183.55 L674.0,182.30 L674.5,182.30 L675.0,184.17 L675.5,187.30 L676.0,187.30 L676.5,187.30 L677.0,187.30 L677.5,183.69 L678.0,183.69 L678.5,187.30 L679.0,187.30 L679.5,187.30 L680.0,187.30 L680.5,187.30 L681.0,187.30 L681.5,187.30 L682.0,187.30 L682.5,187.30 L683.0,187.30 L683.5,187.30 L684.0,187.30 L684.5,187.30 L685.0,187.30 L685.0,187.30 Z" fill="#cd5c5c"/>
<path d="M70.5,187.30 L70.5,189.34 L71.0,189.34 L71.5,190.05 L72.0,190.05 L72.5,187.30 L73.0,187.30 L73.5,187.30 L74.0,187.30 L74.5,189.55 L75.0,189.55 L75.5,191.09 L76.0,191.09 L76.5,188.99 L77.0,188.99 L77.5,188.07 L78.0,188.07 L78.5,187.73 L79.0,187.73 L79.5,189.27 L80.0,189.27 L80.5,190.54 L81.0,190.54 L81.5,192.80 L82.0,193.30 L82.5,192.80 L83.0,190.30 L83.5,192.03 L84.0,192.03 L84.5,191.02 L85.0,191.02 L85.5,190.23 L86.0,190.23 L86.5,187.30 L87.0,187.30 L87.5,190.86 L88.0,190.86 L88.5,187.71 L89.0,187.71 L89.5,187.30 L90.0,187.30 L90.5,191.65 L91.0,191.65 L91.5,191.31 L92.0,191.31 L92.5,188.76 L93.0,188.76 L93.5,189.01 L94.0,189.01 L94.5,187.30 L95.0,187.30 L95.5,189.60 L96.0,189.60 L96.5,190.84 L97.0,190.84 L97.5,188.34 L98.0,188.34 L98.5,190.51 L99.0,190.51 L99.5,190.65 L100.0,190.65 L100.5,191.29 L101.0,191.29 L101.5,190.20 L102.0,190.20 L102.5,188.54 L103.0,188.54 L103.5,188.22 L104.0,188.22 L104.5,189.33 L105.0,189.33 L105.5,189.31 L106.0,189.31 L106.5,187.30 L107.0,187.30 L107.5,187.30 L108.0,187.30 L108.5,187.30 L109.0,187.30 L109.5,187.30 L110.0,187.30 L110.5,187.30 L111.0,187.30 L111.5,187.30 L112.0,187.30 L112.5,187.30 L113.0,187.30 L113.5,187.30 L114.0,187.30 L114.5,187.30 L115.0,187.30 L115.5,187.30 L116.0,187.30 L116.5,187.30 L117.0,187.30 L117.5,187.30 L118.0,187.30 L118.5,187.30 L119.0,187.30 L119.5,188.88 L120.0,188.88 L120.5,189.35 L121.0,189.35 L121.5,187.30 L122.0,187.30 L122.5,188.76 L123.0,188.76 L123.5,188.11 L124.0,188.11 L124.5,189.48 L125.0,189.48 L125.5,187.30 L126.0,187.30 L126.5,188.23 L127.0,188.23 L127.5,187.30 L128.0,187.30 L128.5,188.51 L129.0,188.51 L129.5,187.30 L130.0,187.30 L130.5,188.73 L131.0,188.73 L131.5,187.30 L132.0,187.30 L132.5,188.56 L133.0,193.47 L133.5,192.75 L134.0,187.84 L134.5,187.74 L135.0,187.74 L135.5,188.82 L136.0,188.82 L136.5,188.24 L137.0,188.24 L137.5,188.25 L138.0,188.25 L138.5,187.30 L139.0,187.30 L139.5,187.30 L140.0,187.30 L140.5,187.30 L141.0,187.30 L141.5,188.78 L142.0,188.78 L142.5,190.12 L143.0,187.30 L143.5,187.30 L144.0,187.30 L144.5,187.30 L145.0,187.30 L145.5,187.30 L146.0,187.30 L146.5,187.30 L147.0,187.30 L147.5,188.80 L148.0,188.80 L148.5,191.12 L149.0,187.30 L149.5,187.30 L150.0,187.30 L150.5,187.30 L151.0,187.30 L151.5,187.30 L152.0,187.30 L152.5,187.30 L153.0,187.30 L153.5,188.42 L154.0,188.42 L154.5,187.30 L155.0,187.30 L155.5,188.19 L156.0,188.19 L156.5,191.00 L157.0,191.00 L157.5,189.95 L158.0,189.95 L158.5,189.61 L159.0,189.61 L159.5,189.05 L160.0,189.05 L160.5,188.62 L161.0,188.62 L161.5,188.28 L162.0,188.28 L162.5,187.89 L163.0,187.89 L163.5,188.63 L164.0,194.04 L164.5,195.51 L165.0,190.10 L165.5,187.30 L166.0,187.30 L166.5,191.42 L167.0,191.42 L167.5,189.03 L168.0,189.03 L168.5,190.98 L169.0,187.30 L169.5,187.30 L170.0,187.30 L170.5,187.30 L171.0,187.30 L171.5,187.30 L172.0,187.30 L172.5,187.30 L173.0,187.30 L173.5,187.30 L174.0,187.30 L174.5,187.30 L175.0,187.30 L175.5,187.30 L176.0,187.30 L176.5,187.30 L177.0,187.30 L177.5,187.30 L178.0,187.30 L178.5,187.30 L179.0,187.30 L179.5,187.30 L180.0,187.30 L180.5,187.30 L181.0,187.30 L181.5,187.30 L182.0,187.30 L182.5,188.37 L183.0,188.37 L183.5,190.19 L184.0,190.19 L184.5,191.51 L185.0,191.51 L185.5,187.30 L186.0,187.30 L186.5,188.27 L187.0,188.27 L187.5,190.92 L188.0,190.92 L188.5,187.30 L189.0,187.30 L189.5,187.30 L190.0,187.30 L190.5,187.30 L191.0,187.30 L191.5,187.30 L192.0,191.98 L192.5,189.89 L193.0,189.89 L193.5,188.83 L194.0,188.83 L194.5,190.40 L195.0,190.40 L195.5,187.30 L196.0,187.30 L196.5,190.30 L197.0,190.30 L197.5,190.94 L198.0,190.94 L198.5,187.30 L199.0,187.30 L199.5,187.30 L200.0,187.30 L200.5,187.30 L201.0,187.30 L201.5,187.30 L202.0,187.30 L202.5,189.30 L203.0,189.30 L203.5,189.86 L204.0,189.86 L204.5,188.44 L205.0,188.44 L205.5,188.75 L206.0,188.75 L206.5,188.04 L207.0,188.04 L207.5,190.89 L208.0,190.89 L208.5,190.20 L209.0,190.20 L209.5,192.45 L210.0,192.45 L210.5,187.83 L211.0,187.83 L211.5,189.37 L212.0,189.37 L212.5,188.49 L213.0,188.49 L213.5,187.30 L214.0,187.30 L214.5,187.30 L215.0,187.30 L215.5,187.30 L216.0,187.30 L216.5,187.30 L217.0,187.30 L217.5,187.30 L218.0,187.30 L218.5,187.30 L219.0,187.30 L219.5,187.30 L220.0,187.30 L220.5,187.30 L221.0,187.30 L221.5,187.30 L222.0,187.30 L222.5,187.30 L223.0,187.30 L223.5,187.30 L224.0,187.30 L224.5,187.30 L225.0,187.30 L225.5,187.30 L226.0,187.30 L226.5,187.30 L227.0,187.30 L227.5,187.30 L228.0,187.30 L228.5,187.30 L229.0,187.30 L229.5,187.30 L230.0,187.30 L230.5,187.30 L231.0,187.30 L231.5,187.30 L232.0,187.30 L232.5,187.30 L233.0,190.13 L233.5,192.13 L234.0,192.13 L234.5,189.62 L235.0,189.62 L235.5,187.30 L236.0,187.30 L236.5,187.30 L237.0,187.30 L237.5,190.15 L238.0,187.30 L238.5,187.30 L239.0,187.30 L239.5,187.30 L240.0,187.30 L240.5,187.30 L241.0,187.30 L241.5,188.14 L242.0,188.14 L242.5,189.86 L243.0,189.86 L243.5,187.30 L244.0,187.30 L244.5,189.79 L245.0,189.79 L245.5,188.10 L246.0,188.10 L246.5,190.26 L247.0,187.30 L247.5,187.30 L248.0,187.30 L248.5,187.30 L249.0,187.30 L249.5,187.30 L250.0,187.30 L250.5,189.34 L251.0,189.34 L251.5,194.12 L252.0,194.12 L252.5,192.25 L253.0,196.77 L253.5,192.62 L254.0,188.10 L254.5,192.21 L255.0,192.21 L255.5,190.21 L256.0,190.21 L256.5,190.53 L257.0,190.53 L257.5,188.25 L258.0,188.25 L258.5,188.20 L259.0,188.20 L259.5,188.33 L260.0,188.93 L260.5,192.99 L261.0,193.80 L261.5,192.99 L262.0,188.93 L262.5,190.27 L263.0,190.27 L263.5,187.30 L264.0,187.30 L264.5,187.30 L265.0,187.30 L265.5,187.30 L266.0,187.30 L266.5,187.30 L267.0,187.30 L267.5,187.30 L268.0,187.30 L268.5,187.30 L269.0,191.71 L269.5,192.99 L270.0,193.80 L270.5,192.99 L271.0,188.93 L271.5,187.30 L272.0,187.30 L272.5,191.50 L273.0,191.50 L273.5,187.99 L274.0,187.99 L274.5,187.30 L275.0,187.30 L275.5,187.99 L276.0,187.99 L276.5,191.85 L277.0,191.85 L277.5,190.21 L278.0,190.21 L278.5,190.37 L279.0,190.37 L279.5,187.85 L280.0,191.62 L280.5,194.24 L281.0,190.47 L281.5,190.28 L282.0,190.28 L282.5,187.30 L283.0,187.30 L283.5,187.30 L284.0,187.30 L284.5,191.28 L285.0,191.28 L285.5,191.41 L286.0,191.41 L286.5,187.30 L287.0,187.30 L287.5,187.30 L288.0,187.30 L288.5,191.31 L289.0,191.31 L289.5,192.99 L290.0,193.80 L290.5,192.99 L291.0,189.15 L291.5,188.78 L292.0,188.78 L292.5,189.69 L293.0,189.69 L293.5,187.30 L294.0,187.30 L294.5,189.11 L295.0,189.11 L295.5,188.02 L296.0,188.02 L296.5,189.61 L297.0,189.61 L297.5,189.47 L298.0,189.47 L298.5,190.32 L299.0,190.32 L299.5,191.55 L300.0,191.55 L300.5,189.41 L301.0,189.41 L301.5,189.84 L302.0,189.84 L302.5,189.78 L303.0,189.78 L303.5,193.30 L304.0,193.30 L304.5,189.46 L305.0,189.46 L305.5,194.79 L306.0,194.79 L306.5,188.74 L307.0,188.74 L307.5,190.09 L308.0,190.09 L308.5,187.30 L309.0,187.30 L309.5,187.67 L310.0,187.67 L310.5,189.51 L311.0,189.51 L311.5,192.09 L312.0,187.30 L312.5,187.30 L313.0,190.48 L313.5,188.90 L314.0,188.90 L314.5,187.30 L315.0,187.30 L315.5,189.36 L316.0,189.36 L316.5,187.30 L317.0,187.30 L317.5,187.30 L318.0,187.30 L318.5,187.89 L319.0,187.89 L319.5,187.83 L320.0,187.83 L320.5,190.98 L321.0,190.98 L321.5,190.43 L322.0,190.43 L322.5,190.22 L323.0,190.22 L323.5,187.88 L324.0,187.88 L324.5,188.27 L325.0,188.27 L325.5,187.30 L326.0,187.30 L326.5,189.25 L327.0,189.25 L327.5,191.12 L328.0,191.12 L328.5,187.30 L329.0,187.30 L329.5,187.30 L330.0,187.30 L330.5,187.30 L331.0,187.30 L331.5,188.12 L332.0,188.12 L332.5,187.30 L333.0,187.30 L333.5,191.17 L334.0,191.17 L334.5,190.31 L335.0,190.31 L335.5,187.92 L336.0,187.92 L336.5,187.30 L337.0,187.30 L337.5,187.30 L338.0,187.30 L338.5,188.25 L339.0,188.25 L339.5,187.30 L340.0,187.30 L340.5,191.16 L341.0,187.30 L341.5,187.30 L342.0,187.30 L342.5,187.30 L343.0,187.30 L343.5,187.30 L344.0,187.30 L344.5,187.30 L345.0,187.30 L345.5,187.30 L346.0,187.30 L346.5,187.30 L347.0,187.30 L347.5,187.30 L348.0,187.30 L348.5,187.30 L349.0,187.30 L349.5,190.64 L350.0,190.64 L350.5,191.03 L351.0,191.03 L351.5,188.12 L352.0,188.12 L352.5,191.67 L353.0,191.67 L353.5,188.67 L354.0,188.67 L354.5,187.30 L355.0,187.30 L355.5,189.76 L356.0,189.76 L356.5,187.30 L357.0,187.30 L357.5,190.15 L358.0,190.15 L358.5,189.77 L359.0,189.77 L359.5,190.45 L360.0,190.45 L360.5,190.19 L361.0,190.19 L361.5,188.81 L362.0,188.81 L362.5,188.79 L363.0,188.79 L363.5,190.15 L364.0,190.15 L364.5,189.68 L365.0,189.68 L365.5,187.30 L366.0,187.30 L366.5,187.30 L367.0,187.30 L367.5,187.30 L368.0,187.30 L368.5,187.30 L369.0,187.30 L369.5,187.30 L370.0,187.30 L370.5,187.30 L371.0,187.30 L371.5,187.30 L372.0,188.81 L372.5,188.42 L373.0,188.42 L373.5,190.49 L374.0,190.49 L374.5,190.04 L375.0,190.04 L375.5,190.97 L376.0,190.97 L376.5,193.62 L377.0,193.62 L377.5,188.30 L378.0,188.30 L378.5,190.31 L379.0,190.31 L379.5,190.81 L380.0,190.81 L380.5,188.64 L381.0,189.05 L381.5,193.43 L382.0,194.30 L382.5,193.43 L383.0,189.05 L383.5,188.34 L384.0,188.34 L384.5,189.78 L385.0,187.30 L385.5,187.30 L386.0,187.30 L386.5,187.30 L387.0,187.30 L387.5,187.30 L388.0,187.30 L388.5,187.30 L389.0,187.30 L389.5,187.30 L390.0,187.30 L390.5,187.30 L391.0,187.30 L391.5,187.30 L392.0,187.30 L392.5,187.30 L393.0,187.30 L393.5,187.30 L394.0,187.30 L394.5,187.30 L395.0,187.30 L395.5,187.30 L396.0,187.30 L396.5,187.30 L397.0,187.30 L397.5,187.30 L398.0,187.30 L398.5,187.30 L399.0,187.30 L399.5,187.30 L400.0,187.30 L400.5,187.30 L401.0,187.30 L401.5,187.90 L402.0,187.90 L402.5,187.30 L403.0,187.30 L403.5,191.89 L404.0,191.89 L404.5,187.30 L405.0,187.30 L405.5,189.60 L406.0,192.29 L406.5,189.18 L407.0,187.30 L407.5,189.37 L408.0,189.37 L408.5,190.43 L409.0,190.43 L409.5,188.70 L410.0,188.70 L410.5,188.83 L411.0,188.83 L411.5,187.30 L412.0,187.30 L412.5,188.37 L413.0,188.37 L413.5,188.07 L414.0,193.11 L414.5,190.83 L415.0,187.30 L415.5,187.30 L416.0,187.30 L416.5,187.30 L417.0,187.30 L417.5,189.44 L418.0,189.70 L418.5,192.70 L419.0,193.30 L419.5,192.70 L420.0,189.70 L420.5,189.57 L421.0,189.57 L421.5,189.24 L422.0,189.24 L422.5,190.69 L423.0,195.61 L423.5,195.37 L424.0,190.45 L424.5,189.22 L425.0,189.22 L425.5,187.30 L426.0,187.30 L426.5,189.16 L427.0,189.16 L427.5,189.92 L428.0,189.92 L428.5,188.68 L429.0,188.68 L429.5,188.30 L430.0,188.30 L430.5,187.30 L431.0,190.03 L431.5,190.91 L432.0,188.29 L432.5,188.79 L433.0,188.79 L433.5,187.30 L434.0,187.30 L434.5,189.43 L435.0,189.43 L435.5,187.71 L436.0,187.30 L436.5,187.30 L437.0,187.30 L437.5,187.30 L438.0,187.30 L438.5,187.30 L439.0,187.30 L439.5,188.99 L440.0,188.99 L440.5,187.83 L441.0,187.83 L441.5,188.77 L442.0,188.80 L442.5,192.55 L443.0,193.30 L443.5,192.55 L444.0,188.80 L444.5,188.00 L445.0,188.00 L445.5,187.98 L446.0,187.98 L446.5,187.30 L447.0,187.30 L447.5,188.37 L448.0,188.37 L448.5,187.30 L449.0,187.30 L449.5,189.30 L450.0,189.30 L450.5,187.30 L451.0,187.30 L451.5,188.35 L452.0,188.35 L452.5,192.14 L453.0,192.14 L453.5,190.71 L454.0,190.71 L454.5,188.75 L455.0,188.75 L455.5,188.82 L456.0,188.82 L456.5,187.30 L457.0,187.30 L457.5,187.30 L458.0,187.30 L458.5,188.42 L459.0,188.42 L459.5,187.69 L460.0,187.69 L460.5,190.28 L461.0,190.28 L461.5,190.90 L462.0,190.90 L462.5,187.30 L463.0,187.30 L463.5,187.30 L464.0,187.30 L464.5,187.30 L465.0,187.30 L465.5,190.56 L466.0,190.56 L466.5,187.30 L467.0,187.30 L467.5,190.98 L468.0,189.30 L468.5,194.30 L469.0,195.30 L469.5,194.30 L470.0,190.09 L470.5,189.62 L471.0,189.62 L471.5,188.46 L472.0,188.46 L472.5,191.30 L473.0,191.30 L473.5,189.33 L474.0,189.33 L474.5,190.39 L475.0,190.39 L475.5,187.30 L476.0,187.30 L476.5,187.30 L477.0,187.30 L477.5,188.02 L478.0,188.02 L478.5,188.44 L479.0,188.44 L479.5,187.30 L480.0,187.30 L480.5,188.23 L481.0,188.23 L481.5,189.98 L482.0,189.98 L482.5,187.30 L483.0,187.30 L483.5,187.30 L484.0,187.30 L484.5,187.30 L485.0,187.30 L485.5,189.29 L486.0,189.29 L486.5,188.24 L487.0,188.24 L487.5,187.30 L488.0,187.30 L488.5,189.05 L489.0,189.05 L489.5,189.24 L490.0,189.24 L490.5,187.30 L491.0,187.30 L491.5,187.30 L492.0,187.30 L492.5,187.30 L493.0,187.30 L493.5,187.30 L494.0,187.30 L494.5,187.95 L495.0,187.95 L495.5,187.30 L496.0,187.30 L496.5,189.54 L497.0,189.54 L497.5,187.99 L498.0,187.99 L498.5,190.48 L499.0,190.48 L499.5,189.06 L500.0,189.06 L500.5,188.25 L501.0,188.25 L501.5,188.99 L502.0,188.99 L502.5,187.30 L503.0,187.30 L503.5,187.82 L504.0,187.82 L504.5,187.30 L505.0,187.30 L505.5,189.31 L506.0,189.31 L506.5,190.33 L507.0,190.33 L507.5,187.30 L508.0,187.30 L508.5,188.78 L509.0,188.78 L509.5,188.23 L510.0,188.23 L510.5,187.30 L511.0,190.39 L511.5,192.24 L512.0,192.67 L512.5,192.59 L513.0,189.25 L513.5,188.10 L514.0,188.10 L514.5,188.39 L515.0,188.39 L515.5,187.30 L516.0,187.30 L516.5,187.30 L517.0,187.30 L517.5,189.14 L518.0,189.14 L518.5,189.21 L519.0,189.21 L519.5,187.30 L520.0,187.30 L520.5,187.30 L521.0,187.30 L521.5,187.30 L522.0,187.30 L522.5,187.30 L523.0,187.30 L523.5,187.30 L524.0,187.30 L524.5,189.51 L525.0,189.51 L525.5,187.30 L526.0,187.30 L526.5,187.30 L527.0,187.30 L527.5,191.15 L528.0,191.15 L528.5,188.99 L529.0,188.99 L529.5,187.77 L530.0,187.77 L530.5,187.71 L531.0,187.71 L531.5,187.30 L532.0,187.30 L532.5,189.75 L533.0,189.75 L533.5,189.45 L534.0,189.45 L534.5,187.30 L535.0,187.30 L535.5,188.48 L536.0,188.48 L536.5,188.36 L537.0,188.36 L537.5,188.91 L538.0,188.91 L538.5,189.47 L539.0,189.47 L539.5,187.30 L540.0,187.30 L540.5,187.30 L541.0,187.30 L541.5,189.08 L542.0,189.08 L542.5,188.17 L543.0,188.17 L543.5,189.69 L544.0,189.69 L544.5,187.30 L545.0,187.30 L545.5,187.30 L546.0,187.30 L546.5,188.29 L547.0,188.29 L547.5,187.30 L548.0,187.30 L548.5,187.30 L549.0,187.30 L549.5,187.96 L550.0,187.96 L550.5,187.30 L551.0,187.30 L551.5,187.30 L552.0,189.68 L552.5,187.30 L553.0,187.30 L553.5,189.19 L554.0,189.19 L554.5,187.30 L555.0,187.30 L555.5,187.30 L556.0,187.30 L556.5,187.30 L557.0,189.80 L557.5,193.97 L558.0,197.30 L558.5,197.30 L559.0,194.80 L559.5,190.63 L560.0,190.48 L560.5,187.30 L561.0,187.30 L561.5,195.94 L562.0,195.94 L562.5,188.35 L563.0,188.35 L563.5,190.34 L564.0,190.34 L564.5,190.69 L565.0,190.69 L565.5,187.30 L566.0,187.30 L566.5,187.30 L567.0,187.30 L567.5,187.87 L568.0,187.87 L568.5,189.81 L569.0,189.81 L569.5,187.91 L570.0,187.30 L570.5,187.30 L571.0,187.30 L571.5,187.30 L572.0,187.30 L572.5,187.30 L573.0,187.30 L573.5,187.30 L574.0,187.30 L574.5,187.30 L575.0,187.30 L575.5,187.30 L576.0,187.30 L576.5,190.25 L577.0,190.25 L577.5,188.65 L578.0,188.65 L578.5,188.69 L579.0,188.69 L579.5,189.26 L580.0,189.26 L580.5,190.03 L581.0,190.03 L581.5,190.21 L582.0,190.21 L582.5,189.64 L583.0,189.64 L583.5,193.84 L584.0,193.84 L584.5,188.92 L585.0,188.92 L585.5,187.30 L586.0,187.30 L586.5,190.43 L587.0,190.43 L587.5,187.30 L588.0,187.30 L588.5,187.30 L589.0,187.30 L589.5,191.29 L590.0,191.29 L590.5,187.30 L591.0,187.30 L591.5,188.45 L592.0,188.45 L592.5,189.66 L593.0,187.30 L593.5,187.30 L594.0,187.30 L594.5,187.30 L595.0,187.30 L595.5,187.30 L596.0,187.30 L596.5,187.30 L597.0,188.64 L597.5,187.30 L598.0,187.30 L598.5,188.14 L599.0,188.14 L599.5,198.23 L600.0,198.23 L600.5,188.14 L601.0,188.14 L601.5,190.16 L602.0,190.16 L602.5,189.55 L603.0,189.55 L603.5,188.09 L604.0,188.09 L604.5,187.30 L605.0,187.30 L605.5,188.42 L606.0,188.42 L606.5,187.30 L607.0,187.30 L607.5,189.52 L608.0,189.52 L608.5,187.30 L609.0,187.30 L609.5,187.30 L610.0,187.30 L610.5,188.53 L611.0,188.53 L611.5,187.30 L612.0,187.30 L612.5,188.49 L613.0,188.49 L613.5,192.03 L614.0,197.22 L614.5,190.93 L615.0,187.30 L615.5,189.82 L616.0,189.82 L616.5,189.65 L617.0,189.65 L617.5,190.32 L618.0,190.32 L618.5,191.47 L619.0,191.47 L619.5,187.30 L620.0,187.30 L620.5,189.60 L621.0,195.03 L621.5,195.87 L622.0,190.43 L622.5,190.69 L623.0,190.69 L623.5,188.97 L624.0,188.97 L624.5,189.89 L625.0,189.89 L625.5,190.86 L626.0,190.86 L626.5,189.42 L627.0,189.42 L627.5,190.37 L628.0,190.37 L628.5,187.30 L629.0,187.30 L629.5,190.33 L630.0,187.30 L630.5,187.30 L631.0,187.30 L631.5,187.30 L632.0,187.30 L632.5,187.30 L633.0,187.30 L633.5,187.30 L634.0,187.30 L634.5,187.30 L635.0,187.30 L635.5,187.30 L636.0,187.30 L636.5,187.30 L637.0,187.30 L637.5,187.30 L638.0,187.30 L638.5,187.30 L639.0,187.30 L639.5,187.30 L640.0,187.30 L640.5,187.30 L641.0,187.30 L641.5,190.62 L642.0,190.62 L642.5,187.30 L643.0,187.30 L643.5,187.30 L644.0,187.30 L644.5,187.30 L645.0,187.30 L645.5,187.30 L646.0,187.30 L646.5,187.30 L647.0,187.30 L647.5,187.30 L648.0,187.30 L648.5,191.10 L649.0,191.10 L649.5,187.30 L650.0,187.30 L650.5,187.30 L651.0,187.30 L651.5,187.30 L652.0,187.30 L652.5,187.30 L653.0,192.45 L653.5,187.99 L654.0,187.99 L654.5,190.42 L655.0,190.42 L655.5,188.21 L656.0,188.21 L656.5,187.30 L657.0,187.30 L657.5,187.88 L658.0,187.88 L658.5,187.30 L659.0,187.30 L659.5,187.30 L660.0,187.30 L660.5,187.30 L661.0,187.30 L661.5,188.64 L662.0,188.64 L662.5,190.48 L663.0,190.48 L663.5,191.47 L664.0,191.47 L664.5,189.08 L665.0,189.08 L665.5,188.63 L666.0,188.63 L666.5,189.22 L667.0,189.22 L667.5,187.91 L668.0,187.91 L668.5,187.30 L669.0,187.30 L669.5,187.30 L670.0,187.30 L670.5,187.84 L671.0,187.84 L671.5,189.71 L672.0,189.71 L672.5,190.15 L673.0,187.30 L673.5,187.30 L674.0,187.30 L674.5,187.30 L675.0,187.30 L675.5,187.30 L676.0,192.95 L676.5,189.31 L677.0,189.31 L677.5,187.30 L678.0,187.30 L678.5,190.25 L679.0,190.25 L679.5,188.54 L680.0,190.30 L680.5,190.80 L681.0,191.30 L681.5,191.80 L682.0,192.30 L682.5,193.05 L683.0,193.80 L683.5,194.55 L684.0,195.30 L684.5,195.30 L685.0,195.30 L685.0,187.30 Z" fill="#155e98"/>
<rect x="580.9" y="50.8" width="1.3" height="4.6" fill="#f2c12e"/>
<rect x="70.7" y="203" width="614.3" height="4" fill="#e3e3e3"/>
<rect x="355.8" y="203" width="8" height="4" fill="#4d4d4d"/>
<rect x="365.8" y="203" width="123.8" height="4" fill="#4d4d4d"/>
<path d="M70.7,210.9 H685" stroke="#222" stroke-width="1.3"/>
<path d="M70.70,208.3 V210.9" stroke="#222" stroke-width="0.9"/>
<path d="M201.40,208.3 V210.9" stroke="#222" stroke-width="0.9"/>
<path d="M332.10,208.3 V210.9" stroke="#222" stroke-width="0.9"/>
<path d="M462.80,208.3 V210.9" stroke="#222" stroke-width="0.9"/>
<path d="M593.50,208.3 V210.9" stroke="#222" stroke-width="0.9"/>
<rect x="108.7" y="243.7" width="14.9" height="75.7" fill="#a9adad"/>
<rect x="123.6" y="243.7" width="49.6" height="75.7" fill="#dcdcdc"/>
<rect x="173.2" y="243.7" width="1.8" height="75.7" fill="#eef0ee"/>
<path d="M106.2,258.20 H108.7" stroke="#222" stroke-width="0.8"/>
<path d="M106.2,281.10 H108.7" stroke="#222" stroke-width="0.8"/>
<path d="M106.2,304.80 H108.7" stroke="#222" stroke-width="0.8"/>
<circle cx="111.3" cy="254.6" r="2.7" fill="#d4686a" fill-opacity="0.9"/>
<circle cx="111.2" cy="258.0" r="2.7" fill="#d4686a" fill-opacity="0.9"/>
<circle cx="111.6" cy="261.0" r="2.7" fill="#d4686a" fill-opacity="0.9"/>
<circle cx="113.8" cy="255.2" r="2.7" fill="#d4686a" fill-opacity="0.9"/>
<circle cx="114.2" cy="259.6" r="2.7" fill="#d4686a" fill-opacity="0.9"/>
<circle cx="115.0" cy="261.8" r="2.7" fill="#d4686a" fill-opacity="0.9"/>
<circle cx="116.0" cy="255.8" r="2.7" fill="#d4686a" fill-opacity="0.9"/>
<circle cx="114.6" cy="257.4" r="2.7" fill="#d4686a" fill-opacity="0.9"/>
<circle cx="121.1" cy="255.2" r="2.7" fill="#d4686a" fill-opacity="0.9"/>
<circle cx="124.0" cy="259.8" r="2.7" fill="#d4686a" fill-opacity="0.9"/>
<circle cx="127.3" cy="255.9" r="2.7" fill="#d4686a" fill-opacity="0.9"/>
<circle cx="131.0" cy="254.3" r="2.7" fill="#d4686a" fill-opacity="0.9"/>
<circle cx="131.7" cy="256.8" r="2.7" fill="#d4686a" fill-opacity="0.9"/>
<circle cx="134.8" cy="261.1" r="2.7" fill="#d4686a" fill-opacity="0.9"/>
<circle cx="136.0" cy="254.3" r="2.7" fill="#d4686a" fill-opacity="0.9"/>
<circle cx="136.6" cy="257.4" r="2.7" fill="#d4686a" fill-opacity="0.9"/>
<circle cx="138.5" cy="261.1" r="2.7" fill="#d4686a" fill-opacity="0.9"/>
<circle cx="140.4" cy="254.7" r="2.7" fill="#d4686a" fill-opacity="0.9"/>
<circle cx="141.2" cy="256.2" r="2.7" fill="#d4686a" fill-opacity="0.9"/>
<circle cx="147.2" cy="254.7" r="2.7" fill="#d4686a" fill-opacity="0.9"/>
<circle cx="149.0" cy="258.4" r="2.7" fill="#d4686a" fill-opacity="0.9"/>
<circle cx="151.9" cy="258.4" r="2.7" fill="#d4686a" fill-opacity="0.9"/>
<circle cx="157.7" cy="260.5" r="2.7" fill="#d4686a" fill-opacity="0.9"/>
<circle cx="160.2" cy="256.8" r="2.7" fill="#d4686a" fill-opacity="0.9"/>
<circle cx="173.2" cy="257.4" r="2.7" fill="#d4686a" fill-opacity="0.9"/>
<circle cx="184.4" cy="258.0" r="2.7" fill="#d4686a" fill-opacity="0.9"/>
<circle cx="183.2" cy="261.1" r="2.7" fill="#d4686a" fill-opacity="0.9"/>
<circle cx="209.7" cy="254.9" r="2.7" fill="#d4686a" fill-opacity="0.9"/>
<circle cx="336.2" cy="257.3" r="2.7" fill="#d4686a" fill-opacity="0.9"/>
<circle cx="343.0" cy="261.0" r="2.7" fill="#d4686a" fill-opacity="0.9"/>
<circle cx="111.3" cy="280.9" r="2.7" fill="#d4686a" fill-opacity="0.9"/>
<circle cx="112.7" cy="282.4" r="2.7" fill="#d4686a" fill-opacity="0.9"/>
<circle cx="118.9" cy="282.4" r="2.7" fill="#d4686a" fill-opacity="0.9"/>
<circle cx="121.1" cy="279.9" r="2.7" fill="#d4686a" fill-opacity="0.9"/>
<circle cx="123.6" cy="277.7" r="2.7" fill="#d4686a" fill-opacity="0.9"/>
<circle cx="127.3" cy="282.4" r="2.7" fill="#d4686a" fill-opacity="0.9"/>
<circle cx="128.0" cy="284.9" r="2.7" fill="#d4686a" fill-opacity="0.9"/>
<circle cx="132.3" cy="282.4" r="2.7" fill="#d4686a" fill-opacity="0.9"/>
<circle cx="131.7" cy="284.6" r="2.7" fill="#d4686a" fill-opacity="0.9"/>
<circle cx="137.9" cy="278.7" r="2.7" fill="#d4686a" fill-opacity="0.9"/>
<circle cx="138.5" cy="281.2" r="2.7" fill="#d4686a" fill-opacity="0.9"/>
<circle cx="141.0" cy="283.6" r="2.7" fill="#d4686a" fill-opacity="0.9"/>
<circle cx="142.2" cy="279.3" r="2.7" fill="#d4686a" fill-opacity="0.9"/>
<circle cx="144.7" cy="280.5" r="2.7" fill="#d4686a" fill-opacity="0.9"/>
<circle cx="145.9" cy="282.4" r="2.7" fill="#d4686a" fill-opacity="0.9"/>
<circle cx="147.8" cy="281.2" r="2.7" fill="#d4686a" fill-opacity="0.9"/>
<circle cx="150.7" cy="281.4" r="2.7" fill="#d4686a" fill-opacity="0.9"/>
<circle cx="161.5" cy="283.6" r="2.7" fill="#d4686a" fill-opacity="0.9"/>
<circle cx="167.7" cy="284.9" r="2.7" fill="#d4686a" fill-opacity="0.9"/>
<circle cx="172.0" cy="280.2" r="2.7" fill="#d4686a" fill-opacity="0.9"/>
<circle cx="196.3" cy="283.9" r="2.7" fill="#d4686a" fill-opacity="0.9"/>
<circle cx="204.2" cy="282.6" r="2.7" fill="#d4686a" fill-opacity="0.9"/>
<circle cx="215.4" cy="279.7" r="2.7" fill="#d4686a" fill-opacity="0.9"/>
<circle cx="220.3" cy="279.2" r="2.7" fill="#d4686a" fill-opacity="0.9"/>
<circle cx="214.1" cy="284.6" r="2.7" fill="#d4686a" fill-opacity="0.9"/>
<circle cx="110.9" cy="301.5" r="2.7" fill="#d4686a" fill-opacity="0.9"/>
<circle cx="110.9" cy="307.6" r="2.7" fill="#d4686a" fill-opacity="0.9"/>
<circle cx="116.2" cy="303.8" r="2.7" fill="#d4686a" fill-opacity="0.9"/>
<circle cx="118.5" cy="305.3" r="2.7" fill="#d4686a" fill-opacity="0.9"/>
<circle cx="121.0" cy="306.8" r="2.7" fill="#d4686a" fill-opacity="0.9"/>
<circle cx="123.5" cy="308.3" r="2.7" fill="#d4686a" fill-opacity="0.9"/>
<circle cx="124.2" cy="301.8" r="2.7" fill="#d4686a" fill-opacity="0.9"/>
<circle cx="127.0" cy="302.2" r="2.7" fill="#d4686a" fill-opacity="0.9"/>
<circle cx="128.2" cy="305.4" r="2.7" fill="#d4686a" fill-opacity="0.9"/>
<circle cx="125.3" cy="305.0" r="2.7" fill="#d4686a" fill-opacity="0.9"/>
<circle cx="128.0" cy="308.2" r="2.7" fill="#d4686a" fill-opacity="0.9"/>
<circle cx="131.5" cy="302.6" r="2.7" fill="#d4686a" fill-opacity="0.9"/>
<circle cx="132.0" cy="307.5" r="2.7" fill="#d4686a" fill-opacity="0.9"/>
<circle cx="133.9" cy="303.8" r="2.7" fill="#d4686a" fill-opacity="0.9"/>
<circle cx="137.3" cy="302.9" r="2.7" fill="#d4686a" fill-opacity="0.9"/>
<circle cx="137.9" cy="306.4" r="2.7" fill="#d4686a" fill-opacity="0.9"/>
<circle cx="141.0" cy="301.7" r="2.7" fill="#d4686a" fill-opacity="0.9"/>
<circle cx="145.3" cy="307.3" r="2.7" fill="#d4686a" fill-opacity="0.9"/>
<circle cx="149.0" cy="305.4" r="2.7" fill="#d4686a" fill-opacity="0.9"/>
<circle cx="151.5" cy="306.6" r="2.7" fill="#d4686a" fill-opacity="0.9"/>
<circle cx="156.5" cy="307.9" r="2.7" fill="#d4686a" fill-opacity="0.9"/>
<circle cx="157.7" cy="301.9" r="2.7" fill="#d4686a" fill-opacity="0.9"/>
<circle cx="164.6" cy="306.6" r="2.7" fill="#d4686a" fill-opacity="0.9"/>
<circle cx="177.0" cy="304.8" r="2.7" fill="#d4686a" fill-opacity="0.9"/>
<circle cx="181.9" cy="305.2" r="2.7" fill="#d4686a" fill-opacity="0.9"/>
<circle cx="187.5" cy="308.1" r="2.7" fill="#d4686a" fill-opacity="0.9"/>
<circle cx="196.3" cy="305.0" r="2.7" fill="#d4686a" fill-opacity="0.9"/>
<circle cx="205.5" cy="307.0" r="2.7" fill="#d4686a" fill-opacity="0.9"/>
<circle cx="213.6" cy="302.5" r="2.7" fill="#d4686a" fill-opacity="0.9"/>
<circle cx="220.3" cy="303.2" r="2.7" fill="#d4686a" fill-opacity="0.9"/>
<circle cx="228.5" cy="307.5" r="2.7" fill="#d4686a" fill-opacity="0.9"/>
<circle cx="299.4" cy="303.7" r="2.7" fill="#d4686a" fill-opacity="0.9"/>
<path d="M108.7,243.7 V319.4 H354.4" fill="none" stroke="#222" stroke-width="1.4"/>
<path d="M108.70,319.4 V321.4" stroke="#222" stroke-width="0.8"/>
<path d="M141.40,319.4 V321.4" stroke="#222" stroke-width="0.8"/>
<path d="M174.10,319.4 V321.4" stroke="#222" stroke-width="0.8"/>
<path d="M206.80,319.4 V321.4" stroke="#222" stroke-width="0.8"/>
<path d="M239.50,319.4 V321.4" stroke="#222" stroke-width="0.8"/>
<path d="M272.20,319.4 V321.4" stroke="#222" stroke-width="0.8"/>
<path d="M304.90,319.4 V321.4" stroke="#222" stroke-width="0.8"/>
<path d="M337.60,319.4 V321.4" stroke="#222" stroke-width="0.8"/>
<rect x="108.9" y="361.0" width="179.1" height="13.8" fill="#cd5c5c"/>
<path d="M106.2,367.90 H108.5" stroke="#222" stroke-width="0.8"/>
<rect x="108.9" y="384.5" width="157.8" height="13.8" fill="#cd5c5c"/>
<path d="M106.2,391.40 H108.5" stroke="#222" stroke-width="0.8"/>
<rect x="108.9" y="408.3" width="219.7" height="13.8" fill="#cd5c5c"/>
<path d="M106.2,415.20 H108.5" stroke="#222" stroke-width="0.8"/>
<path d="M108.5,353.3 V429.3 H354.4" fill="none" stroke="#222" stroke-width="1.4"/>
<path d="M108.50,429.3 V431.4" stroke="#222" stroke-width="0.8"/>
<path d="M166.97,429.3 V431.4" stroke="#222" stroke-width="0.8"/>
<path d="M225.45,429.3 V431.4" stroke="#222" stroke-width="0.8"/>
<path d="M283.93,429.3 V431.4" stroke="#222" stroke-width="0.8"/>
<path d="M342.40,429.3 V431.4" stroke="#222" stroke-width="0.8"/>
<rect x="470.1" y="262.0" width="24.0" height="22.6" fill="#cd5c5c"/>
<rect x="470.1" y="284.6" width="24.0" height="112.4" fill="#a6a9aa"/>
<rect x="470.1" y="397.0" width="24.0" height="17.2" fill="#155e98"/>
<rect x="497.1" y="262.0" width="24.0" height="69.2" fill="#cd5c5c"/>
<rect x="497.1" y="331.2" width="24.0" height="73.0" fill="#a6a9aa"/>
<rect x="497.1" y="404.2" width="24.0" height="10.0" fill="#155e98"/>
<rect x="531.9" y="262.0" width="24.0" height="18.3" fill="#cd5c5c"/>
<rect x="531.9" y="280.3" width="24.0" height="117.2" fill="#a6a9aa"/>
<rect x="531.9" y="397.5" width="24.0" height="16.7" fill="#155e98"/>
<rect x="558.9" y="262.0" width="24.0" height="56.8" fill="#cd5c5c"/>
<rect x="558.9" y="318.8" width="24.0" height="86.9" fill="#a6a9aa"/>
<rect x="558.9" y="405.7" width="24.0" height="8.5" fill="#155e98"/>
<rect x="593.2" y="262.0" width="24.0" height="20.8" fill="#cd5c5c"/>
<rect x="593.2" y="282.8" width="24.0" height="112.2" fill="#a6a9aa"/>
<rect x="593.2" y="395.0" width="24.0" height="19.2" fill="#155e98"/>
<rect x="620.1" y="262.0" width="24.0" height="64.0" fill="#cd5c5c"/>
<rect x="620.1" y="326.0" width="24.0" height="77.9" fill="#a6a9aa"/>
<rect x="620.1" y="403.9" width="24.0" height="10.3" fill="#155e98"/>
<path d="M466.0,414.2 H524.7" stroke="#222" stroke-width="1.3"/>
<path d="M527.9,414.2 H586.5" stroke="#222" stroke-width="1.3"/>
<path d="M589.4,414.2 H648.3" stroke="#222" stroke-width="1.3"/>
<path d="M466.3,262 V414.2" stroke="#222" stroke-width="1.1"/>
<path d="M464.6,264.40 H466.3" stroke="#222" stroke-width="0.8"/>
<path d="M464.6,299.80 H466.3" stroke="#222" stroke-width="0.8"/>
<path d="M464.6,337.80 H466.3" stroke="#222" stroke-width="0.8"/>
<path d="M464.6,375.70 H466.3" stroke="#222" stroke-width="0.8"/>
<path d="M464.6,413.60 H466.3" stroke="#222" stroke-width="0.8"/>
<rect x="480.5" y="445" width="20.2" height="10.5" fill="#155e98"/>
<rect x="558" y="445" width="20.2" height="10.5" fill="#cd5c5c"/>
<text x="-0.810" y="10.386" font-size="13.500" fill="#231f20" font-weight="bold" textLength="10.347" lengthAdjust="spacingAndGlyphs" >A</text>
<text x="65.416" y="20.131" font-size="9.500" fill="#4d4d4d" textLength="20.971" lengthAdjust="spacingAndGlyphs" >Chr 3</text>
<text x="56.181" y="26.985" font-size="9.300" fill="#4d4d4d" textLength="4.545" lengthAdjust="spacingAndGlyphs" >1</text>
<text x="44.343" y="59.504" font-size="9.400" fill="#4d4d4d" textLength="14.391" lengthAdjust="spacingAndGlyphs" >-0.2</text>
<text x="56.181" y="73.585" font-size="9.300" fill="#4d4d4d" textLength="4.545" lengthAdjust="spacingAndGlyphs" >1</text>
<text x="44.343" y="106.605" font-size="9.400" fill="#4d4d4d" textLength="14.391" lengthAdjust="spacingAndGlyphs" >-0.2</text>
<text x="56.181" y="114.285" font-size="9.300" fill="#4d4d4d" textLength="4.545" lengthAdjust="spacingAndGlyphs" >1</text>
<text x="44.343" y="147.304" font-size="9.400" fill="#4d4d4d" textLength="14.391" lengthAdjust="spacingAndGlyphs" >-0.2</text>
<text x="56.181" y="160.685" font-size="9.300" fill="#4d4d4d" textLength="4.545" lengthAdjust="spacingAndGlyphs" >1</text>
<text x="44.343" y="193.605" font-size="9.400" fill="#4d4d4d" textLength="14.391" lengthAdjust="spacingAndGlyphs" >-0.2</text>
<text x="657.773" y="32.597" font-size="11.400" fill="#231f20" font-weight="bold" textLength="28.752" lengthAdjust="spacingAndGlyphs" >Col-0</text>
<text x="608.388" y="71.659" font-size="9.900" fill="#231f20" stroke="#231f20" stroke-width="0.42" stroke-linejoin="round" textLength="77.167" lengthAdjust="spacingAndGlyphs" ><tspan font-weight="bold" font-style="italic" stroke-width="0">tsk-4</tspan> Gen. X #1</text>
<text x="608.388" y="116.164" font-size="9.900" fill="#231f20" stroke="#231f20" stroke-width="0.42" stroke-linejoin="round" textLength="78.240" lengthAdjust="spacingAndGlyphs" ><tspan font-weight="bold" font-style="italic" stroke-width="0">tsk-4</tspan> Gen. X #2</text>
<text x="608.388" y="159.750" font-size="9.900" fill="#231f20" stroke="#231f20" stroke-width="0.42" stroke-linejoin="round" textLength="78.240" lengthAdjust="spacingAndGlyphs" ><tspan font-weight="bold" font-style="italic" stroke-width="0">tsk-4</tspan> Gen. X #3</text>
<text x="69.193" y="221.061" font-size="8.700" fill="#4d4d4d" textLength="5.223" lengthAdjust="spacingAndGlyphs" >0</text>
<text x="199.130" y="221.061" font-size="8.700" fill="#4d4d4d" textLength="5.792" lengthAdjust="spacingAndGlyphs" >5</text>
<text x="327.700" y="221.061" font-size="8.700" fill="#4d4d4d" textLength="9.837" lengthAdjust="spacingAndGlyphs" >10</text>
<text x="458.271" y="221.061" font-size="8.700" fill="#4d4d4d" textLength="9.837" lengthAdjust="spacingAndGlyphs" >15</text>
<text x="589.239" y="221.061" font-size="8.700" fill="#4d4d4d" textLength="23.321" lengthAdjust="spacingAndGlyphs" >20 Mb</text>
<text transform="translate(18.045,172.131) rotate(-90)" x="0" y="0" font-size="10.600" fill="#231f20" font-weight="bold" textLength="125.847" lengthAdjust="spacingAndGlyphs" >Log2 ratio of normalized</text>
<text transform="translate(30.014,179.630) rotate(-90)" x="0" y="0" font-size="10.600" fill="#231f20" font-weight="bold" textLength="140.749" lengthAdjust="spacingAndGlyphs" >coverage to Col-0 coverage</text>
<text x="0.254" y="237.000" font-size="13.500" fill="#231f20" font-weight="bold" textLength="9.474" lengthAdjust="spacingAndGlyphs" >B</text>
<text x="29.242" y="261.659" font-size="9.900" fill="#231f20" stroke="#231f20" stroke-width="0.42" stroke-linejoin="round" textLength="75.728" lengthAdjust="spacingAndGlyphs" ><tspan font-weight="bold" font-style="italic" stroke-width="0">tsk-4</tspan> Gen. X #1</text>
<text x="27.971" y="284.413" font-size="9.900" fill="#231f20" stroke="#231f20" stroke-width="0.42" stroke-linejoin="round" textLength="76.122" lengthAdjust="spacingAndGlyphs" ><tspan font-weight="bold" font-style="italic" stroke-width="0">tsk-4</tspan> Gen. X #2</text>
<text x="27.969" y="307.219" font-size="9.900" fill="#231f20" stroke="#231f20" stroke-width="0.42" stroke-linejoin="round" textLength="76.122" lengthAdjust="spacingAndGlyphs" ><tspan font-weight="bold" font-style="italic" stroke-width="0">tsk-4</tspan> Gen. X #3</text>
<text x="105.552" y="329.333" font-size="9.100" fill="#4d4d4d" textLength="4.984" lengthAdjust="spacingAndGlyphs" >0</text>
<text x="134.352" y="329.333" font-size="9.100" fill="#4d4d4d" textLength="12.210" lengthAdjust="spacingAndGlyphs" >0.2</text>
<text x="167.527" y="329.333" font-size="9.100" fill="#4d4d4d" textLength="12.210" lengthAdjust="spacingAndGlyphs" >0.4</text>
<text x="201.362" y="329.333" font-size="9.100" fill="#4d4d4d" textLength="12.210" lengthAdjust="spacingAndGlyphs" >0.6</text>
<text x="233.381" y="329.333" font-size="9.100" fill="#4d4d4d" textLength="12.210" lengthAdjust="spacingAndGlyphs" >0.8</text>
<text x="270.332" y="329.333" font-size="9.100" fill="#4d4d4d" textLength="4.597" lengthAdjust="spacingAndGlyphs" >1</text>
<text x="300.903" y="329.333" font-size="9.100" fill="#4d4d4d" textLength="12.210" lengthAdjust="spacingAndGlyphs" >1.2</text>
<text x="332.883" y="329.333" font-size="9.100" fill="#4d4d4d" textLength="25.763" lengthAdjust="spacingAndGlyphs" >1.4 Mb</text>
<text x="198.438" y="346.318" font-size="10.100" fill="#231f20" font-weight="bold" textLength="63.650" lengthAdjust="spacingAndGlyphs" >Size of CNVs</text>
<text x="336.362" y="248.023" font-size="7.600" fill="#231f20" font-weight="bold" textLength="32.773" lengthAdjust="spacingAndGlyphs" >n &gt; 10kb</text>
<text x="353.935" y="260.477" font-size="8.900" fill="#231f20" font-weight="bold" textLength="9.367" lengthAdjust="spacingAndGlyphs" >39</text>
<text x="353.935" y="284.288" font-size="8.900" fill="#231f20" font-weight="bold" textLength="9.367" lengthAdjust="spacingAndGlyphs" >31</text>
<text x="353.935" y="308.363" font-size="8.900" fill="#231f20" font-weight="bold" textLength="9.367" lengthAdjust="spacingAndGlyphs" >43</text>
<text x="0.104" y="360.632" font-size="13.500" fill="#231f20" font-weight="bold" textLength="9.679" lengthAdjust="spacingAndGlyphs" >C</text>
<text x="29.158" y="370.368" font-size="9.900" fill="#231f20" stroke="#231f20" stroke-width="0.42" stroke-linejoin="round" textLength="75.728" lengthAdjust="spacingAndGlyphs" ><tspan font-weight="bold" font-style="italic" stroke-width="0">tsk-4</tspan> Gen. X #1</text>
<text x="27.962" y="394.129" font-size="9.900" fill="#231f20" stroke="#231f20" stroke-width="0.42" stroke-linejoin="round" textLength="76.122" lengthAdjust="spacingAndGlyphs" ><tspan font-weight="bold" font-style="italic" stroke-width="0">tsk-4</tspan> Gen. X #2</text>
<text x="27.873" y="418.279" font-size="9.900" fill="#231f20" stroke="#231f20" stroke-width="0.42" stroke-linejoin="round" textLength="76.122" lengthAdjust="spacingAndGlyphs" ><tspan font-weight="bold" font-style="italic" stroke-width="0">tsk-4</tspan> Gen. X #3</text>
<text x="106.155" y="440.320" font-size="8.600" fill="#4d4d4d" textLength="4.697" lengthAdjust="spacingAndGlyphs" >0</text>
<text x="164.494" y="440.320" font-size="8.600" fill="#4d4d4d" textLength="5.330" lengthAdjust="spacingAndGlyphs" >5</text>
<text x="220.727" y="440.320" font-size="8.600" fill="#4d4d4d" textLength="9.538" lengthAdjust="spacingAndGlyphs" >10</text>
<text x="279.110" y="440.320" font-size="8.600" fill="#4d4d4d" textLength="9.538" lengthAdjust="spacingAndGlyphs" >15</text>
<text x="337.410" y="440.320" font-size="8.600" fill="#4d4d4d" textLength="22.274" lengthAdjust="spacingAndGlyphs" >20 Mb</text>
<text x="119.787" y="455.834" font-size="10.100" fill="#231f20" font-weight="bold" textLength="197.427" lengthAdjust="spacingAndGlyphs" >bp gained in CNVs across the genome</text>
<text x="395.305" y="236.750" font-size="11.200" fill="#231f20" font-weight="bold" textLength="10.311" lengthAdjust="spacingAndGlyphs" >D</text>
<text x="480.625" y="244.081" font-size="10.300" fill="#231f20" font-weight="bold" stroke="#231f20" stroke-width="0.22" stroke-linejoin="round" font-style="italic" textLength="25.818" lengthAdjust="spacingAndGlyphs" >tsk-4</text>
<text x="470.338" y="256.524" font-size="10.700" fill="#231f20" font-weight="bold" stroke="#231f20" stroke-width="0.22" stroke-linejoin="round" textLength="46.820" lengthAdjust="spacingAndGlyphs" >Gen. 3 #1</text>
<text x="543.218" y="244.081" font-size="10.300" fill="#231f20" font-weight="bold" stroke="#231f20" stroke-width="0.22" stroke-linejoin="round" font-style="italic" textLength="25.818" lengthAdjust="spacingAndGlyphs" >tsk-4</text>
<text x="532.782" y="256.524" font-size="10.700" fill="#231f20" font-weight="bold" stroke="#231f20" stroke-width="0.22" stroke-linejoin="round" textLength="46.820" lengthAdjust="spacingAndGlyphs" >Gen. 3 #2</text>
<text x="603.540" y="244.081" font-size="10.300" fill="#231f20" font-weight="bold" stroke="#231f20" stroke-width="0.22" stroke-linejoin="round" font-style="italic" textLength="25.818" lengthAdjust="spacingAndGlyphs" >tsk-4</text>
<text x="593.158" y="256.524" font-size="10.700" fill="#231f20" font-weight="bold" stroke="#231f20" stroke-width="0.22" stroke-linejoin="round" textLength="46.820" lengthAdjust="spacingAndGlyphs" >Gen. 3 #3</text>
<text x="442.628" y="267.447" font-size="9.800" fill="#4d4d4d" textLength="16.468" lengthAdjust="spacingAndGlyphs" >1.00</text>
<text x="442.628" y="302.676" font-size="9.800" fill="#4d4d4d" textLength="16.468" lengthAdjust="spacingAndGlyphs" >0.75</text>
<text x="442.628" y="340.468" font-size="9.800" fill="#4d4d4d" textLength="16.468" lengthAdjust="spacingAndGlyphs" >0.50</text>
<text x="442.628" y="378.726" font-size="9.800" fill="#4d4d4d" textLength="16.468" lengthAdjust="spacingAndGlyphs" >0.25</text>
<text x="442.628" y="416.716" font-size="9.800" fill="#4d4d4d" textLength="16.468" lengthAdjust="spacingAndGlyphs" >0.00</text>
<text transform="translate(434.591,382.356) rotate(-90)" x="0" y="0" font-size="9.900" fill="#231f20" font-weight="bold" textLength="90.643" lengthAdjust="spacingAndGlyphs" >Fraction of genes</text>
<text x="457.023" y="424.058" font-size="10.700" fill="#231f20" font-weight="bold" textLength="6.605" lengthAdjust="spacingAndGlyphs" >n</text>
<text x="469.117" y="424.363" font-size="9.400" fill="#4d4d4d" textLength="25.376" lengthAdjust="spacingAndGlyphs" >16,862</text>
<text x="502.255" y="424.363" font-size="9.400" fill="#4d4d4d" textLength="14.087" lengthAdjust="spacingAndGlyphs" >824</text>
<text x="531.133" y="424.363" font-size="9.400" fill="#4d4d4d" textLength="25.376" lengthAdjust="spacingAndGlyphs" >16,599</text>
<text x="564.072" y="424.363" font-size="9.400" fill="#4d4d4d" textLength="14.087" lengthAdjust="spacingAndGlyphs" >826</text>
<text x="592.647" y="424.363" font-size="9.400" fill="#4d4d4d" textLength="25.376" lengthAdjust="spacingAndGlyphs" >16,498</text>
<text x="625.392" y="424.363" font-size="9.400" fill="#4d4d4d" textLength="14.087" lengthAdjust="spacingAndGlyphs" >858</text>
<text x="479.535" y="439.781" font-size="14.900" fill="#231f20" font-weight="bold" textLength="4.976" lengthAdjust="spacingAndGlyphs" >-</text>
<text x="505.378" y="440.593" font-size="14.900" fill="#231f20" font-weight="bold" textLength="8.246" lengthAdjust="spacingAndGlyphs" >+</text>
<text x="540.965" y="439.781" font-size="14.900" fill="#231f20" font-weight="bold" textLength="4.976" lengthAdjust="spacingAndGlyphs" >-</text>
<text x="567.378" y="440.593" font-size="14.900" fill="#231f20" font-weight="bold" textLength="8.246" lengthAdjust="spacingAndGlyphs" >+</text>
<text x="603.152" y="439.781" font-size="14.900" fill="#231f20" font-weight="bold" textLength="4.976" lengthAdjust="spacingAndGlyphs" >-</text>
<text x="628.293" y="440.593" font-size="14.900" fill="#231f20" font-weight="bold" textLength="8.246" lengthAdjust="spacingAndGlyphs" >+</text>
<text x="397.325" y="438.400" font-size="11.600" fill="#231f20" font-weight="bold" textLength="67.361" lengthAdjust="spacingAndGlyphs" >Within a CNV</text>
<text x="507.188" y="456.392" font-size="12.100" fill="#231f20" font-weight="bold" textLength="38.649" lengthAdjust="spacingAndGlyphs" >&#8804; 2-fold</text>
<text x="586.537" y="456.392" font-size="12.100" fill="#231f20" font-weight="bold" textLength="38.649" lengthAdjust="spacingAndGlyphs" >&#8805; 2-fold</text>
</g></svg>
</body></html>
